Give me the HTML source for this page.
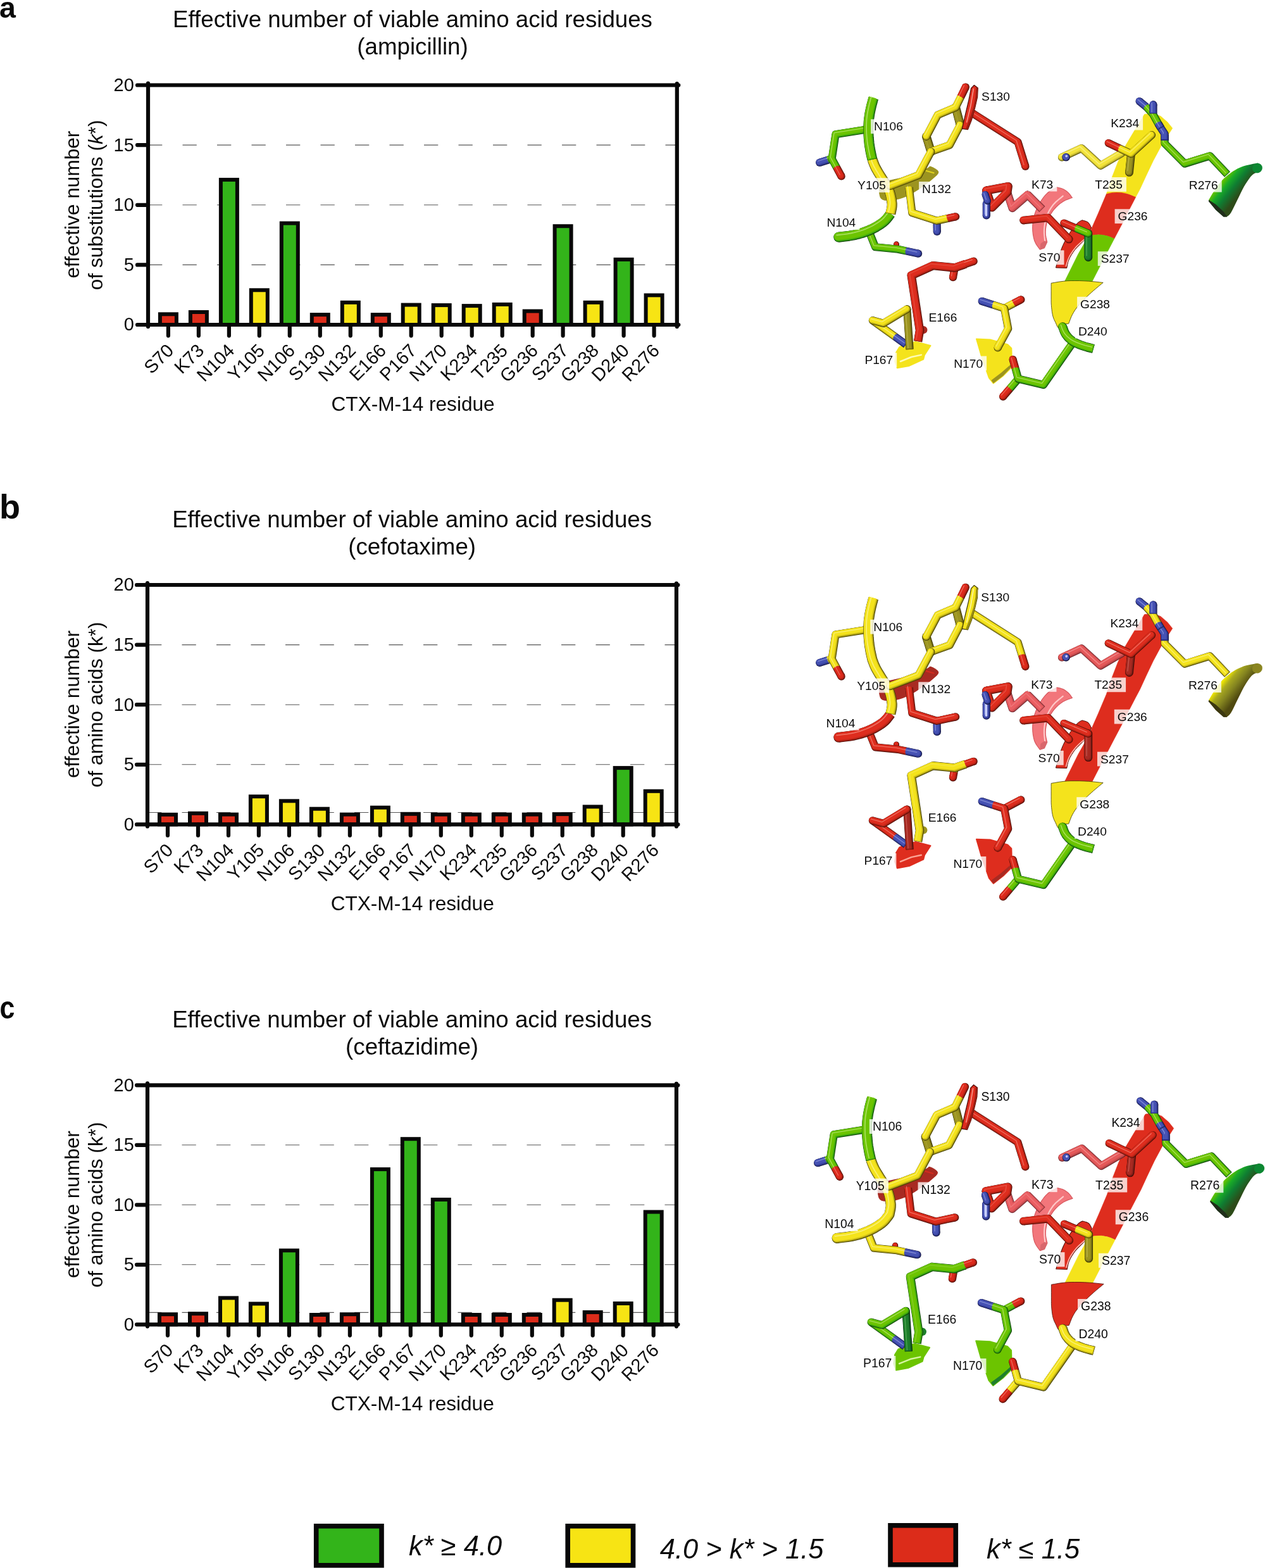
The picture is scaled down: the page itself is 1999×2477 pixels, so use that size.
<!DOCTYPE html>
<html lang="en"><head><meta charset="utf-8"><title>Effective number of viable amino acid residues</title>
<style>
html,body{margin:0;padding:0;background:#fff;}
body{width:1999px;height:2477px;overflow:hidden;}
svg{display:block;font-family:"Liberation Sans",Arial,Helvetica,sans-serif;}
text{fill:#0a0a0a;}
</style></head><body>
<svg width="1999" height="2477" viewBox="0 0 1999 2477">
<rect width="1999" height="2477" fill="#fff"/>
<g id="chart-a">
<line x1="234.0" y1="418.4" x2="1069.8" y2="418.4" stroke="#555" stroke-width="1.1" stroke-dasharray="22.3 32.2"/>
<line x1="234.0" y1="323.8" x2="1069.8" y2="323.8" stroke="#555" stroke-width="1.1" stroke-dasharray="22.3 32.2"/>
<line x1="234.0" y1="229.1" x2="1069.8" y2="229.1" stroke="#555" stroke-width="1.1" stroke-dasharray="22.3 32.2"/>
<rect x="252.9" y="496.3" width="26" height="16.7" fill="#dc2c1a" stroke="#080808" stroke-width="6"/>
<rect x="300.9" y="493.0" width="26" height="20.0" fill="#dc2c1a" stroke="#080808" stroke-width="6"/>
<rect x="348.9" y="283.9" width="26" height="229.1" fill="#33b41a" stroke="#080808" stroke-width="6"/>
<rect x="396.8" y="458.3" width="26" height="54.7" fill="#f7e414" stroke="#080808" stroke-width="6"/>
<rect x="444.8" y="352.6" width="26" height="160.4" fill="#33b41a" stroke="#080808" stroke-width="6"/>
<rect x="492.8" y="497.1" width="26" height="15.9" fill="#dc2c1a" stroke="#080808" stroke-width="6"/>
<rect x="540.8" y="477.8" width="26" height="35.2" fill="#f7e414" stroke="#080808" stroke-width="6"/>
<rect x="588.8" y="497.1" width="26" height="15.9" fill="#dc2c1a" stroke="#080808" stroke-width="6"/>
<rect x="636.7" y="481.6" width="26" height="31.4" fill="#f7e414" stroke="#080808" stroke-width="6"/>
<rect x="684.7" y="482.1" width="26" height="30.9" fill="#f7e414" stroke="#080808" stroke-width="6"/>
<rect x="732.7" y="483.1" width="26" height="29.9" fill="#f7e414" stroke="#080808" stroke-width="6"/>
<rect x="780.7" y="480.9" width="26" height="32.1" fill="#f7e414" stroke="#080808" stroke-width="6"/>
<rect x="828.7" y="491.5" width="26" height="21.5" fill="#dc2c1a" stroke="#080808" stroke-width="6"/>
<rect x="876.6" y="357.2" width="26" height="155.8" fill="#33b41a" stroke="#080808" stroke-width="6"/>
<rect x="924.6" y="477.8" width="26" height="35.2" fill="#f7e414" stroke="#080808" stroke-width="6"/>
<rect x="972.6" y="409.9" width="26" height="103.1" fill="#33b41a" stroke="#080808" stroke-width="6"/>
<rect x="1020.6" y="466.4" width="26" height="46.6" fill="#f7e414" stroke="#080808" stroke-width="6"/>
<g stroke="#080808" stroke-width="6.2" stroke-linecap="round" fill="none">
<path d="M234.0 131.5V516.0M1069.8 132.0V516.0M217.0 134.5H1072.3M217.0 513.0H1072.3"/>
<path d="M217.0 418.4H234.0M217.0 323.8H234.0M217.0 229.1H234.0M265.9 513.0V530.3M313.9 513.0V530.3M361.9 513.0V530.3M409.8 513.0V530.3M457.8 513.0V530.3M505.8 513.0V530.3M553.8 513.0V530.3M601.8 513.0V530.3M649.7 513.0V530.3M697.7 513.0V530.3M745.7 513.0V530.3M793.7 513.0V530.3M841.7 513.0V530.3M889.6 513.0V530.3M937.6 513.0V530.3M985.6 513.0V530.3M1033.6 513.0V530.3"/>
</g>
<g font-size="29" text-anchor="end">
<text x="211.8" y="522.4">0</text>
<text x="211.8" y="427.8">5</text>
<text x="211.8" y="333.1">10</text>
<text x="211.8" y="238.5">15</text>
<text x="211.8" y="143.9">20</text>
</g>
<g font-size="29" text-anchor="end">
<text transform="translate(276.1 555.5) rotate(-45)">S70</text>
<text transform="translate(324.1 555.5) rotate(-45)">K73</text>
<text transform="translate(372.1 555.5) rotate(-45)">N104</text>
<text transform="translate(420.0 555.5) rotate(-45)">Y105</text>
<text transform="translate(468.0 555.5) rotate(-45)">N106</text>
<text transform="translate(516.0 555.5) rotate(-45)">S130</text>
<text transform="translate(564.0 555.5) rotate(-45)">N132</text>
<text transform="translate(612.0 555.5) rotate(-45)">E166</text>
<text transform="translate(659.9 555.5) rotate(-45)">P167</text>
<text transform="translate(707.9 555.5) rotate(-45)">N170</text>
<text transform="translate(755.9 555.5) rotate(-45)">K234</text>
<text transform="translate(803.9 555.5) rotate(-45)">T235</text>
<text transform="translate(851.9 555.5) rotate(-45)">G236</text>
<text transform="translate(899.8 555.5) rotate(-45)">S237</text>
<text transform="translate(947.8 555.5) rotate(-45)">G238</text>
<text transform="translate(995.8 555.5) rotate(-45)">D240</text>
<text transform="translate(1043.8 555.5) rotate(-45)">R276</text>
</g>
<g font-size="31.6" text-anchor="middle">
<text transform="translate(125.2 323.1) rotate(-90)">effective number</text>
<text transform="translate(162.3 323.8) rotate(-90)">of substitutions (<tspan font-style="italic">k</tspan>*)</text>
<text x="652.6" y="648.8">CTX-M-14 residue</text>
</g>
<g font-size="36.7" text-anchor="middle">
<text x="652.0" y="42.7">Effective number of viable amino acid residues</text>
<text x="652.0" y="86.0">(ampicillin)</text>
</g>
</g>
<g id="chart-b">
<line x1="233.0" y1="1207.8" x2="1068.9" y2="1207.8" stroke="#555" stroke-width="1.1" stroke-dasharray="22.3 32.2"/>
<line x1="233.0" y1="1113.2" x2="1068.9" y2="1113.2" stroke="#555" stroke-width="1.1" stroke-dasharray="22.3 32.2"/>
<line x1="233.0" y1="1018.6" x2="1068.9" y2="1018.6" stroke="#555" stroke-width="1.1" stroke-dasharray="22.3 32.2"/>
<line x1="233.0" y1="1283.5" x2="1068.9" y2="1283.5" stroke="#555" stroke-width="1.1" stroke-dasharray="22.3 32.2"/>
<rect x="252.0" y="1286.8" width="26" height="15.6" fill="#dc2c1a" stroke="#080808" stroke-width="6"/>
<rect x="300.0" y="1284.8" width="26" height="17.6" fill="#dc2c1a" stroke="#080808" stroke-width="6"/>
<rect x="348.0" y="1286.6" width="26" height="15.8" fill="#dc2c1a" stroke="#080808" stroke-width="6"/>
<rect x="395.9" y="1258.2" width="26" height="44.2" fill="#f7e414" stroke="#080808" stroke-width="6"/>
<rect x="443.9" y="1265.3" width="26" height="37.1" fill="#f7e414" stroke="#080808" stroke-width="6"/>
<rect x="491.9" y="1277.7" width="26" height="24.7" fill="#f7e414" stroke="#080808" stroke-width="6"/>
<rect x="539.9" y="1286.6" width="26" height="15.8" fill="#dc2c1a" stroke="#080808" stroke-width="6"/>
<rect x="587.9" y="1275.7" width="26" height="26.7" fill="#f7e414" stroke="#080808" stroke-width="6"/>
<rect x="635.8" y="1285.8" width="26" height="16.6" fill="#dc2c1a" stroke="#080808" stroke-width="6"/>
<rect x="683.8" y="1286.6" width="26" height="15.8" fill="#dc2c1a" stroke="#080808" stroke-width="6"/>
<rect x="731.8" y="1286.6" width="26" height="15.8" fill="#dc2c1a" stroke="#080808" stroke-width="6"/>
<rect x="779.8" y="1286.6" width="26" height="15.8" fill="#dc2c1a" stroke="#080808" stroke-width="6"/>
<rect x="827.8" y="1286.6" width="26" height="15.8" fill="#dc2c1a" stroke="#080808" stroke-width="6"/>
<rect x="875.7" y="1286.1" width="26" height="16.3" fill="#dc2c1a" stroke="#080808" stroke-width="6"/>
<rect x="923.7" y="1274.4" width="26" height="28.0" fill="#f7e414" stroke="#080808" stroke-width="6"/>
<rect x="971.7" y="1213.1" width="26" height="89.3" fill="#33b41a" stroke="#080808" stroke-width="6"/>
<rect x="1019.7" y="1249.8" width="26" height="52.6" fill="#f7e414" stroke="#080808" stroke-width="6"/>
<g stroke="#080808" stroke-width="6.2" stroke-linecap="round" fill="none">
<path d="M233.0 921.0V1305.4M1068.9 921.5V1305.4M216.0 924.0H1071.4M216.0 1302.4H1071.4"/>
<path d="M216.0 1207.8H233.0M216.0 1113.2H233.0M216.0 1018.6H233.0M265.0 1302.4V1319.7M313.0 1302.4V1319.7M361.0 1302.4V1319.7M408.9 1302.4V1319.7M456.9 1302.4V1319.7M504.9 1302.4V1319.7M552.9 1302.4V1319.7M600.9 1302.4V1319.7M648.8 1302.4V1319.7M696.8 1302.4V1319.7M744.8 1302.4V1319.7M792.8 1302.4V1319.7M840.8 1302.4V1319.7M888.7 1302.4V1319.7M936.7 1302.4V1319.7M984.7 1302.4V1319.7M1032.7 1302.4V1319.7"/>
</g>
<g font-size="29" text-anchor="end">
<text x="211.8" y="1311.8">0</text>
<text x="211.8" y="1217.2">5</text>
<text x="211.8" y="1122.6">10</text>
<text x="211.8" y="1028.0">15</text>
<text x="211.8" y="933.4">20</text>
</g>
<g font-size="29" text-anchor="end">
<text transform="translate(275.2 1344.9) rotate(-45)">S70</text>
<text transform="translate(323.2 1344.9) rotate(-45)">K73</text>
<text transform="translate(371.2 1344.9) rotate(-45)">N104</text>
<text transform="translate(419.1 1344.9) rotate(-45)">Y105</text>
<text transform="translate(467.1 1344.9) rotate(-45)">N106</text>
<text transform="translate(515.1 1344.9) rotate(-45)">S130</text>
<text transform="translate(563.1 1344.9) rotate(-45)">N132</text>
<text transform="translate(611.1 1344.9) rotate(-45)">E166</text>
<text transform="translate(659.0 1344.9) rotate(-45)">P167</text>
<text transform="translate(707.0 1344.9) rotate(-45)">N170</text>
<text transform="translate(755.0 1344.9) rotate(-45)">K234</text>
<text transform="translate(803.0 1344.9) rotate(-45)">T235</text>
<text transform="translate(851.0 1344.9) rotate(-45)">G236</text>
<text transform="translate(898.9 1344.9) rotate(-45)">S237</text>
<text transform="translate(946.9 1344.9) rotate(-45)">G238</text>
<text transform="translate(994.9 1344.9) rotate(-45)">D240</text>
<text transform="translate(1042.9 1344.9) rotate(-45)">R276</text>
</g>
<g font-size="31.6" text-anchor="middle">
<text transform="translate(125.2 1112.5) rotate(-90)">effective number</text>
<text transform="translate(162.3 1113.2) rotate(-90)">of amino acids (k*)</text>
<text x="651.7" y="1438.2">CTX-M-14 residue</text>
</g>
<g font-size="36.7" text-anchor="middle">
<text x="651.1" y="832.8">Effective number of viable amino acid residues</text>
<text x="651.1" y="876.1">(cefotaxime)</text>
</g>
</g>
<g id="chart-c">
<line x1="233.0" y1="1997.8" x2="1068.9" y2="1997.8" stroke="#555" stroke-width="1.1" stroke-dasharray="22.3 32.2"/>
<line x1="233.0" y1="1903.3" x2="1068.9" y2="1903.3" stroke="#555" stroke-width="1.1" stroke-dasharray="22.3 32.2"/>
<line x1="233.0" y1="1808.8" x2="1068.9" y2="1808.8" stroke="#555" stroke-width="1.1" stroke-dasharray="22.3 32.2"/>
<line x1="233.0" y1="2073.4" x2="1068.9" y2="2073.4" stroke="#555" stroke-width="1.1" stroke-dasharray="22.3 32.2"/>
<rect x="252.0" y="2076.2" width="26" height="16.1" fill="#dc2c1a" stroke="#080808" stroke-width="6"/>
<rect x="300.0" y="2075.2" width="26" height="17.1" fill="#dc2c1a" stroke="#080808" stroke-width="6"/>
<rect x="348.0" y="2050.4" width="26" height="41.9" fill="#f7e414" stroke="#080808" stroke-width="6"/>
<rect x="395.9" y="2059.5" width="26" height="32.8" fill="#f7e414" stroke="#080808" stroke-width="6"/>
<rect x="443.9" y="1975.4" width="26" height="116.9" fill="#33b41a" stroke="#080808" stroke-width="6"/>
<rect x="491.9" y="2077.0" width="26" height="15.3" fill="#dc2c1a" stroke="#080808" stroke-width="6"/>
<rect x="539.9" y="2076.2" width="26" height="16.1" fill="#dc2c1a" stroke="#080808" stroke-width="6"/>
<rect x="587.9" y="1847.1" width="26" height="245.2" fill="#33b41a" stroke="#080808" stroke-width="6"/>
<rect x="635.8" y="1799.2" width="26" height="293.1" fill="#33b41a" stroke="#080808" stroke-width="6"/>
<rect x="683.8" y="1895.0" width="26" height="197.3" fill="#33b41a" stroke="#080808" stroke-width="6"/>
<rect x="731.8" y="2077.0" width="26" height="15.3" fill="#dc2c1a" stroke="#080808" stroke-width="6"/>
<rect x="779.8" y="2077.0" width="26" height="15.3" fill="#dc2c1a" stroke="#080808" stroke-width="6"/>
<rect x="827.8" y="2077.0" width="26" height="15.3" fill="#dc2c1a" stroke="#080808" stroke-width="6"/>
<rect x="875.7" y="2053.7" width="26" height="38.6" fill="#f7e414" stroke="#080808" stroke-width="6"/>
<rect x="923.7" y="2072.9" width="26" height="19.4" fill="#dc2c1a" stroke="#080808" stroke-width="6"/>
<rect x="971.7" y="2059.0" width="26" height="33.3" fill="#f7e414" stroke="#080808" stroke-width="6"/>
<rect x="1019.7" y="1914.5" width="26" height="177.8" fill="#33b41a" stroke="#080808" stroke-width="6"/>
<g stroke="#080808" stroke-width="6.2" stroke-linecap="round" fill="none">
<path d="M233.0 1711.3V2095.3M1068.9 1711.8V2095.3M216.0 1714.3H1071.4M216.0 2092.3H1071.4"/>
<path d="M216.0 1997.8H233.0M216.0 1903.3H233.0M216.0 1808.8H233.0M265.0 2092.3V2109.6M313.0 2092.3V2109.6M361.0 2092.3V2109.6M408.9 2092.3V2109.6M456.9 2092.3V2109.6M504.9 2092.3V2109.6M552.9 2092.3V2109.6M600.9 2092.3V2109.6M648.8 2092.3V2109.6M696.8 2092.3V2109.6M744.8 2092.3V2109.6M792.8 2092.3V2109.6M840.8 2092.3V2109.6M888.7 2092.3V2109.6M936.7 2092.3V2109.6M984.7 2092.3V2109.6M1032.7 2092.3V2109.6"/>
</g>
<g font-size="29" text-anchor="end">
<text x="211.8" y="2101.7">0</text>
<text x="211.8" y="2007.2">5</text>
<text x="211.8" y="1912.7">10</text>
<text x="211.8" y="1818.2">15</text>
<text x="211.8" y="1723.7">20</text>
</g>
<g font-size="29" text-anchor="end">
<text transform="translate(275.2 2134.8) rotate(-45)">S70</text>
<text transform="translate(323.2 2134.8) rotate(-45)">K73</text>
<text transform="translate(371.2 2134.8) rotate(-45)">N104</text>
<text transform="translate(419.1 2134.8) rotate(-45)">Y105</text>
<text transform="translate(467.1 2134.8) rotate(-45)">N106</text>
<text transform="translate(515.1 2134.8) rotate(-45)">S130</text>
<text transform="translate(563.1 2134.8) rotate(-45)">N132</text>
<text transform="translate(611.1 2134.8) rotate(-45)">E166</text>
<text transform="translate(659.0 2134.8) rotate(-45)">P167</text>
<text transform="translate(707.0 2134.8) rotate(-45)">N170</text>
<text transform="translate(755.0 2134.8) rotate(-45)">K234</text>
<text transform="translate(803.0 2134.8) rotate(-45)">T235</text>
<text transform="translate(851.0 2134.8) rotate(-45)">G236</text>
<text transform="translate(898.9 2134.8) rotate(-45)">S237</text>
<text transform="translate(946.9 2134.8) rotate(-45)">G238</text>
<text transform="translate(994.9 2134.8) rotate(-45)">D240</text>
<text transform="translate(1042.9 2134.8) rotate(-45)">R276</text>
</g>
<g font-size="31.6" text-anchor="middle">
<text transform="translate(125.2 1902.6) rotate(-90)">effective number</text>
<text transform="translate(162.3 1903.3) rotate(-90)">of amino acids (k*)</text>
<text x="651.7" y="2228.1">CTX-M-14 residue</text>
</g>
<g font-size="36.7" text-anchor="middle">
<text x="651.1" y="1622.5">Effective number of viable amino acid residues</text>
<text x="651.1" y="1665.8">(ceftazidime)</text>
</g>
</g>
<g id="mol-a" stroke-linecap="butt">
<path d="M1406.5 284.5L1413.4 283.0L1423.3 280.9L1433.9 278.4L1442.8 275.9L1449.8 273.2L1455.9 270.3L1461.1 267.6L1465.3 265.5L1467.8 264.1L1468.9 263.0L1469.8 262.6L1471.3 262.9L1474.4 264.2L1478.3 266.4L1481.8 269.0L1483.4 271.6L1482.8 274.1L1480.7 276.8L1477.6 279.6L1473.9 282.8L1469.5 286.5L1464.2 290.5L1458.6 294.6L1453.2 298.4L1448.0 301.8L1442.8 305.0L1437.6 307.9L1432.4 310.4L1427.2 312.5L1421.8 314.3L1416.6 315.6L1411.7 316.5L1406.9 317.0L1402.1 317.1L1397.8 316.7L1394.4 315.6L1392.1 313.8L1390.6 311.4L1389.8 308.4L1389.2 305.3L1388.9 301.5L1388.8 297.2L1389.4 293.0L1391.0 289.7L1394.2 287.6L1398.8 286.1L1403.4 285.2L1406.5 284.5Z" fill="#9c9420"/>
<path d="M1463.5 269.8L1475.6 273.3" stroke="#f4e31c" stroke-width="2.2" fill="none" stroke-linecap="round" stroke-linejoin="round" opacity="0.8"/>
<path d="M1670.2 295.9L1667.5 297.3L1663.6 299.3L1659.4 301.7L1655.5 304.6L1652.2 307.9L1649.1 311.7L1646.1 315.8L1643.4 320.1L1640.9 324.6L1638.5 329.3L1636.5 334.2L1634.8 339.1L1633.5 344.2L1632.5 349.4L1631.9 354.6L1631.7 359.9L1631.9 365.2L1632.5 370.7L1633.5 375.9L1634.8 380.6L1636.8 384.8L1639.3 388.6L1641.7 391.8L1643.4 394.1L1650.3 391.8L1654.7 382.3L1654.0 379.6L1653.1 375.7L1652.3 371.3L1652.1 366.8L1652.3 362.2L1653.0 357.4L1654.0 352.5L1655.5 347.8L1657.5 343.2L1660.1 338.7L1662.9 334.4L1665.9 330.5L1669.1 327.0L1672.5 323.7L1676.1 320.9L1679.7 318.4L1683.7 316.3L1687.9 314.6L1691.7 313.3L1694.4 312.3L1694.4 312.3L1692.9 310.3L1690.8 307.3L1688.4 304.6L1685.7 302.3L1682.8 300.2L1679.7 298.5L1676.3 297.3L1672.7 296.5L1670.2 295.9Z" fill="#f2767b" stroke="#d8585e" stroke-width="1.2" stroke-linejoin="round"/>
<path d="M1679.7 309.7L1676.8 312.1L1672.6 315.5L1668.0 319.4L1664.2 323.6L1661.1 327.9L1658.2 332.6L1655.8 337.6L1653.8 342.6L1652.3 347.7L1651.2 353.1L1650.4 358.3L1650.0 363.3L1650.0 368.3L1650.4 373.2L1650.9 377.6L1651.2 380.6" stroke="#ffc8c8" stroke-width="2.2" fill="none" stroke-linecap="round" stroke-linejoin="round"/>
<path d="M1643.4 394.1L1650.7 391.7L1654.8 382.3L1650.3 380.6L1644.3 384.9Z" fill="#d9676c"/>
<path d="M1646.9 330.5L1624.1 307.7L1599.9 328.8L1591.6 303.7" stroke="#6c2830" stroke-width="12.8" stroke-linejoin="round" fill="none"/>
<circle cx="1591.6" cy="303.7" r="6.4" fill="#6c2830"/>
<path d="M1646.9 330.5L1624.1 307.7L1599.9 328.8L1591.6 303.7" stroke="#b8464a" stroke-width="11.6" stroke-linejoin="round" fill="none" transform="translate(-0.25 -0.25)"/>
<circle cx="1591.6" cy="303.7" r="5.8" fill="#b8464a" transform="translate(-0.25 -0.25)"/>
<path d="M1646.9 330.5L1624.1 307.7L1599.9 328.8L1591.6 303.7" stroke="#d65458" stroke-width="10.0" stroke-linejoin="round" fill="none" transform="translate(-0.8 -0.8)"/>
<circle cx="1591.6" cy="303.7" r="5.0" fill="#d65458" transform="translate(-0.8 -0.8)"/>
<path d="M1646.9 330.5L1624.1 307.7L1599.9 328.8L1591.6 303.7" stroke="#ea5e62" stroke-width="8.2" stroke-linejoin="round" fill="none" transform="translate(-1.5 -1.5)"/>
<circle cx="1591.6" cy="303.7" r="4.1" fill="#ea5e62" transform="translate(-1.5 -1.5)"/>
<path d="M1646.9 330.5L1624.1 307.7L1599.9 328.8L1591.6 303.7" stroke="#ffc4c4" stroke-width="1.4" stroke-linejoin="round" stroke-linecap="round" fill="none" transform="translate(-2.6 -2.6)" opacity="0.25"/>
<path d="M1558.8 301.1L1593.3 294.5L1591.9 303.7L1567.7 327.9L1558.8 301.1" stroke="#4a0c06" stroke-width="13.2" stroke-linejoin="round" fill="none"/>
<circle cx="1558.8" cy="301.1" r="6.6" fill="#4a0c06"/>
<circle cx="1558.8" cy="301.1" r="6.6" fill="#4a0c06"/>
<path d="M1558.8 301.1L1593.3 294.5L1591.9 303.7L1567.7 327.9L1558.8 301.1" stroke="#9c1e12" stroke-width="12.0" stroke-linejoin="round" fill="none" transform="translate(-0.25 -0.25)"/>
<circle cx="1558.8" cy="301.1" r="6.0" fill="#9c1e12" transform="translate(-0.25 -0.25)"/>
<circle cx="1558.8" cy="301.1" r="6.0" fill="#9c1e12" transform="translate(-0.25 -0.25)"/>
<path d="M1558.8 301.1L1593.3 294.5L1591.9 303.7L1567.7 327.9L1558.8 301.1" stroke="#c8281a" stroke-width="10.4" stroke-linejoin="round" fill="none" transform="translate(-0.8 -0.8)"/>
<circle cx="1558.8" cy="301.1" r="5.2" fill="#c8281a" transform="translate(-0.8 -0.8)"/>
<circle cx="1558.8" cy="301.1" r="5.2" fill="#c8281a" transform="translate(-0.8 -0.8)"/>
<path d="M1558.8 301.1L1593.3 294.5L1591.9 303.7L1567.7 327.9L1558.8 301.1" stroke="#de2d1e" stroke-width="8.6" stroke-linejoin="round" fill="none" transform="translate(-1.5 -1.5)"/>
<circle cx="1558.8" cy="301.1" r="4.3" fill="#de2d1e" transform="translate(-1.5 -1.5)"/>
<circle cx="1558.8" cy="301.1" r="4.3" fill="#de2d1e" transform="translate(-1.5 -1.5)"/>
<path d="M1558.8 301.1L1593.3 294.5L1591.9 303.7L1567.7 327.9L1558.8 301.1" stroke="#ffb0a2" stroke-width="1.5" stroke-linejoin="round" stroke-linecap="round" fill="none" transform="translate(-2.6 -2.6)" opacity="0.25"/>
<path d="M1558.8 321.8L1558.8 340.5" stroke="#12143e" stroke-width="12.2" stroke-linejoin="round" fill="none"/>
<circle cx="1558.8" cy="321.8" r="6.1" fill="#12143e"/>
<circle cx="1558.8" cy="340.5" r="6.1" fill="#12143e"/>
<path d="M1558.8 321.8L1558.8 340.5" stroke="#2b3384" stroke-width="11.0" stroke-linejoin="round" fill="none" transform="translate(-0.25 -0.25)"/>
<circle cx="1558.8" cy="321.8" r="5.5" fill="#2b3384" transform="translate(-0.25 -0.25)"/>
<circle cx="1558.8" cy="340.5" r="5.5" fill="#2b3384" transform="translate(-0.25 -0.25)"/>
<path d="M1558.8 321.8L1558.8 340.5" stroke="#3c47a4" stroke-width="9.4" stroke-linejoin="round" fill="none" transform="translate(-0.8 -0.8)"/>
<circle cx="1558.8" cy="321.8" r="4.7" fill="#3c47a4" transform="translate(-0.8 -0.8)"/>
<circle cx="1558.8" cy="340.5" r="4.7" fill="#3c47a4" transform="translate(-0.8 -0.8)"/>
<path d="M1558.8 321.8L1558.8 340.5" stroke="#4652b4" stroke-width="7.6" stroke-linejoin="round" fill="none" transform="translate(-1.5 -1.5)"/>
<circle cx="1558.8" cy="321.8" r="3.8" fill="#4652b4" transform="translate(-1.5 -1.5)"/>
<circle cx="1558.8" cy="340.5" r="3.8" fill="#4652b4" transform="translate(-1.5 -1.5)"/>
<path d="M1558.8 321.8L1558.8 340.5" stroke="#c0c8f8" stroke-width="1.3" stroke-linejoin="round" stroke-linecap="round" fill="none" transform="translate(-2.4 -2.4)" opacity="0.5"/>
<path d="M1558.4 321.8L1558.4 340.0" stroke="#c9d0fa" stroke-width="3.6" fill="none" stroke-linecap="round" stroke-linejoin="round"/>
<path d="M1557.0 307.2L1560.5 317.5" stroke="#12143e" stroke-width="11.0" stroke-linejoin="round" fill="none"/>
<circle cx="1557.0" cy="307.2" r="5.5" fill="#12143e"/>
<circle cx="1560.5" cy="317.5" r="5.5" fill="#12143e"/>
<path d="M1557.0 307.2L1560.5 317.5" stroke="#2b3384" stroke-width="9.8" stroke-linejoin="round" fill="none" transform="translate(-0.25 -0.25)"/>
<circle cx="1557.0" cy="307.2" r="4.9" fill="#2b3384" transform="translate(-0.25 -0.25)"/>
<circle cx="1560.5" cy="317.5" r="4.9" fill="#2b3384" transform="translate(-0.25 -0.25)"/>
<path d="M1557.0 307.2L1560.5 317.5" stroke="#3c47a4" stroke-width="8.2" stroke-linejoin="round" fill="none" transform="translate(-0.8 -0.8)"/>
<circle cx="1557.0" cy="307.2" r="4.1" fill="#3c47a4" transform="translate(-0.8 -0.8)"/>
<circle cx="1560.5" cy="317.5" r="4.1" fill="#3c47a4" transform="translate(-0.8 -0.8)"/>
<path d="M1557.0 307.2L1560.5 317.5" stroke="#4652b4" stroke-width="6.4" stroke-linejoin="round" fill="none" transform="translate(-1.5 -1.5)"/>
<circle cx="1557.0" cy="307.2" r="3.2" fill="#4652b4" transform="translate(-1.5 -1.5)"/>
<circle cx="1560.5" cy="317.5" r="3.2" fill="#4652b4" transform="translate(-1.5 -1.5)"/>
<path d="M1557.0 307.2L1560.5 317.5" stroke="#c0c8f8" stroke-width="1.2" stroke-linejoin="round" stroke-linecap="round" fill="none" transform="translate(-2.2 -2.2)" opacity="0.5"/>
<path d="M1710.0 347.8L1708.7 348.4L1706.8 349.4L1704.6 350.8L1702.2 352.9L1699.4 356.0L1696.3 359.9L1693.1 364.1L1690.1 368.5L1687.3 373.0L1684.6 377.8L1682.0 382.7L1679.7 387.5L1677.7 392.3L1675.9 397.2L1674.3 401.9L1672.8 406.5L1671.4 411.2L1670.2 415.9L1669.2 420.0L1668.5 422.9L1685.8 423.4L1686.2 421.1L1686.9 417.7L1687.8 413.8L1689.2 410.0L1691.0 406.2L1693.2 402.4L1695.8 398.4L1698.7 394.4L1702.3 390.4L1706.4 386.4L1710.6 382.2L1714.3 378.0L1717.5 373.2L1720.4 367.9L1722.9 363.2L1724.6 359.9L1724.6 359.9L1723.5 357.4L1721.7 354.0L1719.5 351.2L1716.3 349.6L1712.6 348.5L1710.0 347.8Z" fill="#de2d1e" stroke="#4a0c06" stroke-width="1" stroke-linejoin="round"/>
<path d="M1716.9 375.4L1714.0 377.9L1709.8 381.3L1705.3 385.3L1701.3 389.2L1698.1 393.0L1695.1 396.9L1692.4 400.9L1690.1 404.8L1688.2 409.0L1686.6 413.5L1685.4 417.5L1684.6 420.3" stroke="#ffb0a8" stroke-width="1.8" fill="none" stroke-linecap="round" stroke-linejoin="round"/>
<path d="M1808.5 180.5L1792.6 206.6L1778.2 230.8L1766.2 256.9L1755.5 284.5L1748.4 306.5Q1770.0 299.5 1794.6 311.6L1801.5 298.6L1811.0 277.9L1822.5 253.7L1835.5 229.5L1852.7 202.6L1845.0 193.0L1834.0 183.5L1822.0 179.0Z" fill="#f4e31c" stroke="#f4e31c" stroke-width="0.7" stroke-linejoin="round"/>
<path d="M1748.4 306.5L1735.5 337.0L1725.4 359.9L1719.6 373.7Q1739.0 366.5 1760.8 377.1L1776.5 347.3L1783.0 334.0L1794.6 311.6Q1770.0 299.5 1748.4 306.5Z" fill="#de2d1e" stroke="#de2d1e" stroke-width="0.7" stroke-linejoin="round"/>
<path d="M1719.6 373.7L1703.9 401.3L1682.5 444.5L1725.4 445.5L1741.9 413.4L1760.8 377.1Q1739.0 366.5 1719.6 373.7Z" fill="#6cc400" stroke="#6cc400" stroke-width="0.7" stroke-linejoin="round"/>
<path d="M1661.1 447.3L1666.3 446.4L1673.8 445.1L1681.0 444.2L1686.7 443.7L1692.2 443.5L1698.2 443.5L1705.3 443.5L1713.0 443.8L1720.7 444.2L1729.0 444.9L1737.3 445.8L1743.2 446.4L1743.2 446.4L1740.3 448.8L1736.1 452.2L1731.6 456.0L1727.6 459.4L1724.4 462.3L1721.4 465.0L1718.5 467.7L1715.5 470.6L1712.4 473.7L1709.3 477.0L1706.2 480.3L1703.4 483.6L1701.0 486.8L1698.7 489.9L1696.7 493.2L1694.8 496.5L1692.9 500.4L1691.2 504.7L1689.8 508.5L1688.7 511.2L1688.7 511.2L1687.3 511.4L1685.3 511.5L1683.1 511.9L1681.0 512.6L1679.0 514.1L1676.9 516.2L1674.9 517.9L1673.2 518.5L1671.7 517.3L1670.4 515.0L1669.2 512.2L1668.0 509.5L1666.8 507.1L1665.6 504.6L1664.6 502.0L1663.7 499.1L1663.0 495.9L1662.4 492.3L1662.0 488.7L1661.6 485.3L1661.4 482.5L1661.2 480.0L1661.1 477.2L1661.1 473.2L1661.1 467.1L1661.1 459.5L1661.1 452.3L1661.1 447.3Z" fill="#f4e31c" stroke="#3e3a02" stroke-width="0.8" stroke-linejoin="round"/>
<path d="M1543.0 535.5L1564.6 536.4L1592.3 544.2L1598.3 550.2L1599.2 579.6L1585.4 593.4L1569.8 605.5L1562.9 596.9L1550.8 562.3L1545.6 544.2Z" fill="#f4e31c" stroke="#f4e31c" stroke-width="2" stroke-linejoin="round"/>
<path d="M1599.2 578.7L1585.4 593.4L1569.8 605.5L1566.4 600.7L1581.9 589.1L1597.8 575.3Z" fill="#9c9420"/>
<path d="M1604.8 582.6L1600.6 567.9" stroke="#480a04" stroke-width="12.2" stroke-linejoin="round" fill="none"/>
<circle cx="1600.6" cy="567.9" r="6.1" fill="#480a04"/>
<path d="M1604.8 582.6L1600.6 567.9" stroke="#981c10" stroke-width="11.0" stroke-linejoin="round" fill="none" transform="translate(-0.25 -0.25)"/>
<circle cx="1600.6" cy="567.9" r="5.5" fill="#981c10" transform="translate(-0.25 -0.25)"/>
<path d="M1604.8 582.6L1600.6 567.9" stroke="#c42618" stroke-width="9.4" stroke-linejoin="round" fill="none" transform="translate(-0.8 -0.8)"/>
<circle cx="1600.6" cy="567.9" r="4.7" fill="#c42618" transform="translate(-0.8 -0.8)"/>
<path d="M1604.8 582.6L1600.6 567.9" stroke="#dc2a1c" stroke-width="7.6" stroke-linejoin="round" fill="none" transform="translate(-1.5 -1.5)"/>
<circle cx="1600.6" cy="567.9" r="3.8" fill="#dc2a1c" transform="translate(-1.5 -1.5)"/>
<path d="M1604.8 582.6L1600.6 567.9" stroke="#ffa595" stroke-width="1.3" stroke-linejoin="round" stroke-linecap="round" fill="none" transform="translate(-2.4 -2.4)" opacity="0.5"/>
<path d="M1609.2 598.5L1595.9 614.0" stroke="#123c06" stroke-width="12.2" stroke-linejoin="round" fill="none"/>
<path d="M1609.2 598.5L1595.9 614.0" stroke="#2a9412" stroke-width="11.0" stroke-linejoin="round" fill="none" transform="translate(-0.25 -0.25)"/>
<path d="M1609.2 598.5L1595.9 614.0" stroke="#55b808" stroke-width="9.4" stroke-linejoin="round" fill="none" transform="translate(-0.8 -0.8)"/>
<path d="M1609.2 598.5L1595.9 614.0" stroke="#6cc400" stroke-width="7.6" stroke-linejoin="round" fill="none" transform="translate(-1.5 -1.5)"/>
<path d="M1609.2 598.5L1595.9 614.0" stroke="#e2f9b4" stroke-width="1.3" stroke-linejoin="round" stroke-linecap="round" fill="none" transform="translate(-2.4 -2.4)" opacity="0.5"/>
<path d="M1595.9 614.0L1585.1 626.6" stroke="#480a04" stroke-width="12.2" stroke-linejoin="round" fill="none"/>
<circle cx="1585.1" cy="626.6" r="6.1" fill="#480a04"/>
<path d="M1595.9 614.0L1585.1 626.6" stroke="#981c10" stroke-width="11.0" stroke-linejoin="round" fill="none" transform="translate(-0.25 -0.25)"/>
<circle cx="1585.1" cy="626.6" r="5.5" fill="#981c10" transform="translate(-0.25 -0.25)"/>
<path d="M1595.9 614.0L1585.1 626.6" stroke="#c42618" stroke-width="9.4" stroke-linejoin="round" fill="none" transform="translate(-0.8 -0.8)"/>
<circle cx="1585.1" cy="626.6" r="4.7" fill="#c42618" transform="translate(-0.8 -0.8)"/>
<path d="M1595.9 614.0L1585.1 626.6" stroke="#dc2a1c" stroke-width="7.6" stroke-linejoin="round" fill="none" transform="translate(-1.5 -1.5)"/>
<circle cx="1585.1" cy="626.6" r="3.8" fill="#dc2a1c" transform="translate(-1.5 -1.5)"/>
<path d="M1595.9 614.0L1585.1 626.6" stroke="#ffa595" stroke-width="1.3" stroke-linejoin="round" stroke-linecap="round" fill="none" transform="translate(-2.4 -2.4)" opacity="0.5"/>
<path d="M1694.8 542.3L1649.0 608.0L1609.2 598.5L1604.8 582.6" stroke="#123c06" stroke-width="12.2" stroke-linejoin="round" fill="none"/>
<path d="M1694.8 542.3L1649.0 608.0L1609.2 598.5L1604.8 582.6" stroke="#2a9412" stroke-width="11.0" stroke-linejoin="round" fill="none" transform="translate(-0.25 -0.25)"/>
<path d="M1694.8 542.3L1649.0 608.0L1609.2 598.5L1604.8 582.6" stroke="#55b808" stroke-width="9.4" stroke-linejoin="round" fill="none" transform="translate(-0.8 -0.8)"/>
<path d="M1694.8 542.3L1649.0 608.0L1609.2 598.5L1604.8 582.6" stroke="#6cc400" stroke-width="7.6" stroke-linejoin="round" fill="none" transform="translate(-1.5 -1.5)"/>
<path d="M1694.8 542.3L1649.0 608.0L1609.2 598.5L1604.8 582.6" stroke="#e2f9b4" stroke-width="1.3" stroke-linejoin="round" stroke-linecap="round" fill="none" transform="translate(-2.4 -2.4)" opacity="0.5"/>
<path d="M1679.2 516.4L1679.9 518.1L1680.7 520.5L1681.7 523.2L1683.0 526.0L1684.4 528.5L1686.1 530.7L1687.9 532.9L1690.0 535.0L1692.3 537.0L1694.8 538.9L1697.5 540.6L1700.5 542.1L1703.7 543.5L1707.0 544.9L1710.3 546.1L1714.0 547.3L1718.1 548.5L1722.1 549.5L1725.5 550.3L1728.0 551.0" stroke="#123c06" stroke-width="14.2" stroke-linejoin="round" fill="none"/>
<circle cx="1679.2" cy="516.4" r="7.1" fill="#123c06"/>
<path d="M1679.2 516.4L1679.9 518.1L1680.7 520.5L1681.7 523.2L1683.0 526.0L1684.4 528.5L1686.1 530.7L1687.9 532.9L1690.0 535.0L1692.3 537.0L1694.8 538.9L1697.5 540.6L1700.5 542.1L1703.7 543.5L1707.0 544.9L1710.3 546.1L1714.0 547.3L1718.1 548.5L1722.1 549.5L1725.5 550.3L1728.0 551.0" stroke="#2a9412" stroke-width="13.0" stroke-linejoin="round" fill="none" transform="translate(-0.25 -0.25)"/>
<circle cx="1679.2" cy="516.4" r="6.5" fill="#2a9412" transform="translate(-0.25 -0.25)"/>
<path d="M1679.2 516.4L1679.9 518.1L1680.7 520.5L1681.7 523.2L1683.0 526.0L1684.4 528.5L1686.1 530.7L1687.9 532.9L1690.0 535.0L1692.3 537.0L1694.8 538.9L1697.5 540.6L1700.5 542.1L1703.7 543.5L1707.0 544.9L1710.3 546.1L1714.0 547.3L1718.1 548.5L1722.1 549.5L1725.5 550.3L1728.0 551.0" stroke="#55b808" stroke-width="11.4" stroke-linejoin="round" fill="none" transform="translate(-0.8 -0.8)"/>
<circle cx="1679.2" cy="516.4" r="5.7" fill="#55b808" transform="translate(-0.8 -0.8)"/>
<path d="M1679.2 516.4L1679.9 518.1L1680.7 520.5L1681.7 523.2L1683.0 526.0L1684.4 528.5L1686.1 530.7L1687.9 532.9L1690.0 535.0L1692.3 537.0L1694.8 538.9L1697.5 540.6L1700.5 542.1L1703.7 543.5L1707.0 544.9L1710.3 546.1L1714.0 547.3L1718.1 548.5L1722.1 549.5L1725.5 550.3L1728.0 551.0" stroke="#6cc400" stroke-width="9.6" stroke-linejoin="round" fill="none" transform="translate(-1.5 -1.5)"/>
<circle cx="1679.2" cy="516.4" r="4.8" fill="#6cc400" transform="translate(-1.5 -1.5)"/>
<path d="M1679.2 516.4L1679.9 518.1L1680.7 520.5L1681.7 523.2L1683.0 526.0L1684.4 528.5L1686.1 530.7L1687.9 532.9L1690.0 535.0L1692.3 537.0L1694.8 538.9L1697.5 540.6L1700.5 542.1L1703.7 543.5L1707.0 544.9L1710.3 546.1L1714.0 547.3L1718.1 548.5L1722.1 549.5L1725.5 550.3L1728.0 551.0" stroke="#e2f9b4" stroke-width="1.6" stroke-linejoin="round" stroke-linecap="round" fill="none" transform="translate(-2.8 -2.8)" opacity="0.5"/>
<path d="M1570.1 481.8L1551.7 475.9" stroke="#12143e" stroke-width="12.2" stroke-linejoin="round" fill="none"/>
<circle cx="1551.7" cy="475.9" r="6.1" fill="#12143e"/>
<path d="M1570.1 481.8L1551.7 475.9" stroke="#2b3384" stroke-width="11.0" stroke-linejoin="round" fill="none" transform="translate(-0.25 -0.25)"/>
<circle cx="1551.7" cy="475.9" r="5.5" fill="#2b3384" transform="translate(-0.25 -0.25)"/>
<path d="M1570.1 481.8L1551.7 475.9" stroke="#3c47a4" stroke-width="9.4" stroke-linejoin="round" fill="none" transform="translate(-0.8 -0.8)"/>
<circle cx="1551.7" cy="475.9" r="4.7" fill="#3c47a4" transform="translate(-0.8 -0.8)"/>
<path d="M1570.1 481.8L1551.7 475.9" stroke="#4652b4" stroke-width="7.6" stroke-linejoin="round" fill="none" transform="translate(-1.5 -1.5)"/>
<circle cx="1551.7" cy="475.9" r="3.8" fill="#4652b4" transform="translate(-1.5 -1.5)"/>
<path d="M1570.1 481.8L1551.7 475.9" stroke="#c0c8f8" stroke-width="1.3" stroke-linejoin="round" stroke-linecap="round" fill="none" transform="translate(-2.4 -2.4)" opacity="0.5"/>
<path d="M1587.1 487.2L1602.3 479.1" stroke="#3e3a02" stroke-width="12.2" stroke-linejoin="round" fill="none"/>
<path d="M1587.1 487.2L1602.3 479.1" stroke="#9a8e12" stroke-width="11.0" stroke-linejoin="round" fill="none" transform="translate(-0.25 -0.25)"/>
<path d="M1587.1 487.2L1602.3 479.1" stroke="#d9c918" stroke-width="9.4" stroke-linejoin="round" fill="none" transform="translate(-0.8 -0.8)"/>
<path d="M1587.1 487.2L1602.3 479.1" stroke="#f4e31c" stroke-width="7.6" stroke-linejoin="round" fill="none" transform="translate(-1.5 -1.5)"/>
<path d="M1587.1 487.2L1602.3 479.1" stroke="#fffdc8" stroke-width="1.3" stroke-linejoin="round" stroke-linecap="round" fill="none" transform="translate(-2.4 -2.4)" opacity="0.5"/>
<path d="M1602.3 479.1L1613.4 473.3" stroke="#480a04" stroke-width="12.2" stroke-linejoin="round" fill="none"/>
<circle cx="1613.4" cy="473.3" r="6.1" fill="#480a04"/>
<path d="M1602.3 479.1L1613.4 473.3" stroke="#981c10" stroke-width="11.0" stroke-linejoin="round" fill="none" transform="translate(-0.25 -0.25)"/>
<circle cx="1613.4" cy="473.3" r="5.5" fill="#981c10" transform="translate(-0.25 -0.25)"/>
<path d="M1602.3 479.1L1613.4 473.3" stroke="#c42618" stroke-width="9.4" stroke-linejoin="round" fill="none" transform="translate(-0.8 -0.8)"/>
<circle cx="1613.4" cy="473.3" r="4.7" fill="#c42618" transform="translate(-0.8 -0.8)"/>
<path d="M1602.3 479.1L1613.4 473.3" stroke="#dc2a1c" stroke-width="7.6" stroke-linejoin="round" fill="none" transform="translate(-1.5 -1.5)"/>
<circle cx="1613.4" cy="473.3" r="3.8" fill="#dc2a1c" transform="translate(-1.5 -1.5)"/>
<path d="M1602.3 479.1L1613.4 473.3" stroke="#ffa595" stroke-width="1.3" stroke-linejoin="round" stroke-linecap="round" fill="none" transform="translate(-2.4 -2.4)" opacity="0.5"/>
<path d="M1570.1 481.8L1587.1 487.2L1593.2 519.1L1576.7 549.4" stroke="#3e3a02" stroke-width="12.2" stroke-linejoin="round" fill="none"/>
<circle cx="1576.7" cy="549.4" r="6.1" fill="#3e3a02"/>
<path d="M1570.1 481.8L1587.1 487.2L1593.2 519.1L1576.7 549.4" stroke="#9a8e12" stroke-width="11.0" stroke-linejoin="round" fill="none" transform="translate(-0.25 -0.25)"/>
<circle cx="1576.7" cy="549.4" r="5.5" fill="#9a8e12" transform="translate(-0.25 -0.25)"/>
<path d="M1570.1 481.8L1587.1 487.2L1593.2 519.1L1576.7 549.4" stroke="#d9c918" stroke-width="9.4" stroke-linejoin="round" fill="none" transform="translate(-0.8 -0.8)"/>
<circle cx="1576.7" cy="549.4" r="4.7" fill="#d9c918" transform="translate(-0.8 -0.8)"/>
<path d="M1570.1 481.8L1587.1 487.2L1593.2 519.1L1576.7 549.4" stroke="#f4e31c" stroke-width="7.6" stroke-linejoin="round" fill="none" transform="translate(-1.5 -1.5)"/>
<circle cx="1576.7" cy="549.4" r="3.8" fill="#f4e31c" transform="translate(-1.5 -1.5)"/>
<path d="M1570.1 481.8L1587.1 487.2L1593.2 519.1L1576.7 549.4" stroke="#fffdc8" stroke-width="1.3" stroke-linejoin="round" stroke-linecap="round" fill="none" transform="translate(-2.4 -2.4)" opacity="0.5"/>
<circle cx="1459.2" cy="521.2" r="6.2" fill="#a82a22"/>
<path d="M1508.8 423.0L1507.6 429.4" stroke="#4a0c06" stroke-width="12.2" stroke-linejoin="round" fill="none"/>
<path d="M1508.8 423.0L1507.6 429.4" stroke="#9c1e12" stroke-width="11.0" stroke-linejoin="round" fill="none" transform="translate(-0.25 -0.25)"/>
<path d="M1508.8 423.0L1507.6 429.4" stroke="#c8281a" stroke-width="9.4" stroke-linejoin="round" fill="none" transform="translate(-0.8 -0.8)"/>
<path d="M1508.8 423.0L1507.6 429.4" stroke="#de2d1e" stroke-width="7.6" stroke-linejoin="round" fill="none" transform="translate(-1.5 -1.5)"/>
<path d="M1508.8 423.0L1507.6 429.4" stroke="#ffb0a2" stroke-width="1.3" stroke-linejoin="round" stroke-linecap="round" fill="none" transform="translate(-2.4 -2.4)" opacity="0.5"/>
<path d="M1507.6 429.4L1506.0 438.2" stroke="#4a0c06" stroke-width="12.2" stroke-linejoin="round" fill="none"/>
<circle cx="1506.0" cy="438.2" r="6.1" fill="#4a0c06"/>
<path d="M1507.6 429.4L1506.0 438.2" stroke="#9c1e12" stroke-width="11.0" stroke-linejoin="round" fill="none" transform="translate(-0.25 -0.25)"/>
<circle cx="1506.0" cy="438.2" r="5.5" fill="#9c1e12" transform="translate(-0.25 -0.25)"/>
<path d="M1507.6 429.4L1506.0 438.2" stroke="#c8281a" stroke-width="9.4" stroke-linejoin="round" fill="none" transform="translate(-0.8 -0.8)"/>
<circle cx="1506.0" cy="438.2" r="4.7" fill="#c8281a" transform="translate(-0.8 -0.8)"/>
<path d="M1507.6 429.4L1506.0 438.2" stroke="#de2d1e" stroke-width="7.6" stroke-linejoin="round" fill="none" transform="translate(-1.5 -1.5)"/>
<circle cx="1506.0" cy="438.2" r="3.8" fill="#de2d1e" transform="translate(-1.5 -1.5)"/>
<path d="M1507.6 429.4L1506.0 438.2" stroke="#ffb0a2" stroke-width="1.3" stroke-linejoin="round" stroke-linecap="round" fill="none" transform="translate(-2.4 -2.4)" opacity="0.5"/>
<path d="M1526.1 417.0L1508.8 423.0L1474.3 419.6L1440.2 435.1L1453.5 522.0L1450.6 539.3" stroke="#4a0c06" stroke-width="13.4" stroke-linejoin="round" fill="none"/>
<path d="M1526.1 417.0L1508.8 423.0L1474.3 419.6L1440.2 435.1L1453.5 522.0L1450.6 539.3" stroke="#9c1e12" stroke-width="12.2" stroke-linejoin="round" fill="none" transform="translate(-0.25 -0.25)"/>
<path d="M1526.1 417.0L1508.8 423.0L1474.3 419.6L1440.2 435.1L1453.5 522.0L1450.6 539.3" stroke="#c8281a" stroke-width="10.6" stroke-linejoin="round" fill="none" transform="translate(-0.8 -0.8)"/>
<path d="M1526.1 417.0L1508.8 423.0L1474.3 419.6L1440.2 435.1L1453.5 522.0L1450.6 539.3" stroke="#de2d1e" stroke-width="8.8" stroke-linejoin="round" fill="none" transform="translate(-1.5 -1.5)"/>
<path d="M1526.1 417.0L1508.8 423.0L1474.3 419.6L1440.2 435.1L1453.5 522.0L1450.6 539.3" stroke="#ffb0a2" stroke-width="1.5" stroke-linejoin="round" stroke-linecap="round" fill="none" transform="translate(-2.7 -2.7)" opacity="0.2"/>
<path d="M1526.1 417.0L1538.7 412.7" stroke="#4a0c06" stroke-width="12.2" stroke-linejoin="round" fill="none"/>
<circle cx="1538.7" cy="412.7" r="6.1" fill="#4a0c06"/>
<path d="M1526.1 417.0L1538.7 412.7" stroke="#9c1e12" stroke-width="11.0" stroke-linejoin="round" fill="none" transform="translate(-0.25 -0.25)"/>
<circle cx="1538.7" cy="412.7" r="5.5" fill="#9c1e12" transform="translate(-0.25 -0.25)"/>
<path d="M1526.1 417.0L1538.7 412.7" stroke="#c8281a" stroke-width="9.4" stroke-linejoin="round" fill="none" transform="translate(-0.8 -0.8)"/>
<circle cx="1538.7" cy="412.7" r="4.7" fill="#c8281a" transform="translate(-0.8 -0.8)"/>
<path d="M1526.1 417.0L1538.7 412.7" stroke="#de2d1e" stroke-width="7.6" stroke-linejoin="round" fill="none" transform="translate(-1.5 -1.5)"/>
<circle cx="1538.7" cy="412.7" r="3.8" fill="#de2d1e" transform="translate(-1.5 -1.5)"/>
<path d="M1526.1 417.0L1538.7 412.7" stroke="#ffb0a2" stroke-width="1.3" stroke-linejoin="round" stroke-linecap="round" fill="none" transform="translate(-2.4 -2.4)" opacity="0.5"/>
<path d="M1416.0 557.1L1421.2 548.5L1431.6 544.2L1447.1 539.9L1470.5 545.9L1461.0 560.6L1459.2 567.5L1436.8 577.9L1417.8 581.3L1414.3 571.0Z" fill="#f4e31c" stroke="#f4e31c" stroke-width="2" stroke-linejoin="round"/>
<path d="M1422.9 571.0L1440.2 564.0L1455.8 560.6" stroke="#fffdc8" stroke-width="2.5" fill="none" stroke-linecap="round" stroke-linejoin="round" opacity="0.9"/>
<path d="M1378.9 506.2L1414.7 532.0" stroke="#3e3a02" stroke-width="12.2" stroke-linejoin="round" fill="none"/>
<path d="M1378.9 506.2L1414.7 532.0" stroke="#9a8e12" stroke-width="11.0" stroke-linejoin="round" fill="none" transform="translate(-0.25 -0.25)"/>
<path d="M1378.9 506.2L1414.7 532.0" stroke="#d9c918" stroke-width="9.4" stroke-linejoin="round" fill="none" transform="translate(-0.8 -0.8)"/>
<path d="M1378.9 506.2L1414.7 532.0" stroke="#f4e31c" stroke-width="7.6" stroke-linejoin="round" fill="none" transform="translate(-1.5 -1.5)"/>
<path d="M1378.9 506.2L1414.7 532.0" stroke="#fffdc8" stroke-width="1.3" stroke-linejoin="round" stroke-linecap="round" fill="none" transform="translate(-2.4 -2.4)" opacity="0.5"/>
<path d="M1414.7 532.0L1431.6 544.2" stroke="#12143e" stroke-width="12.2" stroke-linejoin="round" fill="none"/>
<path d="M1414.7 532.0L1431.6 544.2" stroke="#2b3384" stroke-width="11.0" stroke-linejoin="round" fill="none" transform="translate(-0.25 -0.25)"/>
<path d="M1414.7 532.0L1431.6 544.2" stroke="#3c47a4" stroke-width="9.4" stroke-linejoin="round" fill="none" transform="translate(-0.8 -0.8)"/>
<path d="M1414.7 532.0L1431.6 544.2" stroke="#4652b4" stroke-width="7.6" stroke-linejoin="round" fill="none" transform="translate(-1.5 -1.5)"/>
<path d="M1414.7 532.0L1431.6 544.2" stroke="#c0c8f8" stroke-width="1.3" stroke-linejoin="round" stroke-linecap="round" fill="none" transform="translate(-2.4 -2.4)" opacity="0.5"/>
<path d="M1433.3 488.4L1437.6 552.0" stroke="#363204" stroke-width="12.2" stroke-linejoin="round" fill="none"/>
<circle cx="1433.3" cy="488.4" r="6.1" fill="#363204"/>
<path d="M1433.3 488.4L1437.6 552.0" stroke="#665f10" stroke-width="11.0" stroke-linejoin="round" fill="none" transform="translate(-0.25 -0.25)"/>
<circle cx="1433.3" cy="488.4" r="5.5" fill="#665f10" transform="translate(-0.25 -0.25)"/>
<path d="M1433.3 488.4L1437.6 552.0" stroke="#88801c" stroke-width="9.4" stroke-linejoin="round" fill="none" transform="translate(-0.8 -0.8)"/>
<circle cx="1433.3" cy="488.4" r="4.7" fill="#88801c" transform="translate(-0.8 -0.8)"/>
<path d="M1433.3 488.4L1437.6 552.0" stroke="#9c9420" stroke-width="7.6" stroke-linejoin="round" fill="none" transform="translate(-1.5 -1.5)"/>
<circle cx="1433.3" cy="488.4" r="3.8" fill="#9c9420" transform="translate(-1.5 -1.5)"/>
<path d="M1433.3 488.4L1437.6 552.0" stroke="#d8d070" stroke-width="1.3" stroke-linejoin="round" stroke-linecap="round" fill="none" transform="translate(-2.4 -2.4)" opacity="0.5"/>
<path d="M1378.9 506.2L1396.2 510.8L1433.3 488.4" stroke="#3e3a02" stroke-width="12.2" stroke-linejoin="round" fill="none"/>
<circle cx="1378.9" cy="506.2" r="6.1" fill="#3e3a02"/>
<circle cx="1433.3" cy="488.4" r="6.1" fill="#3e3a02"/>
<path d="M1378.9 506.2L1396.2 510.8L1433.3 488.4" stroke="#9a8e12" stroke-width="11.0" stroke-linejoin="round" fill="none" transform="translate(-0.25 -0.25)"/>
<circle cx="1378.9" cy="506.2" r="5.5" fill="#9a8e12" transform="translate(-0.25 -0.25)"/>
<circle cx="1433.3" cy="488.4" r="5.5" fill="#9a8e12" transform="translate(-0.25 -0.25)"/>
<path d="M1378.9 506.2L1396.2 510.8L1433.3 488.4" stroke="#d9c918" stroke-width="9.4" stroke-linejoin="round" fill="none" transform="translate(-0.8 -0.8)"/>
<circle cx="1378.9" cy="506.2" r="4.7" fill="#d9c918" transform="translate(-0.8 -0.8)"/>
<circle cx="1433.3" cy="488.4" r="4.7" fill="#d9c918" transform="translate(-0.8 -0.8)"/>
<path d="M1378.9 506.2L1396.2 510.8L1433.3 488.4" stroke="#f4e31c" stroke-width="7.6" stroke-linejoin="round" fill="none" transform="translate(-1.5 -1.5)"/>
<circle cx="1378.9" cy="506.2" r="3.8" fill="#f4e31c" transform="translate(-1.5 -1.5)"/>
<circle cx="1433.3" cy="488.4" r="3.8" fill="#f4e31c" transform="translate(-1.5 -1.5)"/>
<path d="M1378.9 506.2L1396.2 510.8L1433.3 488.4" stroke="#fffdc8" stroke-width="1.3" stroke-linejoin="round" stroke-linecap="round" fill="none" transform="translate(-2.4 -2.4)" opacity="0.5"/>
<path d="M1308.8 252.6L1295.2 256.9" stroke="#12143e" stroke-width="12.2" stroke-linejoin="round" fill="none"/>
<circle cx="1295.2" cy="256.9" r="6.1" fill="#12143e"/>
<path d="M1308.8 252.6L1295.2 256.9" stroke="#2b3384" stroke-width="11.0" stroke-linejoin="round" fill="none" transform="translate(-0.25 -0.25)"/>
<circle cx="1295.2" cy="256.9" r="5.5" fill="#2b3384" transform="translate(-0.25 -0.25)"/>
<path d="M1308.8 252.6L1295.2 256.9" stroke="#3c47a4" stroke-width="9.4" stroke-linejoin="round" fill="none" transform="translate(-0.8 -0.8)"/>
<circle cx="1295.2" cy="256.9" r="4.7" fill="#3c47a4" transform="translate(-0.8 -0.8)"/>
<path d="M1308.8 252.6L1295.2 256.9" stroke="#4652b4" stroke-width="7.6" stroke-linejoin="round" fill="none" transform="translate(-1.5 -1.5)"/>
<circle cx="1295.2" cy="256.9" r="3.8" fill="#4652b4" transform="translate(-1.5 -1.5)"/>
<path d="M1308.8 252.6L1295.2 256.9" stroke="#c0c8f8" stroke-width="1.3" stroke-linejoin="round" stroke-linecap="round" fill="none" transform="translate(-2.4 -2.4)" opacity="0.5"/>
<path d="M1314.6 250.8L1308.8 252.6" stroke="#123c06" stroke-width="12.2" stroke-linejoin="round" fill="none"/>
<path d="M1314.6 250.8L1308.8 252.6" stroke="#2a9412" stroke-width="11.0" stroke-linejoin="round" fill="none" transform="translate(-0.25 -0.25)"/>
<path d="M1314.6 250.8L1308.8 252.6" stroke="#55b808" stroke-width="9.4" stroke-linejoin="round" fill="none" transform="translate(-0.8 -0.8)"/>
<path d="M1314.6 250.8L1308.8 252.6" stroke="#6cc400" stroke-width="7.6" stroke-linejoin="round" fill="none" transform="translate(-1.5 -1.5)"/>
<path d="M1314.6 250.8L1308.8 252.6" stroke="#e2f9b4" stroke-width="1.3" stroke-linejoin="round" stroke-linecap="round" fill="none" transform="translate(-2.4 -2.4)" opacity="0.5"/>
<path d="M1371.1 204.3L1320.5 212.3L1314.6 250.8L1322.1 264.7" stroke="#123c06" stroke-width="12.2" stroke-linejoin="round" fill="none"/>
<path d="M1371.1 204.3L1320.5 212.3L1314.6 250.8L1322.1 264.7" stroke="#2a9412" stroke-width="11.0" stroke-linejoin="round" fill="none" transform="translate(-0.25 -0.25)"/>
<path d="M1371.1 204.3L1320.5 212.3L1314.6 250.8L1322.1 264.7" stroke="#55b808" stroke-width="9.4" stroke-linejoin="round" fill="none" transform="translate(-0.8 -0.8)"/>
<path d="M1371.1 204.3L1320.5 212.3L1314.6 250.8L1322.1 264.7" stroke="#6cc400" stroke-width="7.6" stroke-linejoin="round" fill="none" transform="translate(-1.5 -1.5)"/>
<path d="M1371.1 204.3L1320.5 212.3L1314.6 250.8L1322.1 264.7" stroke="#e2f9b4" stroke-width="1.3" stroke-linejoin="round" stroke-linecap="round" fill="none" transform="translate(-2.4 -2.4)" opacity="0.5"/>
<path d="M1322.1 264.7L1329.6 278.5" stroke="#480a04" stroke-width="12.2" stroke-linejoin="round" fill="none"/>
<circle cx="1329.6" cy="278.5" r="6.1" fill="#480a04"/>
<path d="M1322.1 264.7L1329.6 278.5" stroke="#981c10" stroke-width="11.0" stroke-linejoin="round" fill="none" transform="translate(-0.25 -0.25)"/>
<circle cx="1329.6" cy="278.5" r="5.5" fill="#981c10" transform="translate(-0.25 -0.25)"/>
<path d="M1322.1 264.7L1329.6 278.5" stroke="#c42618" stroke-width="9.4" stroke-linejoin="round" fill="none" transform="translate(-0.8 -0.8)"/>
<circle cx="1329.6" cy="278.5" r="4.7" fill="#c42618" transform="translate(-0.8 -0.8)"/>
<path d="M1322.1 264.7L1329.6 278.5" stroke="#dc2a1c" stroke-width="7.6" stroke-linejoin="round" fill="none" transform="translate(-1.5 -1.5)"/>
<circle cx="1329.6" cy="278.5" r="3.8" fill="#dc2a1c" transform="translate(-1.5 -1.5)"/>
<path d="M1322.1 264.7L1329.6 278.5" stroke="#ffa595" stroke-width="1.3" stroke-linejoin="round" stroke-linecap="round" fill="none" transform="translate(-2.4 -2.4)" opacity="0.5"/>
<circle cx="1416.5" cy="385.9" r="4.6" fill="#480a04"/>
<circle cx="1416.2" cy="385.5" r="3.6" fill="#dc2a1c"/>
<path d="M1373.7 366.5L1383.2 390.2L1419.0 393.7L1432.5 396.6" stroke="#123c06" stroke-width="12.2" stroke-linejoin="round" fill="none"/>
<path d="M1373.7 366.5L1383.2 390.2L1419.0 393.7L1432.5 396.6" stroke="#2a9412" stroke-width="11.0" stroke-linejoin="round" fill="none" transform="translate(-0.25 -0.25)"/>
<path d="M1373.7 366.5L1383.2 390.2L1419.0 393.7L1432.5 396.6" stroke="#55b808" stroke-width="9.4" stroke-linejoin="round" fill="none" transform="translate(-0.8 -0.8)"/>
<path d="M1373.7 366.5L1383.2 390.2L1419.0 393.7L1432.5 396.6" stroke="#6cc400" stroke-width="7.6" stroke-linejoin="round" fill="none" transform="translate(-1.5 -1.5)"/>
<path d="M1373.7 366.5L1383.2 390.2L1419.0 393.7L1432.5 396.6" stroke="#e2f9b4" stroke-width="1.3" stroke-linejoin="round" stroke-linecap="round" fill="none" transform="translate(-2.4 -2.4)" opacity="0.5"/>
<path d="M1432.5 396.6L1451.1 400.6" stroke="#12143e" stroke-width="12.2" stroke-linejoin="round" fill="none"/>
<circle cx="1451.1" cy="400.6" r="6.1" fill="#12143e"/>
<path d="M1432.5 396.6L1451.1 400.6" stroke="#2b3384" stroke-width="11.0" stroke-linejoin="round" fill="none" transform="translate(-0.25 -0.25)"/>
<circle cx="1451.1" cy="400.6" r="5.5" fill="#2b3384" transform="translate(-0.25 -0.25)"/>
<path d="M1432.5 396.6L1451.1 400.6" stroke="#3c47a4" stroke-width="9.4" stroke-linejoin="round" fill="none" transform="translate(-0.8 -0.8)"/>
<circle cx="1451.1" cy="400.6" r="4.7" fill="#3c47a4" transform="translate(-0.8 -0.8)"/>
<path d="M1432.5 396.6L1451.1 400.6" stroke="#4652b4" stroke-width="7.6" stroke-linejoin="round" fill="none" transform="translate(-1.5 -1.5)"/>
<circle cx="1451.1" cy="400.6" r="3.8" fill="#4652b4" transform="translate(-1.5 -1.5)"/>
<path d="M1432.5 396.6L1451.1 400.6" stroke="#c0c8f8" stroke-width="1.3" stroke-linejoin="round" stroke-linecap="round" fill="none" transform="translate(-2.4 -2.4)" opacity="0.5"/>
<path d="M1480.5 348.7L1480.6 353.9" stroke="#3e3a02" stroke-width="12.2" stroke-linejoin="round" fill="none"/>
<path d="M1480.5 348.7L1480.6 353.9" stroke="#9a8e12" stroke-width="11.0" stroke-linejoin="round" fill="none" transform="translate(-0.25 -0.25)"/>
<path d="M1480.5 348.7L1480.6 353.9" stroke="#d9c918" stroke-width="9.4" stroke-linejoin="round" fill="none" transform="translate(-0.8 -0.8)"/>
<path d="M1480.5 348.7L1480.6 353.9" stroke="#f4e31c" stroke-width="7.6" stroke-linejoin="round" fill="none" transform="translate(-1.5 -1.5)"/>
<path d="M1480.5 348.7L1480.6 353.9" stroke="#fffdc8" stroke-width="1.3" stroke-linejoin="round" stroke-linecap="round" fill="none" transform="translate(-2.4 -2.4)" opacity="0.5"/>
<path d="M1480.6 353.9L1480.8 366.0" stroke="#12143e" stroke-width="12.2" stroke-linejoin="round" fill="none"/>
<circle cx="1480.8" cy="366.0" r="6.1" fill="#12143e"/>
<path d="M1480.6 353.9L1480.8 366.0" stroke="#2b3384" stroke-width="11.0" stroke-linejoin="round" fill="none" transform="translate(-0.25 -0.25)"/>
<circle cx="1480.8" cy="366.0" r="5.5" fill="#2b3384" transform="translate(-0.25 -0.25)"/>
<path d="M1480.6 353.9L1480.8 366.0" stroke="#3c47a4" stroke-width="9.4" stroke-linejoin="round" fill="none" transform="translate(-0.8 -0.8)"/>
<circle cx="1480.8" cy="366.0" r="4.7" fill="#3c47a4" transform="translate(-0.8 -0.8)"/>
<path d="M1480.6 353.9L1480.8 366.0" stroke="#4652b4" stroke-width="7.6" stroke-linejoin="round" fill="none" transform="translate(-1.5 -1.5)"/>
<circle cx="1480.8" cy="366.0" r="3.8" fill="#4652b4" transform="translate(-1.5 -1.5)"/>
<path d="M1480.6 353.9L1480.8 366.0" stroke="#c0c8f8" stroke-width="1.3" stroke-linejoin="round" stroke-linecap="round" fill="none" transform="translate(-2.4 -2.4)" opacity="0.5"/>
<path d="M1436.6 296.2L1441.4 336.3L1480.5 348.7L1497.7 345.0" stroke="#3e3a02" stroke-width="12.2" stroke-linejoin="round" fill="none"/>
<path d="M1436.6 296.2L1441.4 336.3L1480.5 348.7L1497.7 345.0" stroke="#9a8e12" stroke-width="11.0" stroke-linejoin="round" fill="none" transform="translate(-0.25 -0.25)"/>
<path d="M1436.6 296.2L1441.4 336.3L1480.5 348.7L1497.7 345.0" stroke="#d9c918" stroke-width="9.4" stroke-linejoin="round" fill="none" transform="translate(-0.8 -0.8)"/>
<path d="M1436.6 296.2L1441.4 336.3L1480.5 348.7L1497.7 345.0" stroke="#f4e31c" stroke-width="7.6" stroke-linejoin="round" fill="none" transform="translate(-1.5 -1.5)"/>
<path d="M1436.6 296.2L1441.4 336.3L1480.5 348.7L1497.7 345.0" stroke="#fffdc8" stroke-width="1.3" stroke-linejoin="round" stroke-linecap="round" fill="none" transform="translate(-2.4 -2.4)" opacity="0.5"/>
<path d="M1497.7 345.0L1510.2 342.3" stroke="#480a04" stroke-width="12.2" stroke-linejoin="round" fill="none"/>
<circle cx="1510.2" cy="342.3" r="6.1" fill="#480a04"/>
<path d="M1497.7 345.0L1510.2 342.3" stroke="#981c10" stroke-width="11.0" stroke-linejoin="round" fill="none" transform="translate(-0.25 -0.25)"/>
<circle cx="1510.2" cy="342.3" r="5.5" fill="#981c10" transform="translate(-0.25 -0.25)"/>
<path d="M1497.7 345.0L1510.2 342.3" stroke="#c42618" stroke-width="9.4" stroke-linejoin="round" fill="none" transform="translate(-0.8 -0.8)"/>
<circle cx="1510.2" cy="342.3" r="4.7" fill="#c42618" transform="translate(-0.8 -0.8)"/>
<path d="M1497.7 345.0L1510.2 342.3" stroke="#dc2a1c" stroke-width="7.6" stroke-linejoin="round" fill="none" transform="translate(-1.5 -1.5)"/>
<circle cx="1510.2" cy="342.3" r="3.8" fill="#dc2a1c" transform="translate(-1.5 -1.5)"/>
<path d="M1497.7 345.0L1510.2 342.3" stroke="#ffa595" stroke-width="1.3" stroke-linejoin="round" stroke-linecap="round" fill="none" transform="translate(-2.4 -2.4)" opacity="0.5"/>
<path d="M1325.3 374.7L1329.4 374.2L1335.3 373.5L1341.9 372.7L1347.8 371.7L1352.8 370.6L1357.6 369.4L1362.2 368.1L1366.8 366.5L1371.3 364.8L1375.7 362.9L1380.0 360.9L1384.0 358.8L1387.8 356.5L1391.4 354.2L1394.8 351.8L1397.9 349.2L1400.8 346.2L1403.5 342.9L1405.8 339.8L1407.4 337.7" stroke="#123c06" stroke-width="16.0" stroke-linejoin="round" fill="none"/>
<circle cx="1325.3" cy="374.7" r="8.0" fill="#123c06"/>
<path d="M1325.3 374.7L1329.4 374.2L1335.3 373.5L1341.9 372.7L1347.8 371.7L1352.8 370.6L1357.6 369.4L1362.2 368.1L1366.8 366.5L1371.3 364.8L1375.7 362.9L1380.0 360.9L1384.0 358.8L1387.8 356.5L1391.4 354.2L1394.8 351.8L1397.9 349.2L1400.8 346.2L1403.5 342.9L1405.8 339.8L1407.4 337.7" stroke="#2a9412" stroke-width="14.8" stroke-linejoin="round" fill="none" transform="translate(-0.25 -0.25)"/>
<circle cx="1325.3" cy="374.7" r="7.4" fill="#2a9412" transform="translate(-0.25 -0.25)"/>
<path d="M1325.3 374.7L1329.4 374.2L1335.3 373.5L1341.9 372.7L1347.8 371.7L1352.8 370.6L1357.6 369.4L1362.2 368.1L1366.8 366.5L1371.3 364.8L1375.7 362.9L1380.0 360.9L1384.0 358.8L1387.8 356.5L1391.4 354.2L1394.8 351.8L1397.9 349.2L1400.8 346.2L1403.5 342.9L1405.8 339.8L1407.4 337.7" stroke="#55b808" stroke-width="13.2" stroke-linejoin="round" fill="none" transform="translate(-0.8 -0.8)"/>
<circle cx="1325.3" cy="374.7" r="6.6" fill="#55b808" transform="translate(-0.8 -0.8)"/>
<path d="M1325.3 374.7L1329.4 374.2L1335.3 373.5L1341.9 372.7L1347.8 371.7L1352.8 370.6L1357.6 369.4L1362.2 368.1L1366.8 366.5L1371.3 364.8L1375.7 362.9L1380.0 360.9L1384.0 358.8L1387.8 356.5L1391.4 354.2L1394.8 351.8L1397.9 349.2L1400.8 346.2L1403.5 342.9L1405.8 339.8L1407.4 337.7" stroke="#6cc400" stroke-width="11.4" stroke-linejoin="round" fill="none" transform="translate(-1.5 -1.5)"/>
<circle cx="1325.3" cy="374.7" r="5.7" fill="#6cc400" transform="translate(-1.5 -1.5)"/>
<path d="M1325.3 374.7L1329.4 374.2L1335.3 373.5L1341.9 372.7L1347.8 371.7L1352.8 370.6L1357.6 369.4L1362.2 368.1L1366.8 366.5L1371.3 364.8L1375.7 362.9L1380.0 360.9L1384.0 358.8L1387.8 356.5L1391.4 354.2L1394.8 351.8L1397.9 349.2L1400.8 346.2L1403.5 342.9L1405.8 339.8L1407.4 337.7" stroke="#e2f9b4" stroke-width="1.8" stroke-linejoin="round" stroke-linecap="round" fill="none" transform="translate(-3.2 -3.2)" opacity="0.5"/>
<path d="M1407.4 337.7L1407.8 335.5L1408.5 332.3L1409.2 328.9L1409.6 325.9L1409.7 323.6L1409.7 321.7L1409.4 319.7L1409.1 317.4L1408.7 314.6L1408.1 311.5L1407.4 308.4L1406.5 305.3L1405.5 302.3L1404.3 299.3L1402.9 296.3L1401.3 293.2L1399.4 290.0L1397.2 286.9L1394.9 283.6L1392.7 280.2L1390.5 276.6L1388.2 272.9L1386.0 269.1L1384.0 265.5L1382.3 261.8L1380.7 257.9L1379.4 254.4L1378.5 252.0" stroke="#3e3a02" stroke-width="16.0" stroke-linejoin="round" fill="none"/>
<path d="M1407.4 337.7L1407.8 335.5L1408.5 332.3L1409.2 328.9L1409.6 325.9L1409.7 323.6L1409.7 321.7L1409.4 319.7L1409.1 317.4L1408.7 314.6L1408.1 311.5L1407.4 308.4L1406.5 305.3L1405.5 302.3L1404.3 299.3L1402.9 296.3L1401.3 293.2L1399.4 290.0L1397.2 286.9L1394.9 283.6L1392.7 280.2L1390.5 276.6L1388.2 272.9L1386.0 269.1L1384.0 265.5L1382.3 261.8L1380.7 257.9L1379.4 254.4L1378.5 252.0" stroke="#9a8e12" stroke-width="14.8" stroke-linejoin="round" fill="none" transform="translate(-0.25 -0.25)"/>
<path d="M1407.4 337.7L1407.8 335.5L1408.5 332.3L1409.2 328.9L1409.6 325.9L1409.7 323.6L1409.7 321.7L1409.4 319.7L1409.1 317.4L1408.7 314.6L1408.1 311.5L1407.4 308.4L1406.5 305.3L1405.5 302.3L1404.3 299.3L1402.9 296.3L1401.3 293.2L1399.4 290.0L1397.2 286.9L1394.9 283.6L1392.7 280.2L1390.5 276.6L1388.2 272.9L1386.0 269.1L1384.0 265.5L1382.3 261.8L1380.7 257.9L1379.4 254.4L1378.5 252.0" stroke="#d9c918" stroke-width="13.2" stroke-linejoin="round" fill="none" transform="translate(-0.8 -0.8)"/>
<path d="M1407.4 337.7L1407.8 335.5L1408.5 332.3L1409.2 328.9L1409.6 325.9L1409.7 323.6L1409.7 321.7L1409.4 319.7L1409.1 317.4L1408.7 314.6L1408.1 311.5L1407.4 308.4L1406.5 305.3L1405.5 302.3L1404.3 299.3L1402.9 296.3L1401.3 293.2L1399.4 290.0L1397.2 286.9L1394.9 283.6L1392.7 280.2L1390.5 276.6L1388.2 272.9L1386.0 269.1L1384.0 265.5L1382.3 261.8L1380.7 257.9L1379.4 254.4L1378.5 252.0" stroke="#f4e31c" stroke-width="11.4" stroke-linejoin="round" fill="none" transform="translate(-1.5 -1.5)"/>
<path d="M1407.4 337.7L1407.8 335.5L1408.5 332.3L1409.2 328.9L1409.6 325.9L1409.7 323.6L1409.7 321.7L1409.4 319.7L1409.1 317.4L1408.7 314.6L1408.1 311.5L1407.4 308.4L1406.5 305.3L1405.5 302.3L1404.3 299.3L1402.9 296.3L1401.3 293.2L1399.4 290.0L1397.2 286.9L1394.9 283.6L1392.7 280.2L1390.5 276.6L1388.2 272.9L1386.0 269.1L1384.0 265.5L1382.3 261.8L1380.7 257.9L1379.4 254.4L1378.5 252.0" stroke="#fffdc8" stroke-width="1.8" stroke-linejoin="round" stroke-linecap="round" fill="none" transform="translate(-3.2 -3.2)" opacity="0.5"/>
<path d="M1378.5 252.0L1377.9 249.5L1377.1 245.9L1376.2 241.8L1375.4 237.9L1374.8 234.1L1374.1 230.3L1373.6 226.4L1373.2 222.3L1372.8 218.1L1372.5 213.8L1372.4 209.4L1372.3 205.0L1372.3 200.7L1372.5 196.4L1372.7 192.1L1373.2 187.8L1373.8 183.4L1374.5 179.0L1375.4 174.7L1376.3 170.5L1377.3 166.2L1378.5 161.8L1379.5 158.0L1380.2 155.3" stroke="#123c06" stroke-width="16.0" stroke-linejoin="round" fill="none"/>
<path d="M1378.5 252.0L1377.9 249.5L1377.1 245.9L1376.2 241.8L1375.4 237.9L1374.8 234.1L1374.1 230.3L1373.6 226.4L1373.2 222.3L1372.8 218.1L1372.5 213.8L1372.4 209.4L1372.3 205.0L1372.3 200.7L1372.5 196.4L1372.7 192.1L1373.2 187.8L1373.8 183.4L1374.5 179.0L1375.4 174.7L1376.3 170.5L1377.3 166.2L1378.5 161.8L1379.5 158.0L1380.2 155.3" stroke="#2a9412" stroke-width="14.8" stroke-linejoin="round" fill="none" transform="translate(-0.25 -0.25)"/>
<path d="M1378.5 252.0L1377.9 249.5L1377.1 245.9L1376.2 241.8L1375.4 237.9L1374.8 234.1L1374.1 230.3L1373.6 226.4L1373.2 222.3L1372.8 218.1L1372.5 213.8L1372.4 209.4L1372.3 205.0L1372.3 200.7L1372.5 196.4L1372.7 192.1L1373.2 187.8L1373.8 183.4L1374.5 179.0L1375.4 174.7L1376.3 170.5L1377.3 166.2L1378.5 161.8L1379.5 158.0L1380.2 155.3" stroke="#55b808" stroke-width="13.2" stroke-linejoin="round" fill="none" transform="translate(-0.8 -0.8)"/>
<path d="M1378.5 252.0L1377.9 249.5L1377.1 245.9L1376.2 241.8L1375.4 237.9L1374.8 234.1L1374.1 230.3L1373.6 226.4L1373.2 222.3L1372.8 218.1L1372.5 213.8L1372.4 209.4L1372.3 205.0L1372.3 200.7L1372.5 196.4L1372.7 192.1L1373.2 187.8L1373.8 183.4L1374.5 179.0L1375.4 174.7L1376.3 170.5L1377.3 166.2L1378.5 161.8L1379.5 158.0L1380.2 155.3" stroke="#6cc400" stroke-width="11.4" stroke-linejoin="round" fill="none" transform="translate(-1.5 -1.5)"/>
<path d="M1378.5 252.0L1377.9 249.5L1377.1 245.9L1376.2 241.8L1375.4 237.9L1374.8 234.1L1374.1 230.3L1373.6 226.4L1373.2 222.3L1372.8 218.1L1372.5 213.8L1372.4 209.4L1372.3 205.0L1372.3 200.7L1372.5 196.4L1372.7 192.1L1373.2 187.8L1373.8 183.4L1374.5 179.0L1375.4 174.7L1376.3 170.5L1377.3 166.2L1378.5 161.8L1379.5 158.0L1380.2 155.3" stroke="#e2f9b4" stroke-width="1.8" stroke-linejoin="round" stroke-linecap="round" fill="none" transform="translate(-3.2 -3.2)" opacity="0.5"/>
<path d="M1510.2 169.6L1517.5 197.3" stroke="#363204" stroke-width="13.6" stroke-linejoin="round" fill="none"/>
<circle cx="1510.2" cy="169.6" r="6.8" fill="#363204"/>
<circle cx="1517.5" cy="197.3" r="6.8" fill="#363204"/>
<path d="M1510.2 169.6L1517.5 197.3" stroke="#665f10" stroke-width="12.4" stroke-linejoin="round" fill="none" transform="translate(-0.25 -0.25)"/>
<circle cx="1510.2" cy="169.6" r="6.2" fill="#665f10" transform="translate(-0.25 -0.25)"/>
<circle cx="1517.5" cy="197.3" r="6.2" fill="#665f10" transform="translate(-0.25 -0.25)"/>
<path d="M1510.2 169.6L1517.5 197.3" stroke="#88801c" stroke-width="10.8" stroke-linejoin="round" fill="none" transform="translate(-0.8 -0.8)"/>
<circle cx="1510.2" cy="169.6" r="5.4" fill="#88801c" transform="translate(-0.8 -0.8)"/>
<circle cx="1517.5" cy="197.3" r="5.4" fill="#88801c" transform="translate(-0.8 -0.8)"/>
<path d="M1510.2 169.6L1517.5 197.3" stroke="#9c9420" stroke-width="9.0" stroke-linejoin="round" fill="none" transform="translate(-1.5 -1.5)"/>
<circle cx="1510.2" cy="169.6" r="4.5" fill="#9c9420" transform="translate(-1.5 -1.5)"/>
<circle cx="1517.5" cy="197.3" r="4.5" fill="#9c9420" transform="translate(-1.5 -1.5)"/>
<path d="M1510.2 169.6L1517.5 197.3" stroke="#d8d070" stroke-width="1.5" stroke-linejoin="round" stroke-linecap="round" fill="none" transform="translate(-2.7 -2.7)" opacity="0.2"/>
<path d="M1471.3 239.6L1463.9 215.8" stroke="#363204" stroke-width="13.6" stroke-linejoin="round" fill="none"/>
<circle cx="1471.3" cy="239.6" r="6.8" fill="#363204"/>
<circle cx="1463.9" cy="215.8" r="6.8" fill="#363204"/>
<path d="M1471.3 239.6L1463.9 215.8" stroke="#665f10" stroke-width="12.4" stroke-linejoin="round" fill="none" transform="translate(-0.25 -0.25)"/>
<circle cx="1471.3" cy="239.6" r="6.2" fill="#665f10" transform="translate(-0.25 -0.25)"/>
<circle cx="1463.9" cy="215.8" r="6.2" fill="#665f10" transform="translate(-0.25 -0.25)"/>
<path d="M1471.3 239.6L1463.9 215.8" stroke="#88801c" stroke-width="10.8" stroke-linejoin="round" fill="none" transform="translate(-0.8 -0.8)"/>
<circle cx="1471.3" cy="239.6" r="5.4" fill="#88801c" transform="translate(-0.8 -0.8)"/>
<circle cx="1463.9" cy="215.8" r="5.4" fill="#88801c" transform="translate(-0.8 -0.8)"/>
<path d="M1471.3 239.6L1463.9 215.8" stroke="#9c9420" stroke-width="9.0" stroke-linejoin="round" fill="none" transform="translate(-1.5 -1.5)"/>
<circle cx="1471.3" cy="239.6" r="4.5" fill="#9c9420" transform="translate(-1.5 -1.5)"/>
<circle cx="1463.9" cy="215.8" r="4.5" fill="#9c9420" transform="translate(-1.5 -1.5)"/>
<path d="M1471.3 239.6L1463.9 215.8" stroke="#d8d070" stroke-width="1.5" stroke-linejoin="round" stroke-linecap="round" fill="none" transform="translate(-2.7 -2.7)" opacity="0.2"/>
<path d="M1518.1 153.6L1525.9 137.6" stroke="#480a04" stroke-width="12.2" stroke-linejoin="round" fill="none"/>
<circle cx="1525.9" cy="137.6" r="6.1" fill="#480a04"/>
<path d="M1518.1 153.6L1525.9 137.6" stroke="#981c10" stroke-width="11.0" stroke-linejoin="round" fill="none" transform="translate(-0.25 -0.25)"/>
<circle cx="1525.9" cy="137.6" r="5.5" fill="#981c10" transform="translate(-0.25 -0.25)"/>
<path d="M1518.1 153.6L1525.9 137.6" stroke="#c42618" stroke-width="9.4" stroke-linejoin="round" fill="none" transform="translate(-0.8 -0.8)"/>
<circle cx="1525.9" cy="137.6" r="4.7" fill="#c42618" transform="translate(-0.8 -0.8)"/>
<path d="M1518.1 153.6L1525.9 137.6" stroke="#dc2a1c" stroke-width="7.6" stroke-linejoin="round" fill="none" transform="translate(-1.5 -1.5)"/>
<circle cx="1525.9" cy="137.6" r="3.8" fill="#dc2a1c" transform="translate(-1.5 -1.5)"/>
<path d="M1518.1 153.6L1525.9 137.6" stroke="#ffa595" stroke-width="1.3" stroke-linejoin="round" stroke-linecap="round" fill="none" transform="translate(-2.4 -2.4)" opacity="0.5"/>
<path d="M1517.5 197.3L1500.7 229.2L1471.3 239.6" stroke="#3e3a02" stroke-width="12.2" stroke-linejoin="round" fill="none"/>
<circle cx="1517.5" cy="197.3" r="6.1" fill="#3e3a02"/>
<circle cx="1471.3" cy="239.6" r="6.1" fill="#3e3a02"/>
<path d="M1517.5 197.3L1500.7 229.2L1471.3 239.6" stroke="#9a8e12" stroke-width="11.0" stroke-linejoin="round" fill="none" transform="translate(-0.25 -0.25)"/>
<circle cx="1517.5" cy="197.3" r="5.5" fill="#9a8e12" transform="translate(-0.25 -0.25)"/>
<circle cx="1471.3" cy="239.6" r="5.5" fill="#9a8e12" transform="translate(-0.25 -0.25)"/>
<path d="M1517.5 197.3L1500.7 229.2L1471.3 239.6" stroke="#d9c918" stroke-width="9.4" stroke-linejoin="round" fill="none" transform="translate(-0.8 -0.8)"/>
<circle cx="1517.5" cy="197.3" r="4.7" fill="#d9c918" transform="translate(-0.8 -0.8)"/>
<circle cx="1471.3" cy="239.6" r="4.7" fill="#d9c918" transform="translate(-0.8 -0.8)"/>
<path d="M1517.5 197.3L1500.7 229.2L1471.3 239.6" stroke="#f4e31c" stroke-width="7.6" stroke-linejoin="round" fill="none" transform="translate(-1.5 -1.5)"/>
<circle cx="1517.5" cy="197.3" r="3.8" fill="#f4e31c" transform="translate(-1.5 -1.5)"/>
<circle cx="1471.3" cy="239.6" r="3.8" fill="#f4e31c" transform="translate(-1.5 -1.5)"/>
<path d="M1517.5 197.3L1500.7 229.2L1471.3 239.6" stroke="#fffdc8" stroke-width="1.3" stroke-linejoin="round" stroke-linecap="round" fill="none" transform="translate(-2.4 -2.4)" opacity="0.5"/>
<path d="M1463.9 215.8L1481.9 181.7L1510.2 169.6L1518.1 153.6" stroke="#3e3a02" stroke-width="12.2" stroke-linejoin="round" fill="none"/>
<circle cx="1463.9" cy="215.8" r="6.1" fill="#3e3a02"/>
<path d="M1463.9 215.8L1481.9 181.7L1510.2 169.6L1518.1 153.6" stroke="#9a8e12" stroke-width="11.0" stroke-linejoin="round" fill="none" transform="translate(-0.25 -0.25)"/>
<circle cx="1463.9" cy="215.8" r="5.5" fill="#9a8e12" transform="translate(-0.25 -0.25)"/>
<path d="M1463.9 215.8L1481.9 181.7L1510.2 169.6L1518.1 153.6" stroke="#d9c918" stroke-width="9.4" stroke-linejoin="round" fill="none" transform="translate(-0.8 -0.8)"/>
<circle cx="1463.9" cy="215.8" r="4.7" fill="#d9c918" transform="translate(-0.8 -0.8)"/>
<path d="M1463.9 215.8L1481.9 181.7L1510.2 169.6L1518.1 153.6" stroke="#f4e31c" stroke-width="7.6" stroke-linejoin="round" fill="none" transform="translate(-1.5 -1.5)"/>
<circle cx="1463.9" cy="215.8" r="3.8" fill="#f4e31c" transform="translate(-1.5 -1.5)"/>
<path d="M1463.9 215.8L1481.9 181.7L1510.2 169.6L1518.1 153.6" stroke="#fffdc8" stroke-width="1.3" stroke-linejoin="round" stroke-linecap="round" fill="none" transform="translate(-2.4 -2.4)" opacity="0.5"/>
<path d="M1471.3 239.6L1451.4 276.8L1406.5 294.0" stroke="#3e3a02" stroke-width="12.2" stroke-linejoin="round" fill="none"/>
<circle cx="1471.3" cy="239.6" r="6.1" fill="#3e3a02"/>
<circle cx="1406.5" cy="294.0" r="6.1" fill="#3e3a02"/>
<path d="M1471.3 239.6L1451.4 276.8L1406.5 294.0" stroke="#9a8e12" stroke-width="11.0" stroke-linejoin="round" fill="none" transform="translate(-0.25 -0.25)"/>
<circle cx="1471.3" cy="239.6" r="5.5" fill="#9a8e12" transform="translate(-0.25 -0.25)"/>
<circle cx="1406.5" cy="294.0" r="5.5" fill="#9a8e12" transform="translate(-0.25 -0.25)"/>
<path d="M1471.3 239.6L1451.4 276.8L1406.5 294.0" stroke="#d9c918" stroke-width="9.4" stroke-linejoin="round" fill="none" transform="translate(-0.8 -0.8)"/>
<circle cx="1471.3" cy="239.6" r="4.7" fill="#d9c918" transform="translate(-0.8 -0.8)"/>
<circle cx="1406.5" cy="294.0" r="4.7" fill="#d9c918" transform="translate(-0.8 -0.8)"/>
<path d="M1471.3 239.6L1451.4 276.8L1406.5 294.0" stroke="#f4e31c" stroke-width="7.6" stroke-linejoin="round" fill="none" transform="translate(-1.5 -1.5)"/>
<circle cx="1471.3" cy="239.6" r="3.8" fill="#f4e31c" transform="translate(-1.5 -1.5)"/>
<circle cx="1406.5" cy="294.0" r="3.8" fill="#f4e31c" transform="translate(-1.5 -1.5)"/>
<path d="M1471.3 239.6L1451.4 276.8L1406.5 294.0" stroke="#fffdc8" stroke-width="1.3" stroke-linejoin="round" stroke-linecap="round" fill="none" transform="translate(-2.4 -2.4)" opacity="0.5"/>
<path d="M1537.2 179.1L1608.5 224.4L1615.1 245.6" stroke="#4a0c06" stroke-width="12.2" stroke-linejoin="round" fill="none"/>
<circle cx="1537.2" cy="179.1" r="6.1" fill="#4a0c06"/>
<path d="M1537.2 179.1L1608.5 224.4L1615.1 245.6" stroke="#9c1e12" stroke-width="11.0" stroke-linejoin="round" fill="none" transform="translate(-0.25 -0.25)"/>
<circle cx="1537.2" cy="179.1" r="5.5" fill="#9c1e12" transform="translate(-0.25 -0.25)"/>
<path d="M1537.2 179.1L1608.5 224.4L1615.1 245.6" stroke="#c8281a" stroke-width="9.4" stroke-linejoin="round" fill="none" transform="translate(-0.8 -0.8)"/>
<circle cx="1537.2" cy="179.1" r="4.7" fill="#c8281a" transform="translate(-0.8 -0.8)"/>
<path d="M1537.2 179.1L1608.5 224.4L1615.1 245.6" stroke="#de2d1e" stroke-width="7.6" stroke-linejoin="round" fill="none" transform="translate(-1.5 -1.5)"/>
<circle cx="1537.2" cy="179.1" r="3.8" fill="#de2d1e" transform="translate(-1.5 -1.5)"/>
<path d="M1537.2 179.1L1608.5 224.4L1615.1 245.6" stroke="#ffb0a2" stroke-width="1.3" stroke-linejoin="round" stroke-linecap="round" fill="none" transform="translate(-2.4 -2.4)" opacity="0.5"/>
<path d="M1615.1 245.6L1620.4 262.9" stroke="#4a0c06" stroke-width="12.2" stroke-linejoin="round" fill="none"/>
<circle cx="1620.4" cy="262.9" r="6.1" fill="#4a0c06"/>
<path d="M1615.1 245.6L1620.4 262.9" stroke="#9c1e12" stroke-width="11.0" stroke-linejoin="round" fill="none" transform="translate(-0.25 -0.25)"/>
<circle cx="1620.4" cy="262.9" r="5.5" fill="#9c1e12" transform="translate(-0.25 -0.25)"/>
<path d="M1615.1 245.6L1620.4 262.9" stroke="#c8281a" stroke-width="9.4" stroke-linejoin="round" fill="none" transform="translate(-0.8 -0.8)"/>
<circle cx="1620.4" cy="262.9" r="4.7" fill="#c8281a" transform="translate(-0.8 -0.8)"/>
<path d="M1615.1 245.6L1620.4 262.9" stroke="#de2d1e" stroke-width="7.6" stroke-linejoin="round" fill="none" transform="translate(-1.5 -1.5)"/>
<circle cx="1620.4" cy="262.9" r="3.8" fill="#de2d1e" transform="translate(-1.5 -1.5)"/>
<path d="M1615.1 245.6L1620.4 262.9" stroke="#ffb0a2" stroke-width="1.3" stroke-linejoin="round" stroke-linecap="round" fill="none" transform="translate(-2.4 -2.4)" opacity="0.5"/>
<path d="M1539.4 134.5L1545.3 139.0L1544.6 153.2L1540.6 170.5L1535.4 189.5L1529.4 204.7L1520.4 203.3L1525.9 179.1L1530.8 158.4L1534.6 139.4Z" fill="#de2d1e" stroke="#4a0c06" stroke-width="1.2" stroke-linejoin="round"/>
<path d="M1545.3 139.0L1544.6 153.2L1540.6 170.5L1535.4 189.5L1529.4 204.7L1525.9 204.2L1532.8 186.0L1538.4 168.8L1541.5 153.2L1542.3 138.5Z" fill="#9c1e12"/>
<path d="M1538.4 140.2L1533.9 167.0L1527.6 192.9" stroke="#ffb0a2" stroke-width="1.6" fill="none" stroke-linecap="round" stroke-linejoin="round" opacity="0.8"/>
<path d="M1617.5 348.1L1656.4 344.0L1689.2 378.0" stroke="#4a0c06" stroke-width="12.6" stroke-linejoin="round" fill="none"/>
<circle cx="1617.5" cy="348.1" r="6.3" fill="#4a0c06"/>
<circle cx="1689.2" cy="378.0" r="6.3" fill="#4a0c06"/>
<path d="M1617.5 348.1L1656.4 344.0L1689.2 378.0" stroke="#9c1e12" stroke-width="11.4" stroke-linejoin="round" fill="none" transform="translate(-0.25 -0.25)"/>
<circle cx="1617.5" cy="348.1" r="5.7" fill="#9c1e12" transform="translate(-0.25 -0.25)"/>
<circle cx="1689.2" cy="378.0" r="5.7" fill="#9c1e12" transform="translate(-0.25 -0.25)"/>
<path d="M1617.5 348.1L1656.4 344.0L1689.2 378.0" stroke="#c8281a" stroke-width="9.8" stroke-linejoin="round" fill="none" transform="translate(-0.8 -0.8)"/>
<circle cx="1617.5" cy="348.1" r="4.9" fill="#c8281a" transform="translate(-0.8 -0.8)"/>
<circle cx="1689.2" cy="378.0" r="4.9" fill="#c8281a" transform="translate(-0.8 -0.8)"/>
<path d="M1617.5 348.1L1656.4 344.0L1689.2 378.0" stroke="#de2d1e" stroke-width="8.0" stroke-linejoin="round" fill="none" transform="translate(-1.5 -1.5)"/>
<circle cx="1617.5" cy="348.1" r="4.0" fill="#de2d1e" transform="translate(-1.5 -1.5)"/>
<circle cx="1689.2" cy="378.0" r="4.0" fill="#de2d1e" transform="translate(-1.5 -1.5)"/>
<path d="M1617.5 348.1L1656.4 344.0L1689.2 378.0" stroke="#ffb0a2" stroke-width="1.4" stroke-linejoin="round" stroke-linecap="round" fill="none" transform="translate(-2.5 -2.5)" opacity="0.2"/>
<path d="M1719.8 368.8L1719.8 406.5" stroke="#08280c" stroke-width="12.8" stroke-linejoin="round" fill="none"/>
<circle cx="1719.8" cy="368.8" r="6.4" fill="#08280c"/>
<circle cx="1719.8" cy="406.5" r="6.4" fill="#08280c"/>
<path d="M1719.8 368.8L1719.8 406.5" stroke="#125220" stroke-width="11.6" stroke-linejoin="round" fill="none" transform="translate(-0.25 -0.25)"/>
<circle cx="1719.8" cy="368.8" r="5.8" fill="#125220" transform="translate(-0.25 -0.25)"/>
<circle cx="1719.8" cy="406.5" r="5.8" fill="#125220" transform="translate(-0.25 -0.25)"/>
<path d="M1719.8 368.8L1719.8 406.5" stroke="#1a6e28" stroke-width="10.0" stroke-linejoin="round" fill="none" transform="translate(-0.8 -0.8)"/>
<circle cx="1719.8" cy="368.8" r="5.0" fill="#1a6e28" transform="translate(-0.8 -0.8)"/>
<circle cx="1719.8" cy="406.5" r="5.0" fill="#1a6e28" transform="translate(-0.8 -0.8)"/>
<path d="M1719.8 368.8L1719.8 406.5" stroke="#1f7f2c" stroke-width="8.2" stroke-linejoin="round" fill="none" transform="translate(-1.5 -1.5)"/>
<circle cx="1719.8" cy="368.8" r="4.1" fill="#1f7f2c" transform="translate(-1.5 -1.5)"/>
<circle cx="1719.8" cy="406.5" r="4.1" fill="#1f7f2c" transform="translate(-1.5 -1.5)"/>
<path d="M1719.8 368.8L1719.8 406.5" stroke="#7fd07a" stroke-width="1.4" stroke-linejoin="round" stroke-linecap="round" fill="none" transform="translate(-2.6 -2.6)" opacity="0.5"/>
<path d="M1700.6 360.7L1681.4 352.6" stroke="#480a04" stroke-width="12.2" stroke-linejoin="round" fill="none"/>
<circle cx="1681.4" cy="352.6" r="6.1" fill="#480a04"/>
<path d="M1700.6 360.7L1681.4 352.6" stroke="#981c10" stroke-width="11.0" stroke-linejoin="round" fill="none" transform="translate(-0.25 -0.25)"/>
<circle cx="1681.4" cy="352.6" r="5.5" fill="#981c10" transform="translate(-0.25 -0.25)"/>
<path d="M1700.6 360.7L1681.4 352.6" stroke="#c42618" stroke-width="9.4" stroke-linejoin="round" fill="none" transform="translate(-0.8 -0.8)"/>
<circle cx="1681.4" cy="352.6" r="4.7" fill="#c42618" transform="translate(-0.8 -0.8)"/>
<path d="M1700.6 360.7L1681.4 352.6" stroke="#dc2a1c" stroke-width="7.6" stroke-linejoin="round" fill="none" transform="translate(-1.5 -1.5)"/>
<circle cx="1681.4" cy="352.6" r="3.8" fill="#dc2a1c" transform="translate(-1.5 -1.5)"/>
<path d="M1700.6 360.7L1681.4 352.6" stroke="#ffa595" stroke-width="1.3" stroke-linejoin="round" stroke-linecap="round" fill="none" transform="translate(-2.4 -2.4)" opacity="0.5"/>
<path d="M1719.8 368.8L1700.6 360.7" stroke="#123c06" stroke-width="12.2" stroke-linejoin="round" fill="none"/>
<circle cx="1719.8" cy="368.8" r="6.1" fill="#123c06"/>
<path d="M1719.8 368.8L1700.6 360.7" stroke="#2a9412" stroke-width="11.0" stroke-linejoin="round" fill="none" transform="translate(-0.25 -0.25)"/>
<circle cx="1719.8" cy="368.8" r="5.5" fill="#2a9412" transform="translate(-0.25 -0.25)"/>
<path d="M1719.8 368.8L1700.6 360.7" stroke="#55b808" stroke-width="9.4" stroke-linejoin="round" fill="none" transform="translate(-0.8 -0.8)"/>
<circle cx="1719.8" cy="368.8" r="4.7" fill="#55b808" transform="translate(-0.8 -0.8)"/>
<path d="M1719.8 368.8L1700.6 360.7" stroke="#6cc400" stroke-width="7.6" stroke-linejoin="round" fill="none" transform="translate(-1.5 -1.5)"/>
<circle cx="1719.8" cy="368.8" r="3.8" fill="#6cc400" transform="translate(-1.5 -1.5)"/>
<path d="M1719.8 368.8L1700.6 360.7" stroke="#e2f9b4" stroke-width="1.3" stroke-linejoin="round" stroke-linecap="round" fill="none" transform="translate(-2.4 -2.4)" opacity="0.5"/>
<path d="M1772.2 242.2L1739.3 261.7L1709.1 234.1L1678.0 248.6" stroke="#5c5610" stroke-width="12.2" stroke-linejoin="round" fill="none"/>
<circle cx="1772.2" cy="242.2" r="6.1" fill="#5c5610"/>
<circle cx="1678.0" cy="248.6" r="6.1" fill="#5c5610"/>
<path d="M1772.2 242.2L1739.3 261.7L1709.1 234.1L1678.0 248.6" stroke="#aea428" stroke-width="11.0" stroke-linejoin="round" fill="none" transform="translate(-0.25 -0.25)"/>
<circle cx="1772.2" cy="242.2" r="5.5" fill="#aea428" transform="translate(-0.25 -0.25)"/>
<circle cx="1678.0" cy="248.6" r="5.5" fill="#aea428" transform="translate(-0.25 -0.25)"/>
<path d="M1772.2 242.2L1739.3 261.7L1709.1 234.1L1678.0 248.6" stroke="#dccd34" stroke-width="9.4" stroke-linejoin="round" fill="none" transform="translate(-0.8 -0.8)"/>
<circle cx="1772.2" cy="242.2" r="4.7" fill="#dccd34" transform="translate(-0.8 -0.8)"/>
<circle cx="1678.0" cy="248.6" r="4.7" fill="#dccd34" transform="translate(-0.8 -0.8)"/>
<path d="M1772.2 242.2L1739.3 261.7L1709.1 234.1L1678.0 248.6" stroke="#f3e43c" stroke-width="7.6" stroke-linejoin="round" fill="none" transform="translate(-1.5 -1.5)"/>
<circle cx="1772.2" cy="242.2" r="3.8" fill="#f3e43c" transform="translate(-1.5 -1.5)"/>
<circle cx="1678.0" cy="248.6" r="3.8" fill="#f3e43c" transform="translate(-1.5 -1.5)"/>
<path d="M1772.2 242.2L1739.3 261.7L1709.1 234.1L1678.0 248.6" stroke="#fffcc8" stroke-width="1.3" stroke-linejoin="round" stroke-linecap="round" fill="none" transform="translate(-2.4 -2.4)" opacity="0.5"/>
<circle cx="1684.6" cy="248.2" r="6.3" fill="#12143e"/>
<circle cx="1684.2" cy="247.8" r="5.4" fill="#4652b4"/>
<circle cx="1685.2" cy="246.6" r="1.9" fill="#c0c8f8"/>
<path d="M1787.5 243.1L1784.5 272.4" stroke="#363204" stroke-width="12.8" stroke-linejoin="round" fill="none"/>
<circle cx="1787.5" cy="243.1" r="6.4" fill="#363204"/>
<circle cx="1784.5" cy="272.4" r="6.4" fill="#363204"/>
<path d="M1787.5 243.1L1784.5 272.4" stroke="#665f10" stroke-width="11.6" stroke-linejoin="round" fill="none" transform="translate(-0.25 -0.25)"/>
<circle cx="1787.5" cy="243.1" r="5.8" fill="#665f10" transform="translate(-0.25 -0.25)"/>
<circle cx="1784.5" cy="272.4" r="5.8" fill="#665f10" transform="translate(-0.25 -0.25)"/>
<path d="M1787.5 243.1L1784.5 272.4" stroke="#88801c" stroke-width="10.0" stroke-linejoin="round" fill="none" transform="translate(-0.8 -0.8)"/>
<circle cx="1787.5" cy="243.1" r="5.0" fill="#88801c" transform="translate(-0.8 -0.8)"/>
<circle cx="1784.5" cy="272.4" r="5.0" fill="#88801c" transform="translate(-0.8 -0.8)"/>
<path d="M1787.5 243.1L1784.5 272.4" stroke="#9c9420" stroke-width="8.2" stroke-linejoin="round" fill="none" transform="translate(-1.5 -1.5)"/>
<circle cx="1787.5" cy="243.1" r="4.1" fill="#9c9420" transform="translate(-1.5 -1.5)"/>
<circle cx="1784.5" cy="272.4" r="4.1" fill="#9c9420" transform="translate(-1.5 -1.5)"/>
<path d="M1787.5 243.1L1784.5 272.4" stroke="#d8d070" stroke-width="1.4" stroke-linejoin="round" stroke-linecap="round" fill="none" transform="translate(-2.6 -2.6)" opacity="0.5"/>
<path d="M1769.6 234.6L1751.7 226.1" stroke="#480a04" stroke-width="12.2" stroke-linejoin="round" fill="none"/>
<circle cx="1751.7" cy="226.1" r="6.1" fill="#480a04"/>
<path d="M1769.6 234.6L1751.7 226.1" stroke="#981c10" stroke-width="11.0" stroke-linejoin="round" fill="none" transform="translate(-0.25 -0.25)"/>
<circle cx="1751.7" cy="226.1" r="5.5" fill="#981c10" transform="translate(-0.25 -0.25)"/>
<path d="M1769.6 234.6L1751.7 226.1" stroke="#c42618" stroke-width="9.4" stroke-linejoin="round" fill="none" transform="translate(-0.8 -0.8)"/>
<circle cx="1751.7" cy="226.1" r="4.7" fill="#c42618" transform="translate(-0.8 -0.8)"/>
<path d="M1769.6 234.6L1751.7 226.1" stroke="#dc2a1c" stroke-width="7.6" stroke-linejoin="round" fill="none" transform="translate(-1.5 -1.5)"/>
<circle cx="1751.7" cy="226.1" r="3.8" fill="#dc2a1c" transform="translate(-1.5 -1.5)"/>
<path d="M1769.6 234.6L1751.7 226.1" stroke="#ffa595" stroke-width="1.3" stroke-linejoin="round" stroke-linecap="round" fill="none" transform="translate(-2.4 -2.4)" opacity="0.5"/>
<path d="M1769.6 234.6L1787.5 243.1L1820.0 213.2" stroke="#3e3a02" stroke-width="12.2" stroke-linejoin="round" fill="none"/>
<circle cx="1820.0" cy="213.2" r="6.1" fill="#3e3a02"/>
<path d="M1769.6 234.6L1787.5 243.1L1820.0 213.2" stroke="#9a8e12" stroke-width="11.0" stroke-linejoin="round" fill="none" transform="translate(-0.25 -0.25)"/>
<circle cx="1820.0" cy="213.2" r="5.5" fill="#9a8e12" transform="translate(-0.25 -0.25)"/>
<path d="M1769.6 234.6L1787.5 243.1L1820.0 213.2" stroke="#d9c918" stroke-width="9.4" stroke-linejoin="round" fill="none" transform="translate(-0.8 -0.8)"/>
<circle cx="1820.0" cy="213.2" r="4.7" fill="#d9c918" transform="translate(-0.8 -0.8)"/>
<path d="M1769.6 234.6L1787.5 243.1L1820.0 213.2" stroke="#f4e31c" stroke-width="7.6" stroke-linejoin="round" fill="none" transform="translate(-1.5 -1.5)"/>
<circle cx="1820.0" cy="213.2" r="3.8" fill="#f4e31c" transform="translate(-1.5 -1.5)"/>
<path d="M1769.6 234.6L1787.5 243.1L1820.0 213.2" stroke="#fffdc8" stroke-width="1.3" stroke-linejoin="round" stroke-linecap="round" fill="none" transform="translate(-2.4 -2.4)" opacity="0.5"/>
<defs><linearGradient id="rga" gradientUnits="userSpaceOnUse" x1="1927" y1="285" x2="1957" y2="309"><stop offset="0" stop-color="#74c800"/><stop offset="0.14" stop-color="#5cc000"/><stop offset="0.34" stop-color="#19aa28"/><stop offset="0.62" stop-color="#0f7d32"/><stop offset="1" stop-color="#2d4b19"/></linearGradient></defs>
<path d="M1910.2 315.7L1911.6 313.3L1913.6 309.8L1916.0 305.8L1918.4 302.0L1920.9 298.2L1923.7 294.2L1926.5 290.4L1929.3 286.9L1932.0 283.9L1934.7 281.3L1937.5 278.9L1940.3 276.6L1943.1 274.4L1946.0 272.2L1948.9 270.3L1952.0 268.4L1955.3 266.6L1958.7 265.0L1962.2 263.5L1965.7 262.2L1969.3 261.2L1972.9 260.4L1976.4 259.7L1979.4 259.1L1982.0 258.6L1984.4 258.2L1986.3 257.8L1987.6 257.6L1989.0 272.0L1987.6 272.3L1985.6 272.8L1983.4 273.5L1981.4 274.5L1979.7 275.8L1978.1 277.2L1976.4 279.1L1974.6 281.4L1972.6 284.2L1970.4 287.4L1968.1 291.0L1965.7 295.1L1963.2 299.8L1960.6 305.0L1958.0 310.4L1955.4 315.7L1952.7 321.2L1950.0 326.8L1947.4 332.1L1945.1 336.2L1943.0 338.9L1941.1 340.7L1939.4 341.8L1938.3 342.6L1933.5 342.4L1921.1 331.4L1910.2 317.7Z" fill="url(#rga)"/>
<path d="M1910.2 315.7L1921.1 322.8L1933.5 334.4L1939.2 342.6L1933.5 342.6L1921.1 331.6L1909.8 318.0Z" fill="#1f2e1a"/>
<ellipse cx="1986.8" cy="265.6" rx="8.2" ry="7.6" transform="rotate(-25 1986.8 265.6)" fill="#0c8732"/>
<path d="M1811.6 168.9L1800.6 160.0" stroke="#12143e" stroke-width="12.2" stroke-linejoin="round" fill="none"/>
<circle cx="1800.6" cy="160.0" r="6.1" fill="#12143e"/>
<path d="M1811.6 168.9L1800.6 160.0" stroke="#2b3384" stroke-width="11.0" stroke-linejoin="round" fill="none" transform="translate(-0.25 -0.25)"/>
<circle cx="1800.6" cy="160.0" r="5.5" fill="#2b3384" transform="translate(-0.25 -0.25)"/>
<path d="M1811.6 168.9L1800.6 160.0" stroke="#3c47a4" stroke-width="9.4" stroke-linejoin="round" fill="none" transform="translate(-0.8 -0.8)"/>
<circle cx="1800.6" cy="160.0" r="4.7" fill="#3c47a4" transform="translate(-0.8 -0.8)"/>
<path d="M1811.6 168.9L1800.6 160.0" stroke="#4652b4" stroke-width="7.6" stroke-linejoin="round" fill="none" transform="translate(-1.5 -1.5)"/>
<circle cx="1800.6" cy="160.0" r="3.8" fill="#4652b4" transform="translate(-1.5 -1.5)"/>
<path d="M1811.6 168.9L1800.6 160.0" stroke="#c0c8f8" stroke-width="1.3" stroke-linejoin="round" stroke-linecap="round" fill="none" transform="translate(-2.4 -2.4)" opacity="0.5"/>
<path d="M1939.5 275.5L1911.9 246.3L1872.3 258.6L1840.6 226.8L1840.6 221.0" stroke="#123c06" stroke-width="12.2" stroke-linejoin="round" fill="none"/>
<path d="M1939.5 275.5L1911.9 246.3L1872.3 258.6L1840.6 226.8L1840.6 221.0" stroke="#2a9412" stroke-width="11.0" stroke-linejoin="round" fill="none" transform="translate(-0.25 -0.25)"/>
<path d="M1939.5 275.5L1911.9 246.3L1872.3 258.6L1840.6 226.8L1840.6 221.0" stroke="#55b808" stroke-width="9.4" stroke-linejoin="round" fill="none" transform="translate(-0.8 -0.8)"/>
<path d="M1939.5 275.5L1911.9 246.3L1872.3 258.6L1840.6 226.8L1840.6 221.0" stroke="#6cc400" stroke-width="7.6" stroke-linejoin="round" fill="none" transform="translate(-1.5 -1.5)"/>
<path d="M1939.5 275.5L1911.9 246.3L1872.3 258.6L1840.6 226.8L1840.6 221.0" stroke="#e2f9b4" stroke-width="1.3" stroke-linejoin="round" stroke-linecap="round" fill="none" transform="translate(-2.4 -2.4)" opacity="0.5"/>
<path d="M1840.6 222.0L1840.6 211.5L1834.5 202.3" stroke="#12143e" stroke-width="12.2" stroke-linejoin="round" fill="none"/>
<path d="M1840.6 222.0L1840.6 211.5L1834.5 202.3" stroke="#2b3384" stroke-width="11.0" stroke-linejoin="round" fill="none" transform="translate(-0.25 -0.25)"/>
<path d="M1840.6 222.0L1840.6 211.5L1834.5 202.3" stroke="#3c47a4" stroke-width="9.4" stroke-linejoin="round" fill="none" transform="translate(-0.8 -0.8)"/>
<path d="M1840.6 222.0L1840.6 211.5L1834.5 202.3" stroke="#4652b4" stroke-width="7.6" stroke-linejoin="round" fill="none" transform="translate(-1.5 -1.5)"/>
<path d="M1840.6 222.0L1840.6 211.5L1834.5 202.3" stroke="#c0c8f8" stroke-width="1.3" stroke-linejoin="round" stroke-linecap="round" fill="none" transform="translate(-2.4 -2.4)" opacity="0.5"/>
<path d="M1834.5 202.3L1830.2 195.3L1822.1 180.5L1811.6 168.9" stroke="#123c06" stroke-width="12.2" stroke-linejoin="round" fill="none"/>
<path d="M1834.5 202.3L1830.2 195.3L1822.1 180.5L1811.6 168.9" stroke="#2a9412" stroke-width="11.0" stroke-linejoin="round" fill="none" transform="translate(-0.25 -0.25)"/>
<path d="M1834.5 202.3L1830.2 195.3L1822.1 180.5L1811.6 168.9" stroke="#55b808" stroke-width="9.4" stroke-linejoin="round" fill="none" transform="translate(-0.8 -0.8)"/>
<path d="M1834.5 202.3L1830.2 195.3L1822.1 180.5L1811.6 168.9" stroke="#6cc400" stroke-width="7.6" stroke-linejoin="round" fill="none" transform="translate(-1.5 -1.5)"/>
<path d="M1834.5 202.3L1830.2 195.3L1822.1 180.5L1811.6 168.9" stroke="#e2f9b4" stroke-width="1.3" stroke-linejoin="round" stroke-linecap="round" fill="none" transform="translate(-2.4 -2.4)" opacity="0.5"/>
<path d="M1840.6 221.0L1840.6 213.0" stroke="#12143e" stroke-width="12.2" stroke-linejoin="round" fill="none"/>
<path d="M1840.6 221.0L1840.6 213.0" stroke="#2b3384" stroke-width="11.0" stroke-linejoin="round" fill="none" transform="translate(-0.25 -0.25)"/>
<path d="M1840.6 221.0L1840.6 213.0" stroke="#3c47a4" stroke-width="9.4" stroke-linejoin="round" fill="none" transform="translate(-0.8 -0.8)"/>
<path d="M1840.6 221.0L1840.6 213.0" stroke="#4652b4" stroke-width="7.6" stroke-linejoin="round" fill="none" transform="translate(-1.5 -1.5)"/>
<path d="M1834.5 202.3L1830.2 195.3" stroke="#12143e" stroke-width="12.2" stroke-linejoin="round" fill="none"/>
<path d="M1834.5 202.3L1830.2 195.3" stroke="#2b3384" stroke-width="11.0" stroke-linejoin="round" fill="none" transform="translate(-0.25 -0.25)"/>
<path d="M1834.5 202.3L1830.2 195.3" stroke="#3c47a4" stroke-width="9.4" stroke-linejoin="round" fill="none" transform="translate(-0.8 -0.8)"/>
<path d="M1834.5 202.3L1830.2 195.3" stroke="#4652b4" stroke-width="7.6" stroke-linejoin="round" fill="none" transform="translate(-1.5 -1.5)"/>
<path d="M1834.5 202.3L1830.2 195.3" stroke="#c0c8f8" stroke-width="1.3" stroke-linejoin="round" stroke-linecap="round" fill="none" transform="translate(-2.4 -2.4)" opacity="0.5"/>
<path d="M1822.5 179.4L1822.5 165.2" stroke="#12143e" stroke-width="12.2" stroke-linejoin="round" fill="none"/>
<circle cx="1822.5" cy="165.2" r="6.1" fill="#12143e"/>
<path d="M1822.5 179.4L1822.5 165.2" stroke="#2b3384" stroke-width="11.0" stroke-linejoin="round" fill="none" transform="translate(-0.25 -0.25)"/>
<circle cx="1822.5" cy="165.2" r="5.5" fill="#2b3384" transform="translate(-0.25 -0.25)"/>
<path d="M1822.5 179.4L1822.5 165.2" stroke="#3c47a4" stroke-width="9.4" stroke-linejoin="round" fill="none" transform="translate(-0.8 -0.8)"/>
<circle cx="1822.5" cy="165.2" r="4.7" fill="#3c47a4" transform="translate(-0.8 -0.8)"/>
<path d="M1822.5 179.4L1822.5 165.2" stroke="#4652b4" stroke-width="7.6" stroke-linejoin="round" fill="none" transform="translate(-1.5 -1.5)"/>
<circle cx="1822.5" cy="165.2" r="3.8" fill="#4652b4" transform="translate(-1.5 -1.5)"/>
<path d="M1822.5 179.4L1822.5 165.2" stroke="#c0c8f8" stroke-width="1.3" stroke-linejoin="round" stroke-linecap="round" fill="none" transform="translate(-2.4 -2.4)" opacity="0.5"/>
<g font-size="19.2">
<rect x="1376.1" y="188.4" width="56.9" height="22.8" fill="#fff" opacity="0.78"/>
<text x="1381.1" y="206.4">N106</text>
<rect x="1546.1" y="141.2" width="55.8" height="22.8" fill="#fff" opacity="0.78"/>
<text x="1551.1" y="159.2">S130</text>
<rect x="1350.1" y="281.2" width="55.8" height="22.8" fill="#fff" opacity="0.78"/>
<text x="1355.1" y="299.2">Y105</text>
<rect x="1452.1" y="286.9" width="56.9" height="22.8" fill="#fff" opacity="0.78"/>
<text x="1457.1" y="304.9">N132</text>
<rect x="1301.4" y="340.4" width="56.9" height="22.8" fill="#fff" opacity="0.78"/>
<text x="1306.4" y="358.4">N104</text>
<rect x="1625.1" y="279.6" width="45.2" height="22.8" fill="#fff" opacity="0.78"/>
<text x="1630.1" y="297.6">K73</text>
<rect x="1750.3" y="182.7" width="55.8" height="22.8" fill="#fff" opacity="0.78"/>
<text x="1755.3" y="200.7">K234</text>
<rect x="1725.2" y="280.0" width="54.7" height="22.8" fill="#fff" opacity="0.78"/>
<text x="1730.2" y="298.0">T235</text>
<rect x="1873.8" y="280.7" width="56.9" height="22.8" fill="#fff" opacity="0.78"/>
<text x="1878.8" y="298.7">R276</text>
<rect x="1761.6" y="330.3" width="56.9" height="22.8" fill="#fff" opacity="0.78"/>
<text x="1766.6" y="348.3">G236</text>
<rect x="1636.3" y="395.4" width="45.2" height="22.8" fill="#fff" opacity="0.78"/>
<text x="1641.3" y="413.4">S70</text>
<rect x="1734.8" y="397.2" width="55.8" height="22.8" fill="#fff" opacity="0.78"/>
<text x="1739.8" y="415.2">S237</text>
<rect x="1702.1" y="468.8" width="56.9" height="22.8" fill="#fff" opacity="0.78"/>
<text x="1707.1" y="486.8">G238</text>
<rect x="1698.9" y="511.7" width="56.9" height="22.8" fill="#fff" opacity="0.78"/>
<text x="1703.9" y="529.7">D240</text>
<rect x="1462.5" y="490.0" width="55.8" height="22.8" fill="#fff" opacity="0.78"/>
<text x="1467.5" y="508.0">E166</text>
<rect x="1361.4" y="557.3" width="55.8" height="22.8" fill="#fff" opacity="0.78"/>
<text x="1366.4" y="575.3">P167</text>
<rect x="1502.2" y="562.5" width="56.9" height="22.8" fill="#fff" opacity="0.78"/>
<text x="1507.2" y="580.5">N170</text>
</g>
</g>
<g id="mol-b" stroke-linecap="butt" transform="translate(0 790.15)">
<path d="M1406.5 284.5L1413.4 283.0L1423.3 280.9L1433.9 278.4L1442.8 275.9L1449.8 273.2L1455.9 270.3L1461.1 267.6L1465.3 265.5L1467.8 264.1L1468.9 263.0L1469.8 262.6L1471.3 262.9L1474.4 264.2L1478.3 266.4L1481.8 269.0L1483.4 271.6L1482.8 274.1L1480.7 276.8L1477.6 279.6L1473.9 282.8L1469.5 286.5L1464.2 290.5L1458.6 294.6L1453.2 298.4L1448.0 301.8L1442.8 305.0L1437.6 307.9L1432.4 310.4L1427.2 312.5L1421.8 314.3L1416.6 315.6L1411.7 316.5L1406.9 317.0L1402.1 317.1L1397.8 316.7L1394.4 315.6L1392.1 313.8L1390.6 311.4L1389.8 308.4L1389.2 305.3L1388.9 301.5L1388.8 297.2L1389.4 293.0L1391.0 289.7L1394.2 287.6L1398.8 286.1L1403.4 285.2L1406.5 284.5Z" fill="#a82a22"/>
<path d="M1463.5 269.8L1475.6 273.3" stroke="#de2d1e" stroke-width="2.2" fill="none" stroke-linecap="round" stroke-linejoin="round" opacity="0.8"/>
<path d="M1670.2 295.9L1667.5 297.3L1663.6 299.3L1659.4 301.7L1655.5 304.6L1652.2 307.9L1649.1 311.7L1646.1 315.8L1643.4 320.1L1640.9 324.6L1638.5 329.3L1636.5 334.2L1634.8 339.1L1633.5 344.2L1632.5 349.4L1631.9 354.6L1631.7 359.9L1631.9 365.2L1632.5 370.7L1633.5 375.9L1634.8 380.6L1636.8 384.8L1639.3 388.6L1641.7 391.8L1643.4 394.1L1650.3 391.8L1654.7 382.3L1654.0 379.6L1653.1 375.7L1652.3 371.3L1652.1 366.8L1652.3 362.2L1653.0 357.4L1654.0 352.5L1655.5 347.8L1657.5 343.2L1660.1 338.7L1662.9 334.4L1665.9 330.5L1669.1 327.0L1672.5 323.7L1676.1 320.9L1679.7 318.4L1683.7 316.3L1687.9 314.6L1691.7 313.3L1694.4 312.3L1694.4 312.3L1692.9 310.3L1690.8 307.3L1688.4 304.6L1685.7 302.3L1682.8 300.2L1679.7 298.5L1676.3 297.3L1672.7 296.5L1670.2 295.9Z" fill="#f2767b" stroke="#d8585e" stroke-width="1.2" stroke-linejoin="round"/>
<path d="M1679.7 309.7L1676.8 312.1L1672.6 315.5L1668.0 319.4L1664.2 323.6L1661.1 327.9L1658.2 332.6L1655.8 337.6L1653.8 342.6L1652.3 347.7L1651.2 353.1L1650.4 358.3L1650.0 363.3L1650.0 368.3L1650.4 373.2L1650.9 377.6L1651.2 380.6" stroke="#ffc8c8" stroke-width="2.2" fill="none" stroke-linecap="round" stroke-linejoin="round"/>
<path d="M1643.4 394.1L1650.7 391.7L1654.8 382.3L1650.3 380.6L1644.3 384.9Z" fill="#d9676c"/>
<path d="M1646.9 330.5L1624.1 307.7L1599.9 328.8L1591.6 303.7" stroke="#6c2830" stroke-width="12.8" stroke-linejoin="round" fill="none"/>
<circle cx="1591.6" cy="303.7" r="6.4" fill="#6c2830"/>
<path d="M1646.9 330.5L1624.1 307.7L1599.9 328.8L1591.6 303.7" stroke="#b8464a" stroke-width="11.6" stroke-linejoin="round" fill="none" transform="translate(-0.25 -0.25)"/>
<circle cx="1591.6" cy="303.7" r="5.8" fill="#b8464a" transform="translate(-0.25 -0.25)"/>
<path d="M1646.9 330.5L1624.1 307.7L1599.9 328.8L1591.6 303.7" stroke="#d65458" stroke-width="10.0" stroke-linejoin="round" fill="none" transform="translate(-0.8 -0.8)"/>
<circle cx="1591.6" cy="303.7" r="5.0" fill="#d65458" transform="translate(-0.8 -0.8)"/>
<path d="M1646.9 330.5L1624.1 307.7L1599.9 328.8L1591.6 303.7" stroke="#ea5e62" stroke-width="8.2" stroke-linejoin="round" fill="none" transform="translate(-1.5 -1.5)"/>
<circle cx="1591.6" cy="303.7" r="4.1" fill="#ea5e62" transform="translate(-1.5 -1.5)"/>
<path d="M1646.9 330.5L1624.1 307.7L1599.9 328.8L1591.6 303.7" stroke="#ffc4c4" stroke-width="1.4" stroke-linejoin="round" stroke-linecap="round" fill="none" transform="translate(-2.6 -2.6)" opacity="0.25"/>
<path d="M1558.8 301.1L1593.3 294.5L1591.9 303.7L1567.7 327.9L1558.8 301.1" stroke="#4a0c06" stroke-width="13.2" stroke-linejoin="round" fill="none"/>
<circle cx="1558.8" cy="301.1" r="6.6" fill="#4a0c06"/>
<circle cx="1558.8" cy="301.1" r="6.6" fill="#4a0c06"/>
<path d="M1558.8 301.1L1593.3 294.5L1591.9 303.7L1567.7 327.9L1558.8 301.1" stroke="#9c1e12" stroke-width="12.0" stroke-linejoin="round" fill="none" transform="translate(-0.25 -0.25)"/>
<circle cx="1558.8" cy="301.1" r="6.0" fill="#9c1e12" transform="translate(-0.25 -0.25)"/>
<circle cx="1558.8" cy="301.1" r="6.0" fill="#9c1e12" transform="translate(-0.25 -0.25)"/>
<path d="M1558.8 301.1L1593.3 294.5L1591.9 303.7L1567.7 327.9L1558.8 301.1" stroke="#c8281a" stroke-width="10.4" stroke-linejoin="round" fill="none" transform="translate(-0.8 -0.8)"/>
<circle cx="1558.8" cy="301.1" r="5.2" fill="#c8281a" transform="translate(-0.8 -0.8)"/>
<circle cx="1558.8" cy="301.1" r="5.2" fill="#c8281a" transform="translate(-0.8 -0.8)"/>
<path d="M1558.8 301.1L1593.3 294.5L1591.9 303.7L1567.7 327.9L1558.8 301.1" stroke="#de2d1e" stroke-width="8.6" stroke-linejoin="round" fill="none" transform="translate(-1.5 -1.5)"/>
<circle cx="1558.8" cy="301.1" r="4.3" fill="#de2d1e" transform="translate(-1.5 -1.5)"/>
<circle cx="1558.8" cy="301.1" r="4.3" fill="#de2d1e" transform="translate(-1.5 -1.5)"/>
<path d="M1558.8 301.1L1593.3 294.5L1591.9 303.7L1567.7 327.9L1558.8 301.1" stroke="#ffb0a2" stroke-width="1.5" stroke-linejoin="round" stroke-linecap="round" fill="none" transform="translate(-2.6 -2.6)" opacity="0.25"/>
<path d="M1558.8 321.8L1558.8 340.5" stroke="#12143e" stroke-width="12.2" stroke-linejoin="round" fill="none"/>
<circle cx="1558.8" cy="321.8" r="6.1" fill="#12143e"/>
<circle cx="1558.8" cy="340.5" r="6.1" fill="#12143e"/>
<path d="M1558.8 321.8L1558.8 340.5" stroke="#2b3384" stroke-width="11.0" stroke-linejoin="round" fill="none" transform="translate(-0.25 -0.25)"/>
<circle cx="1558.8" cy="321.8" r="5.5" fill="#2b3384" transform="translate(-0.25 -0.25)"/>
<circle cx="1558.8" cy="340.5" r="5.5" fill="#2b3384" transform="translate(-0.25 -0.25)"/>
<path d="M1558.8 321.8L1558.8 340.5" stroke="#3c47a4" stroke-width="9.4" stroke-linejoin="round" fill="none" transform="translate(-0.8 -0.8)"/>
<circle cx="1558.8" cy="321.8" r="4.7" fill="#3c47a4" transform="translate(-0.8 -0.8)"/>
<circle cx="1558.8" cy="340.5" r="4.7" fill="#3c47a4" transform="translate(-0.8 -0.8)"/>
<path d="M1558.8 321.8L1558.8 340.5" stroke="#4652b4" stroke-width="7.6" stroke-linejoin="round" fill="none" transform="translate(-1.5 -1.5)"/>
<circle cx="1558.8" cy="321.8" r="3.8" fill="#4652b4" transform="translate(-1.5 -1.5)"/>
<circle cx="1558.8" cy="340.5" r="3.8" fill="#4652b4" transform="translate(-1.5 -1.5)"/>
<path d="M1558.8 321.8L1558.8 340.5" stroke="#c0c8f8" stroke-width="1.3" stroke-linejoin="round" stroke-linecap="round" fill="none" transform="translate(-2.4 -2.4)" opacity="0.5"/>
<path d="M1558.4 321.8L1558.4 340.0" stroke="#c9d0fa" stroke-width="3.6" fill="none" stroke-linecap="round" stroke-linejoin="round"/>
<path d="M1557.0 307.2L1560.5 317.5" stroke="#12143e" stroke-width="11.0" stroke-linejoin="round" fill="none"/>
<circle cx="1557.0" cy="307.2" r="5.5" fill="#12143e"/>
<circle cx="1560.5" cy="317.5" r="5.5" fill="#12143e"/>
<path d="M1557.0 307.2L1560.5 317.5" stroke="#2b3384" stroke-width="9.8" stroke-linejoin="round" fill="none" transform="translate(-0.25 -0.25)"/>
<circle cx="1557.0" cy="307.2" r="4.9" fill="#2b3384" transform="translate(-0.25 -0.25)"/>
<circle cx="1560.5" cy="317.5" r="4.9" fill="#2b3384" transform="translate(-0.25 -0.25)"/>
<path d="M1557.0 307.2L1560.5 317.5" stroke="#3c47a4" stroke-width="8.2" stroke-linejoin="round" fill="none" transform="translate(-0.8 -0.8)"/>
<circle cx="1557.0" cy="307.2" r="4.1" fill="#3c47a4" transform="translate(-0.8 -0.8)"/>
<circle cx="1560.5" cy="317.5" r="4.1" fill="#3c47a4" transform="translate(-0.8 -0.8)"/>
<path d="M1557.0 307.2L1560.5 317.5" stroke="#4652b4" stroke-width="6.4" stroke-linejoin="round" fill="none" transform="translate(-1.5 -1.5)"/>
<circle cx="1557.0" cy="307.2" r="3.2" fill="#4652b4" transform="translate(-1.5 -1.5)"/>
<circle cx="1560.5" cy="317.5" r="3.2" fill="#4652b4" transform="translate(-1.5 -1.5)"/>
<path d="M1557.0 307.2L1560.5 317.5" stroke="#c0c8f8" stroke-width="1.2" stroke-linejoin="round" stroke-linecap="round" fill="none" transform="translate(-2.2 -2.2)" opacity="0.5"/>
<path d="M1710.0 347.8L1708.7 348.4L1706.8 349.4L1704.6 350.8L1702.2 352.9L1699.4 356.0L1696.3 359.9L1693.1 364.1L1690.1 368.5L1687.3 373.0L1684.6 377.8L1682.0 382.7L1679.7 387.5L1677.7 392.3L1675.9 397.2L1674.3 401.9L1672.8 406.5L1671.4 411.2L1670.2 415.9L1669.2 420.0L1668.5 422.9L1685.8 423.4L1686.2 421.1L1686.9 417.7L1687.8 413.8L1689.2 410.0L1691.0 406.2L1693.2 402.4L1695.8 398.4L1698.7 394.4L1702.3 390.4L1706.4 386.4L1710.6 382.2L1714.3 378.0L1717.5 373.2L1720.4 367.9L1722.9 363.2L1724.6 359.9L1724.6 359.9L1723.5 357.4L1721.7 354.0L1719.5 351.2L1716.3 349.6L1712.6 348.5L1710.0 347.8Z" fill="#de2d1e" stroke="#4a0c06" stroke-width="1" stroke-linejoin="round"/>
<path d="M1716.9 375.4L1714.0 377.9L1709.8 381.3L1705.3 385.3L1701.3 389.2L1698.1 393.0L1695.1 396.9L1692.4 400.9L1690.1 404.8L1688.2 409.0L1686.6 413.5L1685.4 417.5L1684.6 420.3" stroke="#ffb0a8" stroke-width="1.8" fill="none" stroke-linecap="round" stroke-linejoin="round"/>
<path d="M1808.5 180.5L1792.6 206.6L1778.2 230.8L1766.2 256.9L1755.5 284.5L1748.4 306.5L1735.5 337.0L1725.4 359.9L1719.6 373.7L1703.9 401.3L1682.5 444.5L1725.4 445.5L1741.9 413.4L1760.8 377.1L1776.5 347.3L1783.0 334.0L1794.6 311.6L1801.5 298.6L1811.0 277.9L1822.5 253.7L1835.5 229.5L1852.7 202.6L1845.0 193.0L1834.0 183.5L1822.0 179.0Z" fill="#de2d1e" stroke="#de2d1e" stroke-width="0.7" stroke-linejoin="round"/>
<path d="M1661.1 447.3L1666.3 446.4L1673.8 445.1L1681.0 444.2L1686.7 443.7L1692.2 443.5L1698.2 443.5L1705.3 443.5L1713.0 443.8L1720.7 444.2L1729.0 444.9L1737.3 445.8L1743.2 446.4L1743.2 446.4L1740.3 448.8L1736.1 452.2L1731.6 456.0L1727.6 459.4L1724.4 462.3L1721.4 465.0L1718.5 467.7L1715.5 470.6L1712.4 473.7L1709.3 477.0L1706.2 480.3L1703.4 483.6L1701.0 486.8L1698.7 489.9L1696.7 493.2L1694.8 496.5L1692.9 500.4L1691.2 504.7L1689.8 508.5L1688.7 511.2L1688.7 511.2L1687.3 511.4L1685.3 511.5L1683.1 511.9L1681.0 512.6L1679.0 514.1L1676.9 516.2L1674.9 517.9L1673.2 518.5L1671.7 517.3L1670.4 515.0L1669.2 512.2L1668.0 509.5L1666.8 507.1L1665.6 504.6L1664.6 502.0L1663.7 499.1L1663.0 495.9L1662.4 492.3L1662.0 488.7L1661.6 485.3L1661.4 482.5L1661.2 480.0L1661.1 477.2L1661.1 473.2L1661.1 467.1L1661.1 459.5L1661.1 452.3L1661.1 447.3Z" fill="#f4e31c" stroke="#3e3a02" stroke-width="0.8" stroke-linejoin="round"/>
<path d="M1543.0 535.5L1564.6 536.4L1592.3 544.2L1598.3 550.2L1599.2 579.6L1585.4 593.4L1569.8 605.5L1562.9 596.9L1550.8 562.3L1545.6 544.2Z" fill="#de2d1e" stroke="#de2d1e" stroke-width="2" stroke-linejoin="round"/>
<path d="M1599.2 578.7L1585.4 593.4L1569.8 605.5L1566.4 600.7L1581.9 589.1L1597.8 575.3Z" fill="#a82a22"/>
<path d="M1604.8 582.6L1600.6 567.9" stroke="#480a04" stroke-width="12.2" stroke-linejoin="round" fill="none"/>
<circle cx="1600.6" cy="567.9" r="6.1" fill="#480a04"/>
<path d="M1604.8 582.6L1600.6 567.9" stroke="#981c10" stroke-width="11.0" stroke-linejoin="round" fill="none" transform="translate(-0.25 -0.25)"/>
<circle cx="1600.6" cy="567.9" r="5.5" fill="#981c10" transform="translate(-0.25 -0.25)"/>
<path d="M1604.8 582.6L1600.6 567.9" stroke="#c42618" stroke-width="9.4" stroke-linejoin="round" fill="none" transform="translate(-0.8 -0.8)"/>
<circle cx="1600.6" cy="567.9" r="4.7" fill="#c42618" transform="translate(-0.8 -0.8)"/>
<path d="M1604.8 582.6L1600.6 567.9" stroke="#dc2a1c" stroke-width="7.6" stroke-linejoin="round" fill="none" transform="translate(-1.5 -1.5)"/>
<circle cx="1600.6" cy="567.9" r="3.8" fill="#dc2a1c" transform="translate(-1.5 -1.5)"/>
<path d="M1604.8 582.6L1600.6 567.9" stroke="#ffa595" stroke-width="1.3" stroke-linejoin="round" stroke-linecap="round" fill="none" transform="translate(-2.4 -2.4)" opacity="0.5"/>
<path d="M1609.2 598.5L1595.9 614.0" stroke="#123c06" stroke-width="12.2" stroke-linejoin="round" fill="none"/>
<path d="M1609.2 598.5L1595.9 614.0" stroke="#2a9412" stroke-width="11.0" stroke-linejoin="round" fill="none" transform="translate(-0.25 -0.25)"/>
<path d="M1609.2 598.5L1595.9 614.0" stroke="#55b808" stroke-width="9.4" stroke-linejoin="round" fill="none" transform="translate(-0.8 -0.8)"/>
<path d="M1609.2 598.5L1595.9 614.0" stroke="#6cc400" stroke-width="7.6" stroke-linejoin="round" fill="none" transform="translate(-1.5 -1.5)"/>
<path d="M1609.2 598.5L1595.9 614.0" stroke="#e2f9b4" stroke-width="1.3" stroke-linejoin="round" stroke-linecap="round" fill="none" transform="translate(-2.4 -2.4)" opacity="0.5"/>
<path d="M1595.9 614.0L1585.1 626.6" stroke="#480a04" stroke-width="12.2" stroke-linejoin="round" fill="none"/>
<circle cx="1585.1" cy="626.6" r="6.1" fill="#480a04"/>
<path d="M1595.9 614.0L1585.1 626.6" stroke="#981c10" stroke-width="11.0" stroke-linejoin="round" fill="none" transform="translate(-0.25 -0.25)"/>
<circle cx="1585.1" cy="626.6" r="5.5" fill="#981c10" transform="translate(-0.25 -0.25)"/>
<path d="M1595.9 614.0L1585.1 626.6" stroke="#c42618" stroke-width="9.4" stroke-linejoin="round" fill="none" transform="translate(-0.8 -0.8)"/>
<circle cx="1585.1" cy="626.6" r="4.7" fill="#c42618" transform="translate(-0.8 -0.8)"/>
<path d="M1595.9 614.0L1585.1 626.6" stroke="#dc2a1c" stroke-width="7.6" stroke-linejoin="round" fill="none" transform="translate(-1.5 -1.5)"/>
<circle cx="1585.1" cy="626.6" r="3.8" fill="#dc2a1c" transform="translate(-1.5 -1.5)"/>
<path d="M1595.9 614.0L1585.1 626.6" stroke="#ffa595" stroke-width="1.3" stroke-linejoin="round" stroke-linecap="round" fill="none" transform="translate(-2.4 -2.4)" opacity="0.5"/>
<path d="M1694.8 542.3L1649.0 608.0L1609.2 598.5L1604.8 582.6" stroke="#123c06" stroke-width="12.2" stroke-linejoin="round" fill="none"/>
<path d="M1694.8 542.3L1649.0 608.0L1609.2 598.5L1604.8 582.6" stroke="#2a9412" stroke-width="11.0" stroke-linejoin="round" fill="none" transform="translate(-0.25 -0.25)"/>
<path d="M1694.8 542.3L1649.0 608.0L1609.2 598.5L1604.8 582.6" stroke="#55b808" stroke-width="9.4" stroke-linejoin="round" fill="none" transform="translate(-0.8 -0.8)"/>
<path d="M1694.8 542.3L1649.0 608.0L1609.2 598.5L1604.8 582.6" stroke="#6cc400" stroke-width="7.6" stroke-linejoin="round" fill="none" transform="translate(-1.5 -1.5)"/>
<path d="M1694.8 542.3L1649.0 608.0L1609.2 598.5L1604.8 582.6" stroke="#e2f9b4" stroke-width="1.3" stroke-linejoin="round" stroke-linecap="round" fill="none" transform="translate(-2.4 -2.4)" opacity="0.5"/>
<path d="M1679.2 516.4L1679.9 518.1L1680.7 520.5L1681.7 523.2L1683.0 526.0L1684.4 528.5L1686.1 530.7L1687.9 532.9L1690.0 535.0L1692.3 537.0L1694.8 538.9L1697.5 540.6L1700.5 542.1L1703.7 543.5L1707.0 544.9L1710.3 546.1L1714.0 547.3L1718.1 548.5L1722.1 549.5L1725.5 550.3L1728.0 551.0" stroke="#123c06" stroke-width="14.2" stroke-linejoin="round" fill="none"/>
<circle cx="1679.2" cy="516.4" r="7.1" fill="#123c06"/>
<path d="M1679.2 516.4L1679.9 518.1L1680.7 520.5L1681.7 523.2L1683.0 526.0L1684.4 528.5L1686.1 530.7L1687.9 532.9L1690.0 535.0L1692.3 537.0L1694.8 538.9L1697.5 540.6L1700.5 542.1L1703.7 543.5L1707.0 544.9L1710.3 546.1L1714.0 547.3L1718.1 548.5L1722.1 549.5L1725.5 550.3L1728.0 551.0" stroke="#2a9412" stroke-width="13.0" stroke-linejoin="round" fill="none" transform="translate(-0.25 -0.25)"/>
<circle cx="1679.2" cy="516.4" r="6.5" fill="#2a9412" transform="translate(-0.25 -0.25)"/>
<path d="M1679.2 516.4L1679.9 518.1L1680.7 520.5L1681.7 523.2L1683.0 526.0L1684.4 528.5L1686.1 530.7L1687.9 532.9L1690.0 535.0L1692.3 537.0L1694.8 538.9L1697.5 540.6L1700.5 542.1L1703.7 543.5L1707.0 544.9L1710.3 546.1L1714.0 547.3L1718.1 548.5L1722.1 549.5L1725.5 550.3L1728.0 551.0" stroke="#55b808" stroke-width="11.4" stroke-linejoin="round" fill="none" transform="translate(-0.8 -0.8)"/>
<circle cx="1679.2" cy="516.4" r="5.7" fill="#55b808" transform="translate(-0.8 -0.8)"/>
<path d="M1679.2 516.4L1679.9 518.1L1680.7 520.5L1681.7 523.2L1683.0 526.0L1684.4 528.5L1686.1 530.7L1687.9 532.9L1690.0 535.0L1692.3 537.0L1694.8 538.9L1697.5 540.6L1700.5 542.1L1703.7 543.5L1707.0 544.9L1710.3 546.1L1714.0 547.3L1718.1 548.5L1722.1 549.5L1725.5 550.3L1728.0 551.0" stroke="#6cc400" stroke-width="9.6" stroke-linejoin="round" fill="none" transform="translate(-1.5 -1.5)"/>
<circle cx="1679.2" cy="516.4" r="4.8" fill="#6cc400" transform="translate(-1.5 -1.5)"/>
<path d="M1679.2 516.4L1679.9 518.1L1680.7 520.5L1681.7 523.2L1683.0 526.0L1684.4 528.5L1686.1 530.7L1687.9 532.9L1690.0 535.0L1692.3 537.0L1694.8 538.9L1697.5 540.6L1700.5 542.1L1703.7 543.5L1707.0 544.9L1710.3 546.1L1714.0 547.3L1718.1 548.5L1722.1 549.5L1725.5 550.3L1728.0 551.0" stroke="#e2f9b4" stroke-width="1.6" stroke-linejoin="round" stroke-linecap="round" fill="none" transform="translate(-2.8 -2.8)" opacity="0.5"/>
<path d="M1570.1 481.8L1551.7 475.9" stroke="#12143e" stroke-width="12.2" stroke-linejoin="round" fill="none"/>
<circle cx="1551.7" cy="475.9" r="6.1" fill="#12143e"/>
<path d="M1570.1 481.8L1551.7 475.9" stroke="#2b3384" stroke-width="11.0" stroke-linejoin="round" fill="none" transform="translate(-0.25 -0.25)"/>
<circle cx="1551.7" cy="475.9" r="5.5" fill="#2b3384" transform="translate(-0.25 -0.25)"/>
<path d="M1570.1 481.8L1551.7 475.9" stroke="#3c47a4" stroke-width="9.4" stroke-linejoin="round" fill="none" transform="translate(-0.8 -0.8)"/>
<circle cx="1551.7" cy="475.9" r="4.7" fill="#3c47a4" transform="translate(-0.8 -0.8)"/>
<path d="M1570.1 481.8L1551.7 475.9" stroke="#4652b4" stroke-width="7.6" stroke-linejoin="round" fill="none" transform="translate(-1.5 -1.5)"/>
<circle cx="1551.7" cy="475.9" r="3.8" fill="#4652b4" transform="translate(-1.5 -1.5)"/>
<path d="M1570.1 481.8L1551.7 475.9" stroke="#c0c8f8" stroke-width="1.3" stroke-linejoin="round" stroke-linecap="round" fill="none" transform="translate(-2.4 -2.4)" opacity="0.5"/>
<path d="M1587.1 487.2L1602.3 479.1" stroke="#4a0c06" stroke-width="12.2" stroke-linejoin="round" fill="none"/>
<path d="M1587.1 487.2L1602.3 479.1" stroke="#9c1e12" stroke-width="11.0" stroke-linejoin="round" fill="none" transform="translate(-0.25 -0.25)"/>
<path d="M1587.1 487.2L1602.3 479.1" stroke="#c8281a" stroke-width="9.4" stroke-linejoin="round" fill="none" transform="translate(-0.8 -0.8)"/>
<path d="M1587.1 487.2L1602.3 479.1" stroke="#de2d1e" stroke-width="7.6" stroke-linejoin="round" fill="none" transform="translate(-1.5 -1.5)"/>
<path d="M1587.1 487.2L1602.3 479.1" stroke="#ffb0a2" stroke-width="1.3" stroke-linejoin="round" stroke-linecap="round" fill="none" transform="translate(-2.4 -2.4)" opacity="0.5"/>
<path d="M1602.3 479.1L1613.4 473.3" stroke="#4a0c06" stroke-width="12.2" stroke-linejoin="round" fill="none"/>
<circle cx="1613.4" cy="473.3" r="6.1" fill="#4a0c06"/>
<path d="M1602.3 479.1L1613.4 473.3" stroke="#9c1e12" stroke-width="11.0" stroke-linejoin="round" fill="none" transform="translate(-0.25 -0.25)"/>
<circle cx="1613.4" cy="473.3" r="5.5" fill="#9c1e12" transform="translate(-0.25 -0.25)"/>
<path d="M1602.3 479.1L1613.4 473.3" stroke="#c8281a" stroke-width="9.4" stroke-linejoin="round" fill="none" transform="translate(-0.8 -0.8)"/>
<circle cx="1613.4" cy="473.3" r="4.7" fill="#c8281a" transform="translate(-0.8 -0.8)"/>
<path d="M1602.3 479.1L1613.4 473.3" stroke="#de2d1e" stroke-width="7.6" stroke-linejoin="round" fill="none" transform="translate(-1.5 -1.5)"/>
<circle cx="1613.4" cy="473.3" r="3.8" fill="#de2d1e" transform="translate(-1.5 -1.5)"/>
<path d="M1602.3 479.1L1613.4 473.3" stroke="#ffb0a2" stroke-width="1.3" stroke-linejoin="round" stroke-linecap="round" fill="none" transform="translate(-2.4 -2.4)" opacity="0.5"/>
<path d="M1570.1 481.8L1587.1 487.2L1593.2 519.1L1576.7 549.4" stroke="#4a0c06" stroke-width="12.2" stroke-linejoin="round" fill="none"/>
<circle cx="1576.7" cy="549.4" r="6.1" fill="#4a0c06"/>
<path d="M1570.1 481.8L1587.1 487.2L1593.2 519.1L1576.7 549.4" stroke="#9c1e12" stroke-width="11.0" stroke-linejoin="round" fill="none" transform="translate(-0.25 -0.25)"/>
<circle cx="1576.7" cy="549.4" r="5.5" fill="#9c1e12" transform="translate(-0.25 -0.25)"/>
<path d="M1570.1 481.8L1587.1 487.2L1593.2 519.1L1576.7 549.4" stroke="#c8281a" stroke-width="9.4" stroke-linejoin="round" fill="none" transform="translate(-0.8 -0.8)"/>
<circle cx="1576.7" cy="549.4" r="4.7" fill="#c8281a" transform="translate(-0.8 -0.8)"/>
<path d="M1570.1 481.8L1587.1 487.2L1593.2 519.1L1576.7 549.4" stroke="#de2d1e" stroke-width="7.6" stroke-linejoin="round" fill="none" transform="translate(-1.5 -1.5)"/>
<circle cx="1576.7" cy="549.4" r="3.8" fill="#de2d1e" transform="translate(-1.5 -1.5)"/>
<path d="M1570.1 481.8L1587.1 487.2L1593.2 519.1L1576.7 549.4" stroke="#ffb0a2" stroke-width="1.3" stroke-linejoin="round" stroke-linecap="round" fill="none" transform="translate(-2.4 -2.4)" opacity="0.5"/>
<circle cx="1459.2" cy="521.2" r="6.2" fill="#9c9420"/>
<path d="M1508.8 423.0L1507.6 429.4" stroke="#3e3a02" stroke-width="12.2" stroke-linejoin="round" fill="none"/>
<path d="M1508.8 423.0L1507.6 429.4" stroke="#9a8e12" stroke-width="11.0" stroke-linejoin="round" fill="none" transform="translate(-0.25 -0.25)"/>
<path d="M1508.8 423.0L1507.6 429.4" stroke="#d9c918" stroke-width="9.4" stroke-linejoin="round" fill="none" transform="translate(-0.8 -0.8)"/>
<path d="M1508.8 423.0L1507.6 429.4" stroke="#f4e31c" stroke-width="7.6" stroke-linejoin="round" fill="none" transform="translate(-1.5 -1.5)"/>
<path d="M1508.8 423.0L1507.6 429.4" stroke="#fffdc8" stroke-width="1.3" stroke-linejoin="round" stroke-linecap="round" fill="none" transform="translate(-2.4 -2.4)" opacity="0.5"/>
<path d="M1507.6 429.4L1506.0 438.2" stroke="#480a04" stroke-width="12.2" stroke-linejoin="round" fill="none"/>
<circle cx="1506.0" cy="438.2" r="6.1" fill="#480a04"/>
<path d="M1507.6 429.4L1506.0 438.2" stroke="#981c10" stroke-width="11.0" stroke-linejoin="round" fill="none" transform="translate(-0.25 -0.25)"/>
<circle cx="1506.0" cy="438.2" r="5.5" fill="#981c10" transform="translate(-0.25 -0.25)"/>
<path d="M1507.6 429.4L1506.0 438.2" stroke="#c42618" stroke-width="9.4" stroke-linejoin="round" fill="none" transform="translate(-0.8 -0.8)"/>
<circle cx="1506.0" cy="438.2" r="4.7" fill="#c42618" transform="translate(-0.8 -0.8)"/>
<path d="M1507.6 429.4L1506.0 438.2" stroke="#dc2a1c" stroke-width="7.6" stroke-linejoin="round" fill="none" transform="translate(-1.5 -1.5)"/>
<circle cx="1506.0" cy="438.2" r="3.8" fill="#dc2a1c" transform="translate(-1.5 -1.5)"/>
<path d="M1507.6 429.4L1506.0 438.2" stroke="#ffa595" stroke-width="1.3" stroke-linejoin="round" stroke-linecap="round" fill="none" transform="translate(-2.4 -2.4)" opacity="0.5"/>
<path d="M1526.1 417.0L1508.8 423.0L1474.3 419.6L1440.2 435.1L1453.5 522.0L1450.6 539.3" stroke="#3e3a02" stroke-width="13.4" stroke-linejoin="round" fill="none"/>
<path d="M1526.1 417.0L1508.8 423.0L1474.3 419.6L1440.2 435.1L1453.5 522.0L1450.6 539.3" stroke="#9a8e12" stroke-width="12.2" stroke-linejoin="round" fill="none" transform="translate(-0.25 -0.25)"/>
<path d="M1526.1 417.0L1508.8 423.0L1474.3 419.6L1440.2 435.1L1453.5 522.0L1450.6 539.3" stroke="#d9c918" stroke-width="10.6" stroke-linejoin="round" fill="none" transform="translate(-0.8 -0.8)"/>
<path d="M1526.1 417.0L1508.8 423.0L1474.3 419.6L1440.2 435.1L1453.5 522.0L1450.6 539.3" stroke="#f4e31c" stroke-width="8.8" stroke-linejoin="round" fill="none" transform="translate(-1.5 -1.5)"/>
<path d="M1526.1 417.0L1508.8 423.0L1474.3 419.6L1440.2 435.1L1453.5 522.0L1450.6 539.3" stroke="#fffdc8" stroke-width="1.5" stroke-linejoin="round" stroke-linecap="round" fill="none" transform="translate(-2.7 -2.7)" opacity="0.2"/>
<path d="M1526.1 417.0L1538.7 412.7" stroke="#480a04" stroke-width="12.2" stroke-linejoin="round" fill="none"/>
<circle cx="1538.7" cy="412.7" r="6.1" fill="#480a04"/>
<path d="M1526.1 417.0L1538.7 412.7" stroke="#981c10" stroke-width="11.0" stroke-linejoin="round" fill="none" transform="translate(-0.25 -0.25)"/>
<circle cx="1538.7" cy="412.7" r="5.5" fill="#981c10" transform="translate(-0.25 -0.25)"/>
<path d="M1526.1 417.0L1538.7 412.7" stroke="#c42618" stroke-width="9.4" stroke-linejoin="round" fill="none" transform="translate(-0.8 -0.8)"/>
<circle cx="1538.7" cy="412.7" r="4.7" fill="#c42618" transform="translate(-0.8 -0.8)"/>
<path d="M1526.1 417.0L1538.7 412.7" stroke="#dc2a1c" stroke-width="7.6" stroke-linejoin="round" fill="none" transform="translate(-1.5 -1.5)"/>
<circle cx="1538.7" cy="412.7" r="3.8" fill="#dc2a1c" transform="translate(-1.5 -1.5)"/>
<path d="M1526.1 417.0L1538.7 412.7" stroke="#ffa595" stroke-width="1.3" stroke-linejoin="round" stroke-linecap="round" fill="none" transform="translate(-2.4 -2.4)" opacity="0.5"/>
<path d="M1416.0 557.1L1421.2 548.5L1431.6 544.2L1447.1 539.9L1470.5 545.9L1461.0 560.6L1459.2 567.5L1436.8 577.9L1417.8 581.3L1414.3 571.0Z" fill="#de2d1e" stroke="#de2d1e" stroke-width="2" stroke-linejoin="round"/>
<path d="M1422.9 571.0L1440.2 564.0L1455.8 560.6" stroke="#ffb0a2" stroke-width="2.5" fill="none" stroke-linecap="round" stroke-linejoin="round" opacity="0.9"/>
<path d="M1378.9 506.2L1414.7 532.0" stroke="#4a0c06" stroke-width="12.2" stroke-linejoin="round" fill="none"/>
<path d="M1378.9 506.2L1414.7 532.0" stroke="#9c1e12" stroke-width="11.0" stroke-linejoin="round" fill="none" transform="translate(-0.25 -0.25)"/>
<path d="M1378.9 506.2L1414.7 532.0" stroke="#c8281a" stroke-width="9.4" stroke-linejoin="round" fill="none" transform="translate(-0.8 -0.8)"/>
<path d="M1378.9 506.2L1414.7 532.0" stroke="#de2d1e" stroke-width="7.6" stroke-linejoin="round" fill="none" transform="translate(-1.5 -1.5)"/>
<path d="M1378.9 506.2L1414.7 532.0" stroke="#ffb0a2" stroke-width="1.3" stroke-linejoin="round" stroke-linecap="round" fill="none" transform="translate(-2.4 -2.4)" opacity="0.5"/>
<path d="M1414.7 532.0L1431.6 544.2" stroke="#12143e" stroke-width="12.2" stroke-linejoin="round" fill="none"/>
<path d="M1414.7 532.0L1431.6 544.2" stroke="#2b3384" stroke-width="11.0" stroke-linejoin="round" fill="none" transform="translate(-0.25 -0.25)"/>
<path d="M1414.7 532.0L1431.6 544.2" stroke="#3c47a4" stroke-width="9.4" stroke-linejoin="round" fill="none" transform="translate(-0.8 -0.8)"/>
<path d="M1414.7 532.0L1431.6 544.2" stroke="#4652b4" stroke-width="7.6" stroke-linejoin="round" fill="none" transform="translate(-1.5 -1.5)"/>
<path d="M1414.7 532.0L1431.6 544.2" stroke="#c0c8f8" stroke-width="1.3" stroke-linejoin="round" stroke-linecap="round" fill="none" transform="translate(-2.4 -2.4)" opacity="0.5"/>
<path d="M1433.3 488.4L1437.6 552.0" stroke="#380a06" stroke-width="12.2" stroke-linejoin="round" fill="none"/>
<circle cx="1433.3" cy="488.4" r="6.1" fill="#380a06"/>
<path d="M1433.3 488.4L1437.6 552.0" stroke="#721a14" stroke-width="11.0" stroke-linejoin="round" fill="none" transform="translate(-0.25 -0.25)"/>
<circle cx="1433.3" cy="488.4" r="5.5" fill="#721a14" transform="translate(-0.25 -0.25)"/>
<path d="M1433.3 488.4L1437.6 552.0" stroke="#94241c" stroke-width="9.4" stroke-linejoin="round" fill="none" transform="translate(-0.8 -0.8)"/>
<circle cx="1433.3" cy="488.4" r="4.7" fill="#94241c" transform="translate(-0.8 -0.8)"/>
<path d="M1433.3 488.4L1437.6 552.0" stroke="#a82a22" stroke-width="7.6" stroke-linejoin="round" fill="none" transform="translate(-1.5 -1.5)"/>
<circle cx="1433.3" cy="488.4" r="3.8" fill="#a82a22" transform="translate(-1.5 -1.5)"/>
<path d="M1433.3 488.4L1437.6 552.0" stroke="#e08078" stroke-width="1.3" stroke-linejoin="round" stroke-linecap="round" fill="none" transform="translate(-2.4 -2.4)" opacity="0.5"/>
<path d="M1378.9 506.2L1396.2 510.8L1433.3 488.4" stroke="#4a0c06" stroke-width="12.2" stroke-linejoin="round" fill="none"/>
<circle cx="1378.9" cy="506.2" r="6.1" fill="#4a0c06"/>
<circle cx="1433.3" cy="488.4" r="6.1" fill="#4a0c06"/>
<path d="M1378.9 506.2L1396.2 510.8L1433.3 488.4" stroke="#9c1e12" stroke-width="11.0" stroke-linejoin="round" fill="none" transform="translate(-0.25 -0.25)"/>
<circle cx="1378.9" cy="506.2" r="5.5" fill="#9c1e12" transform="translate(-0.25 -0.25)"/>
<circle cx="1433.3" cy="488.4" r="5.5" fill="#9c1e12" transform="translate(-0.25 -0.25)"/>
<path d="M1378.9 506.2L1396.2 510.8L1433.3 488.4" stroke="#c8281a" stroke-width="9.4" stroke-linejoin="round" fill="none" transform="translate(-0.8 -0.8)"/>
<circle cx="1378.9" cy="506.2" r="4.7" fill="#c8281a" transform="translate(-0.8 -0.8)"/>
<circle cx="1433.3" cy="488.4" r="4.7" fill="#c8281a" transform="translate(-0.8 -0.8)"/>
<path d="M1378.9 506.2L1396.2 510.8L1433.3 488.4" stroke="#de2d1e" stroke-width="7.6" stroke-linejoin="round" fill="none" transform="translate(-1.5 -1.5)"/>
<circle cx="1378.9" cy="506.2" r="3.8" fill="#de2d1e" transform="translate(-1.5 -1.5)"/>
<circle cx="1433.3" cy="488.4" r="3.8" fill="#de2d1e" transform="translate(-1.5 -1.5)"/>
<path d="M1378.9 506.2L1396.2 510.8L1433.3 488.4" stroke="#ffb0a2" stroke-width="1.3" stroke-linejoin="round" stroke-linecap="round" fill="none" transform="translate(-2.4 -2.4)" opacity="0.5"/>
<path d="M1308.8 252.6L1295.2 256.9" stroke="#12143e" stroke-width="12.2" stroke-linejoin="round" fill="none"/>
<circle cx="1295.2" cy="256.9" r="6.1" fill="#12143e"/>
<path d="M1308.8 252.6L1295.2 256.9" stroke="#2b3384" stroke-width="11.0" stroke-linejoin="round" fill="none" transform="translate(-0.25 -0.25)"/>
<circle cx="1295.2" cy="256.9" r="5.5" fill="#2b3384" transform="translate(-0.25 -0.25)"/>
<path d="M1308.8 252.6L1295.2 256.9" stroke="#3c47a4" stroke-width="9.4" stroke-linejoin="round" fill="none" transform="translate(-0.8 -0.8)"/>
<circle cx="1295.2" cy="256.9" r="4.7" fill="#3c47a4" transform="translate(-0.8 -0.8)"/>
<path d="M1308.8 252.6L1295.2 256.9" stroke="#4652b4" stroke-width="7.6" stroke-linejoin="round" fill="none" transform="translate(-1.5 -1.5)"/>
<circle cx="1295.2" cy="256.9" r="3.8" fill="#4652b4" transform="translate(-1.5 -1.5)"/>
<path d="M1308.8 252.6L1295.2 256.9" stroke="#c0c8f8" stroke-width="1.3" stroke-linejoin="round" stroke-linecap="round" fill="none" transform="translate(-2.4 -2.4)" opacity="0.5"/>
<path d="M1314.6 250.8L1308.8 252.6" stroke="#3e3a02" stroke-width="12.2" stroke-linejoin="round" fill="none"/>
<path d="M1314.6 250.8L1308.8 252.6" stroke="#9a8e12" stroke-width="11.0" stroke-linejoin="round" fill="none" transform="translate(-0.25 -0.25)"/>
<path d="M1314.6 250.8L1308.8 252.6" stroke="#d9c918" stroke-width="9.4" stroke-linejoin="round" fill="none" transform="translate(-0.8 -0.8)"/>
<path d="M1314.6 250.8L1308.8 252.6" stroke="#f4e31c" stroke-width="7.6" stroke-linejoin="round" fill="none" transform="translate(-1.5 -1.5)"/>
<path d="M1314.6 250.8L1308.8 252.6" stroke="#fffdc8" stroke-width="1.3" stroke-linejoin="round" stroke-linecap="round" fill="none" transform="translate(-2.4 -2.4)" opacity="0.5"/>
<path d="M1371.1 204.3L1320.5 212.3L1314.6 250.8L1322.1 264.7" stroke="#3e3a02" stroke-width="12.2" stroke-linejoin="round" fill="none"/>
<path d="M1371.1 204.3L1320.5 212.3L1314.6 250.8L1322.1 264.7" stroke="#9a8e12" stroke-width="11.0" stroke-linejoin="round" fill="none" transform="translate(-0.25 -0.25)"/>
<path d="M1371.1 204.3L1320.5 212.3L1314.6 250.8L1322.1 264.7" stroke="#d9c918" stroke-width="9.4" stroke-linejoin="round" fill="none" transform="translate(-0.8 -0.8)"/>
<path d="M1371.1 204.3L1320.5 212.3L1314.6 250.8L1322.1 264.7" stroke="#f4e31c" stroke-width="7.6" stroke-linejoin="round" fill="none" transform="translate(-1.5 -1.5)"/>
<path d="M1371.1 204.3L1320.5 212.3L1314.6 250.8L1322.1 264.7" stroke="#fffdc8" stroke-width="1.3" stroke-linejoin="round" stroke-linecap="round" fill="none" transform="translate(-2.4 -2.4)" opacity="0.5"/>
<path d="M1322.1 264.7L1329.6 278.5" stroke="#480a04" stroke-width="12.2" stroke-linejoin="round" fill="none"/>
<circle cx="1329.6" cy="278.5" r="6.1" fill="#480a04"/>
<path d="M1322.1 264.7L1329.6 278.5" stroke="#981c10" stroke-width="11.0" stroke-linejoin="round" fill="none" transform="translate(-0.25 -0.25)"/>
<circle cx="1329.6" cy="278.5" r="5.5" fill="#981c10" transform="translate(-0.25 -0.25)"/>
<path d="M1322.1 264.7L1329.6 278.5" stroke="#c42618" stroke-width="9.4" stroke-linejoin="round" fill="none" transform="translate(-0.8 -0.8)"/>
<circle cx="1329.6" cy="278.5" r="4.7" fill="#c42618" transform="translate(-0.8 -0.8)"/>
<path d="M1322.1 264.7L1329.6 278.5" stroke="#dc2a1c" stroke-width="7.6" stroke-linejoin="round" fill="none" transform="translate(-1.5 -1.5)"/>
<circle cx="1329.6" cy="278.5" r="3.8" fill="#dc2a1c" transform="translate(-1.5 -1.5)"/>
<path d="M1322.1 264.7L1329.6 278.5" stroke="#ffa595" stroke-width="1.3" stroke-linejoin="round" stroke-linecap="round" fill="none" transform="translate(-2.4 -2.4)" opacity="0.5"/>
<circle cx="1416.5" cy="385.9" r="4.6" fill="#480a04"/>
<circle cx="1416.2" cy="385.5" r="3.6" fill="#dc2a1c"/>
<path d="M1373.7 366.5L1383.2 390.2L1419.0 393.7L1432.5 396.6" stroke="#4a0c06" stroke-width="12.2" stroke-linejoin="round" fill="none"/>
<path d="M1373.7 366.5L1383.2 390.2L1419.0 393.7L1432.5 396.6" stroke="#9c1e12" stroke-width="11.0" stroke-linejoin="round" fill="none" transform="translate(-0.25 -0.25)"/>
<path d="M1373.7 366.5L1383.2 390.2L1419.0 393.7L1432.5 396.6" stroke="#c8281a" stroke-width="9.4" stroke-linejoin="round" fill="none" transform="translate(-0.8 -0.8)"/>
<path d="M1373.7 366.5L1383.2 390.2L1419.0 393.7L1432.5 396.6" stroke="#de2d1e" stroke-width="7.6" stroke-linejoin="round" fill="none" transform="translate(-1.5 -1.5)"/>
<path d="M1373.7 366.5L1383.2 390.2L1419.0 393.7L1432.5 396.6" stroke="#ffb0a2" stroke-width="1.3" stroke-linejoin="round" stroke-linecap="round" fill="none" transform="translate(-2.4 -2.4)" opacity="0.5"/>
<path d="M1432.5 396.6L1451.1 400.6" stroke="#12143e" stroke-width="12.2" stroke-linejoin="round" fill="none"/>
<circle cx="1451.1" cy="400.6" r="6.1" fill="#12143e"/>
<path d="M1432.5 396.6L1451.1 400.6" stroke="#2b3384" stroke-width="11.0" stroke-linejoin="round" fill="none" transform="translate(-0.25 -0.25)"/>
<circle cx="1451.1" cy="400.6" r="5.5" fill="#2b3384" transform="translate(-0.25 -0.25)"/>
<path d="M1432.5 396.6L1451.1 400.6" stroke="#3c47a4" stroke-width="9.4" stroke-linejoin="round" fill="none" transform="translate(-0.8 -0.8)"/>
<circle cx="1451.1" cy="400.6" r="4.7" fill="#3c47a4" transform="translate(-0.8 -0.8)"/>
<path d="M1432.5 396.6L1451.1 400.6" stroke="#4652b4" stroke-width="7.6" stroke-linejoin="round" fill="none" transform="translate(-1.5 -1.5)"/>
<circle cx="1451.1" cy="400.6" r="3.8" fill="#4652b4" transform="translate(-1.5 -1.5)"/>
<path d="M1432.5 396.6L1451.1 400.6" stroke="#c0c8f8" stroke-width="1.3" stroke-linejoin="round" stroke-linecap="round" fill="none" transform="translate(-2.4 -2.4)" opacity="0.5"/>
<path d="M1480.5 348.7L1480.6 353.9" stroke="#4a0c06" stroke-width="12.2" stroke-linejoin="round" fill="none"/>
<path d="M1480.5 348.7L1480.6 353.9" stroke="#9c1e12" stroke-width="11.0" stroke-linejoin="round" fill="none" transform="translate(-0.25 -0.25)"/>
<path d="M1480.5 348.7L1480.6 353.9" stroke="#c8281a" stroke-width="9.4" stroke-linejoin="round" fill="none" transform="translate(-0.8 -0.8)"/>
<path d="M1480.5 348.7L1480.6 353.9" stroke="#de2d1e" stroke-width="7.6" stroke-linejoin="round" fill="none" transform="translate(-1.5 -1.5)"/>
<path d="M1480.5 348.7L1480.6 353.9" stroke="#ffb0a2" stroke-width="1.3" stroke-linejoin="round" stroke-linecap="round" fill="none" transform="translate(-2.4 -2.4)" opacity="0.5"/>
<path d="M1480.6 353.9L1480.8 366.0" stroke="#12143e" stroke-width="12.2" stroke-linejoin="round" fill="none"/>
<circle cx="1480.8" cy="366.0" r="6.1" fill="#12143e"/>
<path d="M1480.6 353.9L1480.8 366.0" stroke="#2b3384" stroke-width="11.0" stroke-linejoin="round" fill="none" transform="translate(-0.25 -0.25)"/>
<circle cx="1480.8" cy="366.0" r="5.5" fill="#2b3384" transform="translate(-0.25 -0.25)"/>
<path d="M1480.6 353.9L1480.8 366.0" stroke="#3c47a4" stroke-width="9.4" stroke-linejoin="round" fill="none" transform="translate(-0.8 -0.8)"/>
<circle cx="1480.8" cy="366.0" r="4.7" fill="#3c47a4" transform="translate(-0.8 -0.8)"/>
<path d="M1480.6 353.9L1480.8 366.0" stroke="#4652b4" stroke-width="7.6" stroke-linejoin="round" fill="none" transform="translate(-1.5 -1.5)"/>
<circle cx="1480.8" cy="366.0" r="3.8" fill="#4652b4" transform="translate(-1.5 -1.5)"/>
<path d="M1480.6 353.9L1480.8 366.0" stroke="#c0c8f8" stroke-width="1.3" stroke-linejoin="round" stroke-linecap="round" fill="none" transform="translate(-2.4 -2.4)" opacity="0.5"/>
<path d="M1436.6 296.2L1441.4 336.3L1480.5 348.7L1497.7 345.0" stroke="#4a0c06" stroke-width="12.2" stroke-linejoin="round" fill="none"/>
<path d="M1436.6 296.2L1441.4 336.3L1480.5 348.7L1497.7 345.0" stroke="#9c1e12" stroke-width="11.0" stroke-linejoin="round" fill="none" transform="translate(-0.25 -0.25)"/>
<path d="M1436.6 296.2L1441.4 336.3L1480.5 348.7L1497.7 345.0" stroke="#c8281a" stroke-width="9.4" stroke-linejoin="round" fill="none" transform="translate(-0.8 -0.8)"/>
<path d="M1436.6 296.2L1441.4 336.3L1480.5 348.7L1497.7 345.0" stroke="#de2d1e" stroke-width="7.6" stroke-linejoin="round" fill="none" transform="translate(-1.5 -1.5)"/>
<path d="M1436.6 296.2L1441.4 336.3L1480.5 348.7L1497.7 345.0" stroke="#ffb0a2" stroke-width="1.3" stroke-linejoin="round" stroke-linecap="round" fill="none" transform="translate(-2.4 -2.4)" opacity="0.5"/>
<path d="M1497.7 345.0L1510.2 342.3" stroke="#4a0c06" stroke-width="12.2" stroke-linejoin="round" fill="none"/>
<circle cx="1510.2" cy="342.3" r="6.1" fill="#4a0c06"/>
<path d="M1497.7 345.0L1510.2 342.3" stroke="#9c1e12" stroke-width="11.0" stroke-linejoin="round" fill="none" transform="translate(-0.25 -0.25)"/>
<circle cx="1510.2" cy="342.3" r="5.5" fill="#9c1e12" transform="translate(-0.25 -0.25)"/>
<path d="M1497.7 345.0L1510.2 342.3" stroke="#c8281a" stroke-width="9.4" stroke-linejoin="round" fill="none" transform="translate(-0.8 -0.8)"/>
<circle cx="1510.2" cy="342.3" r="4.7" fill="#c8281a" transform="translate(-0.8 -0.8)"/>
<path d="M1497.7 345.0L1510.2 342.3" stroke="#de2d1e" stroke-width="7.6" stroke-linejoin="round" fill="none" transform="translate(-1.5 -1.5)"/>
<circle cx="1510.2" cy="342.3" r="3.8" fill="#de2d1e" transform="translate(-1.5 -1.5)"/>
<path d="M1497.7 345.0L1510.2 342.3" stroke="#ffb0a2" stroke-width="1.3" stroke-linejoin="round" stroke-linecap="round" fill="none" transform="translate(-2.4 -2.4)" opacity="0.5"/>
<path d="M1325.3 374.7L1329.4 374.2L1335.3 373.5L1341.9 372.7L1347.8 371.7L1352.8 370.6L1357.6 369.4L1362.2 368.1L1366.8 366.5L1371.3 364.8L1375.7 362.9L1380.0 360.9L1384.0 358.8L1387.8 356.5L1391.4 354.2L1394.8 351.8L1397.9 349.2L1400.8 346.2L1403.5 342.9L1405.8 339.8L1407.4 337.7" stroke="#4a0c06" stroke-width="16.0" stroke-linejoin="round" fill="none"/>
<circle cx="1325.3" cy="374.7" r="8.0" fill="#4a0c06"/>
<path d="M1325.3 374.7L1329.4 374.2L1335.3 373.5L1341.9 372.7L1347.8 371.7L1352.8 370.6L1357.6 369.4L1362.2 368.1L1366.8 366.5L1371.3 364.8L1375.7 362.9L1380.0 360.9L1384.0 358.8L1387.8 356.5L1391.4 354.2L1394.8 351.8L1397.9 349.2L1400.8 346.2L1403.5 342.9L1405.8 339.8L1407.4 337.7" stroke="#9c1e12" stroke-width="14.8" stroke-linejoin="round" fill="none" transform="translate(-0.25 -0.25)"/>
<circle cx="1325.3" cy="374.7" r="7.4" fill="#9c1e12" transform="translate(-0.25 -0.25)"/>
<path d="M1325.3 374.7L1329.4 374.2L1335.3 373.5L1341.9 372.7L1347.8 371.7L1352.8 370.6L1357.6 369.4L1362.2 368.1L1366.8 366.5L1371.3 364.8L1375.7 362.9L1380.0 360.9L1384.0 358.8L1387.8 356.5L1391.4 354.2L1394.8 351.8L1397.9 349.2L1400.8 346.2L1403.5 342.9L1405.8 339.8L1407.4 337.7" stroke="#c8281a" stroke-width="13.2" stroke-linejoin="round" fill="none" transform="translate(-0.8 -0.8)"/>
<circle cx="1325.3" cy="374.7" r="6.6" fill="#c8281a" transform="translate(-0.8 -0.8)"/>
<path d="M1325.3 374.7L1329.4 374.2L1335.3 373.5L1341.9 372.7L1347.8 371.7L1352.8 370.6L1357.6 369.4L1362.2 368.1L1366.8 366.5L1371.3 364.8L1375.7 362.9L1380.0 360.9L1384.0 358.8L1387.8 356.5L1391.4 354.2L1394.8 351.8L1397.9 349.2L1400.8 346.2L1403.5 342.9L1405.8 339.8L1407.4 337.7" stroke="#de2d1e" stroke-width="11.4" stroke-linejoin="round" fill="none" transform="translate(-1.5 -1.5)"/>
<circle cx="1325.3" cy="374.7" r="5.7" fill="#de2d1e" transform="translate(-1.5 -1.5)"/>
<path d="M1325.3 374.7L1329.4 374.2L1335.3 373.5L1341.9 372.7L1347.8 371.7L1352.8 370.6L1357.6 369.4L1362.2 368.1L1366.8 366.5L1371.3 364.8L1375.7 362.9L1380.0 360.9L1384.0 358.8L1387.8 356.5L1391.4 354.2L1394.8 351.8L1397.9 349.2L1400.8 346.2L1403.5 342.9L1405.8 339.8L1407.4 337.7" stroke="#ffb0a2" stroke-width="1.8" stroke-linejoin="round" stroke-linecap="round" fill="none" transform="translate(-3.2 -3.2)" opacity="0.5"/>
<path d="M1407.4 337.7L1407.8 335.5L1408.5 332.3L1409.2 328.9L1409.6 325.9L1409.7 323.6L1409.7 321.7L1409.4 319.7L1409.1 317.4L1408.7 314.6L1408.1 311.5L1407.4 308.4L1406.5 305.3L1405.5 302.3L1404.3 299.3L1402.9 296.3L1401.3 293.2L1399.4 290.0L1397.2 286.9L1394.9 283.6L1392.7 280.2L1390.5 276.6L1388.2 272.9L1386.0 269.1L1384.0 265.5L1382.3 261.8L1380.7 257.9L1379.4 254.4L1378.5 252.0L1377.9 249.5L1377.1 245.9L1376.2 241.8L1375.4 237.9L1374.8 234.1L1374.1 230.3L1373.6 226.4L1373.2 222.3L1372.8 218.1L1372.5 213.8L1372.4 209.4L1372.3 205.0L1372.3 200.7L1372.5 196.4L1372.7 192.1L1373.2 187.8L1373.8 183.4L1374.5 179.0L1375.4 174.7L1376.3 170.5L1377.3 166.2L1378.5 161.8L1379.5 158.0L1380.2 155.3" stroke="#3e3a02" stroke-width="16.0" stroke-linejoin="round" fill="none"/>
<path d="M1407.4 337.7L1407.8 335.5L1408.5 332.3L1409.2 328.9L1409.6 325.9L1409.7 323.6L1409.7 321.7L1409.4 319.7L1409.1 317.4L1408.7 314.6L1408.1 311.5L1407.4 308.4L1406.5 305.3L1405.5 302.3L1404.3 299.3L1402.9 296.3L1401.3 293.2L1399.4 290.0L1397.2 286.9L1394.9 283.6L1392.7 280.2L1390.5 276.6L1388.2 272.9L1386.0 269.1L1384.0 265.5L1382.3 261.8L1380.7 257.9L1379.4 254.4L1378.5 252.0L1377.9 249.5L1377.1 245.9L1376.2 241.8L1375.4 237.9L1374.8 234.1L1374.1 230.3L1373.6 226.4L1373.2 222.3L1372.8 218.1L1372.5 213.8L1372.4 209.4L1372.3 205.0L1372.3 200.7L1372.5 196.4L1372.7 192.1L1373.2 187.8L1373.8 183.4L1374.5 179.0L1375.4 174.7L1376.3 170.5L1377.3 166.2L1378.5 161.8L1379.5 158.0L1380.2 155.3" stroke="#9a8e12" stroke-width="14.8" stroke-linejoin="round" fill="none" transform="translate(-0.25 -0.25)"/>
<path d="M1407.4 337.7L1407.8 335.5L1408.5 332.3L1409.2 328.9L1409.6 325.9L1409.7 323.6L1409.7 321.7L1409.4 319.7L1409.1 317.4L1408.7 314.6L1408.1 311.5L1407.4 308.4L1406.5 305.3L1405.5 302.3L1404.3 299.3L1402.9 296.3L1401.3 293.2L1399.4 290.0L1397.2 286.9L1394.9 283.6L1392.7 280.2L1390.5 276.6L1388.2 272.9L1386.0 269.1L1384.0 265.5L1382.3 261.8L1380.7 257.9L1379.4 254.4L1378.5 252.0L1377.9 249.5L1377.1 245.9L1376.2 241.8L1375.4 237.9L1374.8 234.1L1374.1 230.3L1373.6 226.4L1373.2 222.3L1372.8 218.1L1372.5 213.8L1372.4 209.4L1372.3 205.0L1372.3 200.7L1372.5 196.4L1372.7 192.1L1373.2 187.8L1373.8 183.4L1374.5 179.0L1375.4 174.7L1376.3 170.5L1377.3 166.2L1378.5 161.8L1379.5 158.0L1380.2 155.3" stroke="#d9c918" stroke-width="13.2" stroke-linejoin="round" fill="none" transform="translate(-0.8 -0.8)"/>
<path d="M1407.4 337.7L1407.8 335.5L1408.5 332.3L1409.2 328.9L1409.6 325.9L1409.7 323.6L1409.7 321.7L1409.4 319.7L1409.1 317.4L1408.7 314.6L1408.1 311.5L1407.4 308.4L1406.5 305.3L1405.5 302.3L1404.3 299.3L1402.9 296.3L1401.3 293.2L1399.4 290.0L1397.2 286.9L1394.9 283.6L1392.7 280.2L1390.5 276.6L1388.2 272.9L1386.0 269.1L1384.0 265.5L1382.3 261.8L1380.7 257.9L1379.4 254.4L1378.5 252.0L1377.9 249.5L1377.1 245.9L1376.2 241.8L1375.4 237.9L1374.8 234.1L1374.1 230.3L1373.6 226.4L1373.2 222.3L1372.8 218.1L1372.5 213.8L1372.4 209.4L1372.3 205.0L1372.3 200.7L1372.5 196.4L1372.7 192.1L1373.2 187.8L1373.8 183.4L1374.5 179.0L1375.4 174.7L1376.3 170.5L1377.3 166.2L1378.5 161.8L1379.5 158.0L1380.2 155.3" stroke="#f4e31c" stroke-width="11.4" stroke-linejoin="round" fill="none" transform="translate(-1.5 -1.5)"/>
<path d="M1407.4 337.7L1407.8 335.5L1408.5 332.3L1409.2 328.9L1409.6 325.9L1409.7 323.6L1409.7 321.7L1409.4 319.7L1409.1 317.4L1408.7 314.6L1408.1 311.5L1407.4 308.4L1406.5 305.3L1405.5 302.3L1404.3 299.3L1402.9 296.3L1401.3 293.2L1399.4 290.0L1397.2 286.9L1394.9 283.6L1392.7 280.2L1390.5 276.6L1388.2 272.9L1386.0 269.1L1384.0 265.5L1382.3 261.8L1380.7 257.9L1379.4 254.4L1378.5 252.0L1377.9 249.5L1377.1 245.9L1376.2 241.8L1375.4 237.9L1374.8 234.1L1374.1 230.3L1373.6 226.4L1373.2 222.3L1372.8 218.1L1372.5 213.8L1372.4 209.4L1372.3 205.0L1372.3 200.7L1372.5 196.4L1372.7 192.1L1373.2 187.8L1373.8 183.4L1374.5 179.0L1375.4 174.7L1376.3 170.5L1377.3 166.2L1378.5 161.8L1379.5 158.0L1380.2 155.3" stroke="#fffdc8" stroke-width="1.8" stroke-linejoin="round" stroke-linecap="round" fill="none" transform="translate(-3.2 -3.2)" opacity="0.5"/>
<path d="M1510.2 169.6L1517.5 197.3" stroke="#363204" stroke-width="13.6" stroke-linejoin="round" fill="none"/>
<circle cx="1510.2" cy="169.6" r="6.8" fill="#363204"/>
<circle cx="1517.5" cy="197.3" r="6.8" fill="#363204"/>
<path d="M1510.2 169.6L1517.5 197.3" stroke="#665f10" stroke-width="12.4" stroke-linejoin="round" fill="none" transform="translate(-0.25 -0.25)"/>
<circle cx="1510.2" cy="169.6" r="6.2" fill="#665f10" transform="translate(-0.25 -0.25)"/>
<circle cx="1517.5" cy="197.3" r="6.2" fill="#665f10" transform="translate(-0.25 -0.25)"/>
<path d="M1510.2 169.6L1517.5 197.3" stroke="#88801c" stroke-width="10.8" stroke-linejoin="round" fill="none" transform="translate(-0.8 -0.8)"/>
<circle cx="1510.2" cy="169.6" r="5.4" fill="#88801c" transform="translate(-0.8 -0.8)"/>
<circle cx="1517.5" cy="197.3" r="5.4" fill="#88801c" transform="translate(-0.8 -0.8)"/>
<path d="M1510.2 169.6L1517.5 197.3" stroke="#9c9420" stroke-width="9.0" stroke-linejoin="round" fill="none" transform="translate(-1.5 -1.5)"/>
<circle cx="1510.2" cy="169.6" r="4.5" fill="#9c9420" transform="translate(-1.5 -1.5)"/>
<circle cx="1517.5" cy="197.3" r="4.5" fill="#9c9420" transform="translate(-1.5 -1.5)"/>
<path d="M1510.2 169.6L1517.5 197.3" stroke="#d8d070" stroke-width="1.5" stroke-linejoin="round" stroke-linecap="round" fill="none" transform="translate(-2.7 -2.7)" opacity="0.2"/>
<path d="M1471.3 239.6L1463.9 215.8" stroke="#363204" stroke-width="13.6" stroke-linejoin="round" fill="none"/>
<circle cx="1471.3" cy="239.6" r="6.8" fill="#363204"/>
<circle cx="1463.9" cy="215.8" r="6.8" fill="#363204"/>
<path d="M1471.3 239.6L1463.9 215.8" stroke="#665f10" stroke-width="12.4" stroke-linejoin="round" fill="none" transform="translate(-0.25 -0.25)"/>
<circle cx="1471.3" cy="239.6" r="6.2" fill="#665f10" transform="translate(-0.25 -0.25)"/>
<circle cx="1463.9" cy="215.8" r="6.2" fill="#665f10" transform="translate(-0.25 -0.25)"/>
<path d="M1471.3 239.6L1463.9 215.8" stroke="#88801c" stroke-width="10.8" stroke-linejoin="round" fill="none" transform="translate(-0.8 -0.8)"/>
<circle cx="1471.3" cy="239.6" r="5.4" fill="#88801c" transform="translate(-0.8 -0.8)"/>
<circle cx="1463.9" cy="215.8" r="5.4" fill="#88801c" transform="translate(-0.8 -0.8)"/>
<path d="M1471.3 239.6L1463.9 215.8" stroke="#9c9420" stroke-width="9.0" stroke-linejoin="round" fill="none" transform="translate(-1.5 -1.5)"/>
<circle cx="1471.3" cy="239.6" r="4.5" fill="#9c9420" transform="translate(-1.5 -1.5)"/>
<circle cx="1463.9" cy="215.8" r="4.5" fill="#9c9420" transform="translate(-1.5 -1.5)"/>
<path d="M1471.3 239.6L1463.9 215.8" stroke="#d8d070" stroke-width="1.5" stroke-linejoin="round" stroke-linecap="round" fill="none" transform="translate(-2.7 -2.7)" opacity="0.2"/>
<path d="M1518.1 153.6L1525.9 137.6" stroke="#480a04" stroke-width="12.2" stroke-linejoin="round" fill="none"/>
<circle cx="1525.9" cy="137.6" r="6.1" fill="#480a04"/>
<path d="M1518.1 153.6L1525.9 137.6" stroke="#981c10" stroke-width="11.0" stroke-linejoin="round" fill="none" transform="translate(-0.25 -0.25)"/>
<circle cx="1525.9" cy="137.6" r="5.5" fill="#981c10" transform="translate(-0.25 -0.25)"/>
<path d="M1518.1 153.6L1525.9 137.6" stroke="#c42618" stroke-width="9.4" stroke-linejoin="round" fill="none" transform="translate(-0.8 -0.8)"/>
<circle cx="1525.9" cy="137.6" r="4.7" fill="#c42618" transform="translate(-0.8 -0.8)"/>
<path d="M1518.1 153.6L1525.9 137.6" stroke="#dc2a1c" stroke-width="7.6" stroke-linejoin="round" fill="none" transform="translate(-1.5 -1.5)"/>
<circle cx="1525.9" cy="137.6" r="3.8" fill="#dc2a1c" transform="translate(-1.5 -1.5)"/>
<path d="M1518.1 153.6L1525.9 137.6" stroke="#ffa595" stroke-width="1.3" stroke-linejoin="round" stroke-linecap="round" fill="none" transform="translate(-2.4 -2.4)" opacity="0.5"/>
<path d="M1517.5 197.3L1500.7 229.2L1471.3 239.6" stroke="#3e3a02" stroke-width="12.2" stroke-linejoin="round" fill="none"/>
<circle cx="1517.5" cy="197.3" r="6.1" fill="#3e3a02"/>
<circle cx="1471.3" cy="239.6" r="6.1" fill="#3e3a02"/>
<path d="M1517.5 197.3L1500.7 229.2L1471.3 239.6" stroke="#9a8e12" stroke-width="11.0" stroke-linejoin="round" fill="none" transform="translate(-0.25 -0.25)"/>
<circle cx="1517.5" cy="197.3" r="5.5" fill="#9a8e12" transform="translate(-0.25 -0.25)"/>
<circle cx="1471.3" cy="239.6" r="5.5" fill="#9a8e12" transform="translate(-0.25 -0.25)"/>
<path d="M1517.5 197.3L1500.7 229.2L1471.3 239.6" stroke="#d9c918" stroke-width="9.4" stroke-linejoin="round" fill="none" transform="translate(-0.8 -0.8)"/>
<circle cx="1517.5" cy="197.3" r="4.7" fill="#d9c918" transform="translate(-0.8 -0.8)"/>
<circle cx="1471.3" cy="239.6" r="4.7" fill="#d9c918" transform="translate(-0.8 -0.8)"/>
<path d="M1517.5 197.3L1500.7 229.2L1471.3 239.6" stroke="#f4e31c" stroke-width="7.6" stroke-linejoin="round" fill="none" transform="translate(-1.5 -1.5)"/>
<circle cx="1517.5" cy="197.3" r="3.8" fill="#f4e31c" transform="translate(-1.5 -1.5)"/>
<circle cx="1471.3" cy="239.6" r="3.8" fill="#f4e31c" transform="translate(-1.5 -1.5)"/>
<path d="M1517.5 197.3L1500.7 229.2L1471.3 239.6" stroke="#fffdc8" stroke-width="1.3" stroke-linejoin="round" stroke-linecap="round" fill="none" transform="translate(-2.4 -2.4)" opacity="0.5"/>
<path d="M1463.9 215.8L1481.9 181.7L1510.2 169.6L1518.1 153.6" stroke="#3e3a02" stroke-width="12.2" stroke-linejoin="round" fill="none"/>
<circle cx="1463.9" cy="215.8" r="6.1" fill="#3e3a02"/>
<path d="M1463.9 215.8L1481.9 181.7L1510.2 169.6L1518.1 153.6" stroke="#9a8e12" stroke-width="11.0" stroke-linejoin="round" fill="none" transform="translate(-0.25 -0.25)"/>
<circle cx="1463.9" cy="215.8" r="5.5" fill="#9a8e12" transform="translate(-0.25 -0.25)"/>
<path d="M1463.9 215.8L1481.9 181.7L1510.2 169.6L1518.1 153.6" stroke="#d9c918" stroke-width="9.4" stroke-linejoin="round" fill="none" transform="translate(-0.8 -0.8)"/>
<circle cx="1463.9" cy="215.8" r="4.7" fill="#d9c918" transform="translate(-0.8 -0.8)"/>
<path d="M1463.9 215.8L1481.9 181.7L1510.2 169.6L1518.1 153.6" stroke="#f4e31c" stroke-width="7.6" stroke-linejoin="round" fill="none" transform="translate(-1.5 -1.5)"/>
<circle cx="1463.9" cy="215.8" r="3.8" fill="#f4e31c" transform="translate(-1.5 -1.5)"/>
<path d="M1463.9 215.8L1481.9 181.7L1510.2 169.6L1518.1 153.6" stroke="#fffdc8" stroke-width="1.3" stroke-linejoin="round" stroke-linecap="round" fill="none" transform="translate(-2.4 -2.4)" opacity="0.5"/>
<path d="M1471.3 239.6L1451.4 276.8L1406.5 294.0" stroke="#3e3a02" stroke-width="12.2" stroke-linejoin="round" fill="none"/>
<circle cx="1471.3" cy="239.6" r="6.1" fill="#3e3a02"/>
<circle cx="1406.5" cy="294.0" r="6.1" fill="#3e3a02"/>
<path d="M1471.3 239.6L1451.4 276.8L1406.5 294.0" stroke="#9a8e12" stroke-width="11.0" stroke-linejoin="round" fill="none" transform="translate(-0.25 -0.25)"/>
<circle cx="1471.3" cy="239.6" r="5.5" fill="#9a8e12" transform="translate(-0.25 -0.25)"/>
<circle cx="1406.5" cy="294.0" r="5.5" fill="#9a8e12" transform="translate(-0.25 -0.25)"/>
<path d="M1471.3 239.6L1451.4 276.8L1406.5 294.0" stroke="#d9c918" stroke-width="9.4" stroke-linejoin="round" fill="none" transform="translate(-0.8 -0.8)"/>
<circle cx="1471.3" cy="239.6" r="4.7" fill="#d9c918" transform="translate(-0.8 -0.8)"/>
<circle cx="1406.5" cy="294.0" r="4.7" fill="#d9c918" transform="translate(-0.8 -0.8)"/>
<path d="M1471.3 239.6L1451.4 276.8L1406.5 294.0" stroke="#f4e31c" stroke-width="7.6" stroke-linejoin="round" fill="none" transform="translate(-1.5 -1.5)"/>
<circle cx="1471.3" cy="239.6" r="3.8" fill="#f4e31c" transform="translate(-1.5 -1.5)"/>
<circle cx="1406.5" cy="294.0" r="3.8" fill="#f4e31c" transform="translate(-1.5 -1.5)"/>
<path d="M1471.3 239.6L1451.4 276.8L1406.5 294.0" stroke="#fffdc8" stroke-width="1.3" stroke-linejoin="round" stroke-linecap="round" fill="none" transform="translate(-2.4 -2.4)" opacity="0.5"/>
<path d="M1537.2 179.1L1608.5 224.4L1615.1 245.6" stroke="#3e3a02" stroke-width="12.2" stroke-linejoin="round" fill="none"/>
<circle cx="1537.2" cy="179.1" r="6.1" fill="#3e3a02"/>
<path d="M1537.2 179.1L1608.5 224.4L1615.1 245.6" stroke="#9a8e12" stroke-width="11.0" stroke-linejoin="round" fill="none" transform="translate(-0.25 -0.25)"/>
<circle cx="1537.2" cy="179.1" r="5.5" fill="#9a8e12" transform="translate(-0.25 -0.25)"/>
<path d="M1537.2 179.1L1608.5 224.4L1615.1 245.6" stroke="#d9c918" stroke-width="9.4" stroke-linejoin="round" fill="none" transform="translate(-0.8 -0.8)"/>
<circle cx="1537.2" cy="179.1" r="4.7" fill="#d9c918" transform="translate(-0.8 -0.8)"/>
<path d="M1537.2 179.1L1608.5 224.4L1615.1 245.6" stroke="#f4e31c" stroke-width="7.6" stroke-linejoin="round" fill="none" transform="translate(-1.5 -1.5)"/>
<circle cx="1537.2" cy="179.1" r="3.8" fill="#f4e31c" transform="translate(-1.5 -1.5)"/>
<path d="M1537.2 179.1L1608.5 224.4L1615.1 245.6" stroke="#fffdc8" stroke-width="1.3" stroke-linejoin="round" stroke-linecap="round" fill="none" transform="translate(-2.4 -2.4)" opacity="0.5"/>
<path d="M1615.1 245.6L1620.4 262.9" stroke="#480a04" stroke-width="12.2" stroke-linejoin="round" fill="none"/>
<circle cx="1620.4" cy="262.9" r="6.1" fill="#480a04"/>
<path d="M1615.1 245.6L1620.4 262.9" stroke="#981c10" stroke-width="11.0" stroke-linejoin="round" fill="none" transform="translate(-0.25 -0.25)"/>
<circle cx="1620.4" cy="262.9" r="5.5" fill="#981c10" transform="translate(-0.25 -0.25)"/>
<path d="M1615.1 245.6L1620.4 262.9" stroke="#c42618" stroke-width="9.4" stroke-linejoin="round" fill="none" transform="translate(-0.8 -0.8)"/>
<circle cx="1620.4" cy="262.9" r="4.7" fill="#c42618" transform="translate(-0.8 -0.8)"/>
<path d="M1615.1 245.6L1620.4 262.9" stroke="#dc2a1c" stroke-width="7.6" stroke-linejoin="round" fill="none" transform="translate(-1.5 -1.5)"/>
<circle cx="1620.4" cy="262.9" r="3.8" fill="#dc2a1c" transform="translate(-1.5 -1.5)"/>
<path d="M1615.1 245.6L1620.4 262.9" stroke="#ffa595" stroke-width="1.3" stroke-linejoin="round" stroke-linecap="round" fill="none" transform="translate(-2.4 -2.4)" opacity="0.5"/>
<path d="M1539.4 134.5L1545.3 139.0L1544.6 153.2L1540.6 170.5L1535.4 189.5L1529.4 204.7L1520.4 203.3L1525.9 179.1L1530.8 158.4L1534.6 139.4Z" fill="#f4e31c" stroke="#3e3a02" stroke-width="1.2" stroke-linejoin="round"/>
<path d="M1545.3 139.0L1544.6 153.2L1540.6 170.5L1535.4 189.5L1529.4 204.7L1525.9 204.2L1532.8 186.0L1538.4 168.8L1541.5 153.2L1542.3 138.5Z" fill="#9a8e12"/>
<path d="M1538.4 140.2L1533.9 167.0L1527.6 192.9" stroke="#fffdc8" stroke-width="1.6" fill="none" stroke-linecap="round" stroke-linejoin="round" opacity="0.8"/>
<path d="M1617.5 348.1L1656.4 344.0L1689.2 378.0" stroke="#4a0c06" stroke-width="12.6" stroke-linejoin="round" fill="none"/>
<circle cx="1617.5" cy="348.1" r="6.3" fill="#4a0c06"/>
<circle cx="1689.2" cy="378.0" r="6.3" fill="#4a0c06"/>
<path d="M1617.5 348.1L1656.4 344.0L1689.2 378.0" stroke="#9c1e12" stroke-width="11.4" stroke-linejoin="round" fill="none" transform="translate(-0.25 -0.25)"/>
<circle cx="1617.5" cy="348.1" r="5.7" fill="#9c1e12" transform="translate(-0.25 -0.25)"/>
<circle cx="1689.2" cy="378.0" r="5.7" fill="#9c1e12" transform="translate(-0.25 -0.25)"/>
<path d="M1617.5 348.1L1656.4 344.0L1689.2 378.0" stroke="#c8281a" stroke-width="9.8" stroke-linejoin="round" fill="none" transform="translate(-0.8 -0.8)"/>
<circle cx="1617.5" cy="348.1" r="4.9" fill="#c8281a" transform="translate(-0.8 -0.8)"/>
<circle cx="1689.2" cy="378.0" r="4.9" fill="#c8281a" transform="translate(-0.8 -0.8)"/>
<path d="M1617.5 348.1L1656.4 344.0L1689.2 378.0" stroke="#de2d1e" stroke-width="8.0" stroke-linejoin="round" fill="none" transform="translate(-1.5 -1.5)"/>
<circle cx="1617.5" cy="348.1" r="4.0" fill="#de2d1e" transform="translate(-1.5 -1.5)"/>
<circle cx="1689.2" cy="378.0" r="4.0" fill="#de2d1e" transform="translate(-1.5 -1.5)"/>
<path d="M1617.5 348.1L1656.4 344.0L1689.2 378.0" stroke="#ffb0a2" stroke-width="1.4" stroke-linejoin="round" stroke-linecap="round" fill="none" transform="translate(-2.5 -2.5)" opacity="0.2"/>
<path d="M1719.8 368.8L1719.8 406.5" stroke="#380a06" stroke-width="12.8" stroke-linejoin="round" fill="none"/>
<circle cx="1719.8" cy="368.8" r="6.4" fill="#380a06"/>
<circle cx="1719.8" cy="406.5" r="6.4" fill="#380a06"/>
<path d="M1719.8 368.8L1719.8 406.5" stroke="#721a14" stroke-width="11.6" stroke-linejoin="round" fill="none" transform="translate(-0.25 -0.25)"/>
<circle cx="1719.8" cy="368.8" r="5.8" fill="#721a14" transform="translate(-0.25 -0.25)"/>
<circle cx="1719.8" cy="406.5" r="5.8" fill="#721a14" transform="translate(-0.25 -0.25)"/>
<path d="M1719.8 368.8L1719.8 406.5" stroke="#94241c" stroke-width="10.0" stroke-linejoin="round" fill="none" transform="translate(-0.8 -0.8)"/>
<circle cx="1719.8" cy="368.8" r="5.0" fill="#94241c" transform="translate(-0.8 -0.8)"/>
<circle cx="1719.8" cy="406.5" r="5.0" fill="#94241c" transform="translate(-0.8 -0.8)"/>
<path d="M1719.8 368.8L1719.8 406.5" stroke="#a82a22" stroke-width="8.2" stroke-linejoin="round" fill="none" transform="translate(-1.5 -1.5)"/>
<circle cx="1719.8" cy="368.8" r="4.1" fill="#a82a22" transform="translate(-1.5 -1.5)"/>
<circle cx="1719.8" cy="406.5" r="4.1" fill="#a82a22" transform="translate(-1.5 -1.5)"/>
<path d="M1719.8 368.8L1719.8 406.5" stroke="#e08078" stroke-width="1.4" stroke-linejoin="round" stroke-linecap="round" fill="none" transform="translate(-2.6 -2.6)" opacity="0.5"/>
<path d="M1700.6 360.7L1681.4 352.6" stroke="#4a0c06" stroke-width="12.2" stroke-linejoin="round" fill="none"/>
<circle cx="1681.4" cy="352.6" r="6.1" fill="#4a0c06"/>
<path d="M1700.6 360.7L1681.4 352.6" stroke="#9c1e12" stroke-width="11.0" stroke-linejoin="round" fill="none" transform="translate(-0.25 -0.25)"/>
<circle cx="1681.4" cy="352.6" r="5.5" fill="#9c1e12" transform="translate(-0.25 -0.25)"/>
<path d="M1700.6 360.7L1681.4 352.6" stroke="#c8281a" stroke-width="9.4" stroke-linejoin="round" fill="none" transform="translate(-0.8 -0.8)"/>
<circle cx="1681.4" cy="352.6" r="4.7" fill="#c8281a" transform="translate(-0.8 -0.8)"/>
<path d="M1700.6 360.7L1681.4 352.6" stroke="#de2d1e" stroke-width="7.6" stroke-linejoin="round" fill="none" transform="translate(-1.5 -1.5)"/>
<circle cx="1681.4" cy="352.6" r="3.8" fill="#de2d1e" transform="translate(-1.5 -1.5)"/>
<path d="M1700.6 360.7L1681.4 352.6" stroke="#ffb0a2" stroke-width="1.3" stroke-linejoin="round" stroke-linecap="round" fill="none" transform="translate(-2.4 -2.4)" opacity="0.5"/>
<path d="M1719.8 368.8L1700.6 360.7" stroke="#4a0c06" stroke-width="12.2" stroke-linejoin="round" fill="none"/>
<circle cx="1719.8" cy="368.8" r="6.1" fill="#4a0c06"/>
<path d="M1719.8 368.8L1700.6 360.7" stroke="#9c1e12" stroke-width="11.0" stroke-linejoin="round" fill="none" transform="translate(-0.25 -0.25)"/>
<circle cx="1719.8" cy="368.8" r="5.5" fill="#9c1e12" transform="translate(-0.25 -0.25)"/>
<path d="M1719.8 368.8L1700.6 360.7" stroke="#c8281a" stroke-width="9.4" stroke-linejoin="round" fill="none" transform="translate(-0.8 -0.8)"/>
<circle cx="1719.8" cy="368.8" r="4.7" fill="#c8281a" transform="translate(-0.8 -0.8)"/>
<path d="M1719.8 368.8L1700.6 360.7" stroke="#de2d1e" stroke-width="7.6" stroke-linejoin="round" fill="none" transform="translate(-1.5 -1.5)"/>
<circle cx="1719.8" cy="368.8" r="3.8" fill="#de2d1e" transform="translate(-1.5 -1.5)"/>
<path d="M1719.8 368.8L1700.6 360.7" stroke="#ffb0a2" stroke-width="1.3" stroke-linejoin="round" stroke-linecap="round" fill="none" transform="translate(-2.4 -2.4)" opacity="0.5"/>
<path d="M1772.2 242.2L1739.3 261.7L1709.1 234.1L1678.0 248.6" stroke="#64222a" stroke-width="12.2" stroke-linejoin="round" fill="none"/>
<circle cx="1772.2" cy="242.2" r="6.1" fill="#64222a"/>
<circle cx="1678.0" cy="248.6" r="6.1" fill="#64222a"/>
<path d="M1772.2 242.2L1739.3 261.7L1709.1 234.1L1678.0 248.6" stroke="#b04042" stroke-width="11.0" stroke-linejoin="round" fill="none" transform="translate(-0.25 -0.25)"/>
<circle cx="1772.2" cy="242.2" r="5.5" fill="#b04042" transform="translate(-0.25 -0.25)"/>
<circle cx="1678.0" cy="248.6" r="5.5" fill="#b04042" transform="translate(-0.25 -0.25)"/>
<path d="M1772.2 242.2L1739.3 261.7L1709.1 234.1L1678.0 248.6" stroke="#d05052" stroke-width="9.4" stroke-linejoin="round" fill="none" transform="translate(-0.8 -0.8)"/>
<circle cx="1772.2" cy="242.2" r="4.7" fill="#d05052" transform="translate(-0.8 -0.8)"/>
<circle cx="1678.0" cy="248.6" r="4.7" fill="#d05052" transform="translate(-0.8 -0.8)"/>
<path d="M1772.2 242.2L1739.3 261.7L1709.1 234.1L1678.0 248.6" stroke="#e5595a" stroke-width="7.6" stroke-linejoin="round" fill="none" transform="translate(-1.5 -1.5)"/>
<circle cx="1772.2" cy="242.2" r="3.8" fill="#e5595a" transform="translate(-1.5 -1.5)"/>
<circle cx="1678.0" cy="248.6" r="3.8" fill="#e5595a" transform="translate(-1.5 -1.5)"/>
<path d="M1772.2 242.2L1739.3 261.7L1709.1 234.1L1678.0 248.6" stroke="#ffc0c0" stroke-width="1.3" stroke-linejoin="round" stroke-linecap="round" fill="none" transform="translate(-2.4 -2.4)" opacity="0.5"/>
<circle cx="1684.6" cy="248.2" r="6.3" fill="#12143e"/>
<circle cx="1684.2" cy="247.8" r="5.4" fill="#4652b4"/>
<circle cx="1685.2" cy="246.6" r="1.9" fill="#c0c8f8"/>
<path d="M1787.5 243.1L1784.5 272.4" stroke="#380a06" stroke-width="12.8" stroke-linejoin="round" fill="none"/>
<circle cx="1787.5" cy="243.1" r="6.4" fill="#380a06"/>
<circle cx="1784.5" cy="272.4" r="6.4" fill="#380a06"/>
<path d="M1787.5 243.1L1784.5 272.4" stroke="#721a14" stroke-width="11.6" stroke-linejoin="round" fill="none" transform="translate(-0.25 -0.25)"/>
<circle cx="1787.5" cy="243.1" r="5.8" fill="#721a14" transform="translate(-0.25 -0.25)"/>
<circle cx="1784.5" cy="272.4" r="5.8" fill="#721a14" transform="translate(-0.25 -0.25)"/>
<path d="M1787.5 243.1L1784.5 272.4" stroke="#94241c" stroke-width="10.0" stroke-linejoin="round" fill="none" transform="translate(-0.8 -0.8)"/>
<circle cx="1787.5" cy="243.1" r="5.0" fill="#94241c" transform="translate(-0.8 -0.8)"/>
<circle cx="1784.5" cy="272.4" r="5.0" fill="#94241c" transform="translate(-0.8 -0.8)"/>
<path d="M1787.5 243.1L1784.5 272.4" stroke="#a82a22" stroke-width="8.2" stroke-linejoin="round" fill="none" transform="translate(-1.5 -1.5)"/>
<circle cx="1787.5" cy="243.1" r="4.1" fill="#a82a22" transform="translate(-1.5 -1.5)"/>
<circle cx="1784.5" cy="272.4" r="4.1" fill="#a82a22" transform="translate(-1.5 -1.5)"/>
<path d="M1787.5 243.1L1784.5 272.4" stroke="#e08078" stroke-width="1.4" stroke-linejoin="round" stroke-linecap="round" fill="none" transform="translate(-2.6 -2.6)" opacity="0.5"/>
<path d="M1769.6 234.6L1751.7 226.1" stroke="#4a0c06" stroke-width="12.2" stroke-linejoin="round" fill="none"/>
<circle cx="1751.7" cy="226.1" r="6.1" fill="#4a0c06"/>
<path d="M1769.6 234.6L1751.7 226.1" stroke="#9c1e12" stroke-width="11.0" stroke-linejoin="round" fill="none" transform="translate(-0.25 -0.25)"/>
<circle cx="1751.7" cy="226.1" r="5.5" fill="#9c1e12" transform="translate(-0.25 -0.25)"/>
<path d="M1769.6 234.6L1751.7 226.1" stroke="#c8281a" stroke-width="9.4" stroke-linejoin="round" fill="none" transform="translate(-0.8 -0.8)"/>
<circle cx="1751.7" cy="226.1" r="4.7" fill="#c8281a" transform="translate(-0.8 -0.8)"/>
<path d="M1769.6 234.6L1751.7 226.1" stroke="#de2d1e" stroke-width="7.6" stroke-linejoin="round" fill="none" transform="translate(-1.5 -1.5)"/>
<circle cx="1751.7" cy="226.1" r="3.8" fill="#de2d1e" transform="translate(-1.5 -1.5)"/>
<path d="M1769.6 234.6L1751.7 226.1" stroke="#ffb0a2" stroke-width="1.3" stroke-linejoin="round" stroke-linecap="round" fill="none" transform="translate(-2.4 -2.4)" opacity="0.5"/>
<path d="M1769.6 234.6L1787.5 243.1L1820.0 213.2" stroke="#4a0c06" stroke-width="12.2" stroke-linejoin="round" fill="none"/>
<circle cx="1820.0" cy="213.2" r="6.1" fill="#4a0c06"/>
<path d="M1769.6 234.6L1787.5 243.1L1820.0 213.2" stroke="#9c1e12" stroke-width="11.0" stroke-linejoin="round" fill="none" transform="translate(-0.25 -0.25)"/>
<circle cx="1820.0" cy="213.2" r="5.5" fill="#9c1e12" transform="translate(-0.25 -0.25)"/>
<path d="M1769.6 234.6L1787.5 243.1L1820.0 213.2" stroke="#c8281a" stroke-width="9.4" stroke-linejoin="round" fill="none" transform="translate(-0.8 -0.8)"/>
<circle cx="1820.0" cy="213.2" r="4.7" fill="#c8281a" transform="translate(-0.8 -0.8)"/>
<path d="M1769.6 234.6L1787.5 243.1L1820.0 213.2" stroke="#de2d1e" stroke-width="7.6" stroke-linejoin="round" fill="none" transform="translate(-1.5 -1.5)"/>
<circle cx="1820.0" cy="213.2" r="3.8" fill="#de2d1e" transform="translate(-1.5 -1.5)"/>
<path d="M1769.6 234.6L1787.5 243.1L1820.0 213.2" stroke="#ffb0a2" stroke-width="1.3" stroke-linejoin="round" stroke-linecap="round" fill="none" transform="translate(-2.4 -2.4)" opacity="0.5"/>
<defs><linearGradient id="rgb" gradientUnits="userSpaceOnUse" x1="1927" y1="285" x2="1957" y2="309"><stop offset="0" stop-color="#f2ea00"/><stop offset="0.14" stop-color="#eae200"/><stop offset="0.34" stop-color="#a8a820"/><stop offset="0.62" stop-color="#858520"/><stop offset="1" stop-color="#504a10"/></linearGradient></defs>
<path d="M1910.2 315.7L1911.6 313.3L1913.6 309.8L1916.0 305.8L1918.4 302.0L1920.9 298.2L1923.7 294.2L1926.5 290.4L1929.3 286.9L1932.0 283.9L1934.7 281.3L1937.5 278.9L1940.3 276.6L1943.1 274.4L1946.0 272.2L1948.9 270.3L1952.0 268.4L1955.3 266.6L1958.7 265.0L1962.2 263.5L1965.7 262.2L1969.3 261.2L1972.9 260.4L1976.4 259.7L1979.4 259.1L1982.0 258.6L1984.4 258.2L1986.3 257.8L1987.6 257.6L1989.0 272.0L1987.6 272.3L1985.6 272.8L1983.4 273.5L1981.4 274.5L1979.7 275.8L1978.1 277.2L1976.4 279.1L1974.6 281.4L1972.6 284.2L1970.4 287.4L1968.1 291.0L1965.7 295.1L1963.2 299.8L1960.6 305.0L1958.0 310.4L1955.4 315.7L1952.7 321.2L1950.0 326.8L1947.4 332.1L1945.1 336.2L1943.0 338.9L1941.1 340.7L1939.4 341.8L1938.3 342.6L1933.5 342.4L1921.1 331.4L1910.2 317.7Z" fill="url(#rgb)"/>
<path d="M1910.2 315.7L1921.1 322.8L1933.5 334.4L1939.2 342.6L1933.5 342.6L1921.1 331.6L1909.8 318.0Z" fill="#3c3810"/>
<ellipse cx="1986.8" cy="265.6" rx="8.2" ry="7.6" transform="rotate(-25 1986.8 265.6)" fill="#8a8520"/>
<path d="M1811.6 168.9L1800.6 160.0" stroke="#12143e" stroke-width="12.2" stroke-linejoin="round" fill="none"/>
<circle cx="1800.6" cy="160.0" r="6.1" fill="#12143e"/>
<path d="M1811.6 168.9L1800.6 160.0" stroke="#2b3384" stroke-width="11.0" stroke-linejoin="round" fill="none" transform="translate(-0.25 -0.25)"/>
<circle cx="1800.6" cy="160.0" r="5.5" fill="#2b3384" transform="translate(-0.25 -0.25)"/>
<path d="M1811.6 168.9L1800.6 160.0" stroke="#3c47a4" stroke-width="9.4" stroke-linejoin="round" fill="none" transform="translate(-0.8 -0.8)"/>
<circle cx="1800.6" cy="160.0" r="4.7" fill="#3c47a4" transform="translate(-0.8 -0.8)"/>
<path d="M1811.6 168.9L1800.6 160.0" stroke="#4652b4" stroke-width="7.6" stroke-linejoin="round" fill="none" transform="translate(-1.5 -1.5)"/>
<circle cx="1800.6" cy="160.0" r="3.8" fill="#4652b4" transform="translate(-1.5 -1.5)"/>
<path d="M1811.6 168.9L1800.6 160.0" stroke="#c0c8f8" stroke-width="1.3" stroke-linejoin="round" stroke-linecap="round" fill="none" transform="translate(-2.4 -2.4)" opacity="0.5"/>
<path d="M1939.5 275.5L1911.9 246.3L1872.3 258.6L1840.6 226.8L1840.6 221.0" stroke="#3e3a02" stroke-width="12.2" stroke-linejoin="round" fill="none"/>
<path d="M1939.5 275.5L1911.9 246.3L1872.3 258.6L1840.6 226.8L1840.6 221.0" stroke="#9a8e12" stroke-width="11.0" stroke-linejoin="round" fill="none" transform="translate(-0.25 -0.25)"/>
<path d="M1939.5 275.5L1911.9 246.3L1872.3 258.6L1840.6 226.8L1840.6 221.0" stroke="#d9c918" stroke-width="9.4" stroke-linejoin="round" fill="none" transform="translate(-0.8 -0.8)"/>
<path d="M1939.5 275.5L1911.9 246.3L1872.3 258.6L1840.6 226.8L1840.6 221.0" stroke="#f4e31c" stroke-width="7.6" stroke-linejoin="round" fill="none" transform="translate(-1.5 -1.5)"/>
<path d="M1939.5 275.5L1911.9 246.3L1872.3 258.6L1840.6 226.8L1840.6 221.0" stroke="#fffdc8" stroke-width="1.3" stroke-linejoin="round" stroke-linecap="round" fill="none" transform="translate(-2.4 -2.4)" opacity="0.5"/>
<path d="M1840.6 222.0L1840.6 211.5L1834.5 202.3" stroke="#12143e" stroke-width="12.2" stroke-linejoin="round" fill="none"/>
<path d="M1840.6 222.0L1840.6 211.5L1834.5 202.3" stroke="#2b3384" stroke-width="11.0" stroke-linejoin="round" fill="none" transform="translate(-0.25 -0.25)"/>
<path d="M1840.6 222.0L1840.6 211.5L1834.5 202.3" stroke="#3c47a4" stroke-width="9.4" stroke-linejoin="round" fill="none" transform="translate(-0.8 -0.8)"/>
<path d="M1840.6 222.0L1840.6 211.5L1834.5 202.3" stroke="#4652b4" stroke-width="7.6" stroke-linejoin="round" fill="none" transform="translate(-1.5 -1.5)"/>
<path d="M1840.6 222.0L1840.6 211.5L1834.5 202.3" stroke="#c0c8f8" stroke-width="1.3" stroke-linejoin="round" stroke-linecap="round" fill="none" transform="translate(-2.4 -2.4)" opacity="0.5"/>
<path d="M1834.5 202.3L1830.2 195.3L1822.1 180.5L1811.6 168.9" stroke="#3e3a02" stroke-width="12.2" stroke-linejoin="round" fill="none"/>
<path d="M1834.5 202.3L1830.2 195.3L1822.1 180.5L1811.6 168.9" stroke="#9a8e12" stroke-width="11.0" stroke-linejoin="round" fill="none" transform="translate(-0.25 -0.25)"/>
<path d="M1834.5 202.3L1830.2 195.3L1822.1 180.5L1811.6 168.9" stroke="#d9c918" stroke-width="9.4" stroke-linejoin="round" fill="none" transform="translate(-0.8 -0.8)"/>
<path d="M1834.5 202.3L1830.2 195.3L1822.1 180.5L1811.6 168.9" stroke="#f4e31c" stroke-width="7.6" stroke-linejoin="round" fill="none" transform="translate(-1.5 -1.5)"/>
<path d="M1834.5 202.3L1830.2 195.3L1822.1 180.5L1811.6 168.9" stroke="#fffdc8" stroke-width="1.3" stroke-linejoin="round" stroke-linecap="round" fill="none" transform="translate(-2.4 -2.4)" opacity="0.5"/>
<path d="M1840.6 221.0L1840.6 213.0" stroke="#12143e" stroke-width="12.2" stroke-linejoin="round" fill="none"/>
<path d="M1840.6 221.0L1840.6 213.0" stroke="#2b3384" stroke-width="11.0" stroke-linejoin="round" fill="none" transform="translate(-0.25 -0.25)"/>
<path d="M1840.6 221.0L1840.6 213.0" stroke="#3c47a4" stroke-width="9.4" stroke-linejoin="round" fill="none" transform="translate(-0.8 -0.8)"/>
<path d="M1840.6 221.0L1840.6 213.0" stroke="#4652b4" stroke-width="7.6" stroke-linejoin="round" fill="none" transform="translate(-1.5 -1.5)"/>
<path d="M1834.5 202.3L1830.2 195.3" stroke="#12143e" stroke-width="12.2" stroke-linejoin="round" fill="none"/>
<path d="M1834.5 202.3L1830.2 195.3" stroke="#2b3384" stroke-width="11.0" stroke-linejoin="round" fill="none" transform="translate(-0.25 -0.25)"/>
<path d="M1834.5 202.3L1830.2 195.3" stroke="#3c47a4" stroke-width="9.4" stroke-linejoin="round" fill="none" transform="translate(-0.8 -0.8)"/>
<path d="M1834.5 202.3L1830.2 195.3" stroke="#4652b4" stroke-width="7.6" stroke-linejoin="round" fill="none" transform="translate(-1.5 -1.5)"/>
<path d="M1834.5 202.3L1830.2 195.3" stroke="#c0c8f8" stroke-width="1.3" stroke-linejoin="round" stroke-linecap="round" fill="none" transform="translate(-2.4 -2.4)" opacity="0.5"/>
<path d="M1822.5 179.4L1822.5 165.2" stroke="#12143e" stroke-width="12.2" stroke-linejoin="round" fill="none"/>
<circle cx="1822.5" cy="165.2" r="6.1" fill="#12143e"/>
<path d="M1822.5 179.4L1822.5 165.2" stroke="#2b3384" stroke-width="11.0" stroke-linejoin="round" fill="none" transform="translate(-0.25 -0.25)"/>
<circle cx="1822.5" cy="165.2" r="5.5" fill="#2b3384" transform="translate(-0.25 -0.25)"/>
<path d="M1822.5 179.4L1822.5 165.2" stroke="#3c47a4" stroke-width="9.4" stroke-linejoin="round" fill="none" transform="translate(-0.8 -0.8)"/>
<circle cx="1822.5" cy="165.2" r="4.7" fill="#3c47a4" transform="translate(-0.8 -0.8)"/>
<path d="M1822.5 179.4L1822.5 165.2" stroke="#4652b4" stroke-width="7.6" stroke-linejoin="round" fill="none" transform="translate(-1.5 -1.5)"/>
<circle cx="1822.5" cy="165.2" r="3.8" fill="#4652b4" transform="translate(-1.5 -1.5)"/>
<path d="M1822.5 179.4L1822.5 165.2" stroke="#c0c8f8" stroke-width="1.3" stroke-linejoin="round" stroke-linecap="round" fill="none" transform="translate(-2.4 -2.4)" opacity="0.5"/>
<g font-size="19.2">
<rect x="1375.3" y="188.7" width="56.9" height="22.8" fill="#fff" opacity="0.78"/>
<text x="1380.3" y="206.7">N106</text>
<rect x="1545.3" y="141.5" width="55.8" height="22.8" fill="#fff" opacity="0.78"/>
<text x="1550.3" y="159.5">S130</text>
<rect x="1349.3" y="281.5" width="55.8" height="22.8" fill="#fff" opacity="0.78"/>
<text x="1354.3" y="299.5">Y105</text>
<rect x="1451.3" y="287.2" width="56.9" height="22.8" fill="#fff" opacity="0.78"/>
<text x="1456.3" y="305.2">N132</text>
<rect x="1300.6" y="340.7" width="56.9" height="22.8" fill="#fff" opacity="0.78"/>
<text x="1305.6" y="358.7">N104</text>
<rect x="1624.3" y="279.9" width="45.2" height="22.8" fill="#fff" opacity="0.78"/>
<text x="1629.3" y="297.9">K73</text>
<rect x="1749.5" y="183.0" width="55.8" height="22.8" fill="#fff" opacity="0.78"/>
<text x="1754.5" y="201.0">K234</text>
<rect x="1724.4" y="280.3" width="54.7" height="22.8" fill="#fff" opacity="0.78"/>
<text x="1729.4" y="298.3">T235</text>
<rect x="1873.0" y="281.0" width="56.9" height="22.8" fill="#fff" opacity="0.78"/>
<text x="1878.0" y="299.0">R276</text>
<rect x="1760.8" y="330.6" width="56.9" height="22.8" fill="#fff" opacity="0.78"/>
<text x="1765.8" y="348.6">G236</text>
<rect x="1635.5" y="395.7" width="45.2" height="22.8" fill="#fff" opacity="0.78"/>
<text x="1640.5" y="413.7">S70</text>
<rect x="1734.0" y="397.5" width="55.8" height="22.8" fill="#fff" opacity="0.78"/>
<text x="1739.0" y="415.5">S237</text>
<rect x="1701.3" y="469.1" width="56.9" height="22.8" fill="#fff" opacity="0.78"/>
<text x="1706.3" y="487.1">G238</text>
<rect x="1698.1" y="512.0" width="56.9" height="22.8" fill="#fff" opacity="0.78"/>
<text x="1703.1" y="530.0">D240</text>
<rect x="1461.7" y="490.3" width="55.8" height="22.8" fill="#fff" opacity="0.78"/>
<text x="1466.7" y="508.3">E166</text>
<rect x="1360.6" y="557.6" width="55.8" height="22.8" fill="#fff" opacity="0.78"/>
<text x="1365.6" y="575.6">P167</text>
<rect x="1501.4" y="562.8" width="56.9" height="22.8" fill="#fff" opacity="0.78"/>
<text x="1506.4" y="580.8">N170</text>
</g>
</g>
<g id="mol-c" stroke-linecap="butt" transform="translate(-14.34 1578) scale(1.0088 1.00897)">
<path d="M1406.5 284.5L1413.4 283.0L1423.3 280.9L1433.9 278.4L1442.8 275.9L1449.8 273.2L1455.9 270.3L1461.1 267.6L1465.3 265.5L1467.8 264.1L1468.9 263.0L1469.8 262.6L1471.3 262.9L1474.4 264.2L1478.3 266.4L1481.8 269.0L1483.4 271.6L1482.8 274.1L1480.7 276.8L1477.6 279.6L1473.9 282.8L1469.5 286.5L1464.2 290.5L1458.6 294.6L1453.2 298.4L1448.0 301.8L1442.8 305.0L1437.6 307.9L1432.4 310.4L1427.2 312.5L1421.8 314.3L1416.6 315.6L1411.7 316.5L1406.9 317.0L1402.1 317.1L1397.8 316.7L1394.4 315.6L1392.1 313.8L1390.6 311.4L1389.8 308.4L1389.2 305.3L1388.9 301.5L1388.8 297.2L1389.4 293.0L1391.0 289.7L1394.2 287.6L1398.8 286.1L1403.4 285.2L1406.5 284.5Z" fill="#a82a22"/>
<path d="M1463.5 269.8L1475.6 273.3" stroke="#de2d1e" stroke-width="2.2" fill="none" stroke-linecap="round" stroke-linejoin="round" opacity="0.8"/>
<path d="M1670.2 295.9L1667.5 297.3L1663.6 299.3L1659.4 301.7L1655.5 304.6L1652.2 307.9L1649.1 311.7L1646.1 315.8L1643.4 320.1L1640.9 324.6L1638.5 329.3L1636.5 334.2L1634.8 339.1L1633.5 344.2L1632.5 349.4L1631.9 354.6L1631.7 359.9L1631.9 365.2L1632.5 370.7L1633.5 375.9L1634.8 380.6L1636.8 384.8L1639.3 388.6L1641.7 391.8L1643.4 394.1L1650.3 391.8L1654.7 382.3L1654.0 379.6L1653.1 375.7L1652.3 371.3L1652.1 366.8L1652.3 362.2L1653.0 357.4L1654.0 352.5L1655.5 347.8L1657.5 343.2L1660.1 338.7L1662.9 334.4L1665.9 330.5L1669.1 327.0L1672.5 323.7L1676.1 320.9L1679.7 318.4L1683.7 316.3L1687.9 314.6L1691.7 313.3L1694.4 312.3L1694.4 312.3L1692.9 310.3L1690.8 307.3L1688.4 304.6L1685.7 302.3L1682.8 300.2L1679.7 298.5L1676.3 297.3L1672.7 296.5L1670.2 295.9Z" fill="#f2767b" stroke="#d8585e" stroke-width="1.2" stroke-linejoin="round"/>
<path d="M1679.7 309.7L1676.8 312.1L1672.6 315.5L1668.0 319.4L1664.2 323.6L1661.1 327.9L1658.2 332.6L1655.8 337.6L1653.8 342.6L1652.3 347.7L1651.2 353.1L1650.4 358.3L1650.0 363.3L1650.0 368.3L1650.4 373.2L1650.9 377.6L1651.2 380.6" stroke="#ffc8c8" stroke-width="2.2" fill="none" stroke-linecap="round" stroke-linejoin="round"/>
<path d="M1643.4 394.1L1650.7 391.7L1654.8 382.3L1650.3 380.6L1644.3 384.9Z" fill="#d9676c"/>
<path d="M1646.9 330.5L1624.1 307.7L1599.9 328.8L1591.6 303.7" stroke="#6c2830" stroke-width="12.8" stroke-linejoin="round" fill="none"/>
<circle cx="1591.6" cy="303.7" r="6.4" fill="#6c2830"/>
<path d="M1646.9 330.5L1624.1 307.7L1599.9 328.8L1591.6 303.7" stroke="#b8464a" stroke-width="11.6" stroke-linejoin="round" fill="none" transform="translate(-0.25 -0.25)"/>
<circle cx="1591.6" cy="303.7" r="5.8" fill="#b8464a" transform="translate(-0.25 -0.25)"/>
<path d="M1646.9 330.5L1624.1 307.7L1599.9 328.8L1591.6 303.7" stroke="#d65458" stroke-width="10.0" stroke-linejoin="round" fill="none" transform="translate(-0.8 -0.8)"/>
<circle cx="1591.6" cy="303.7" r="5.0" fill="#d65458" transform="translate(-0.8 -0.8)"/>
<path d="M1646.9 330.5L1624.1 307.7L1599.9 328.8L1591.6 303.7" stroke="#ea5e62" stroke-width="8.2" stroke-linejoin="round" fill="none" transform="translate(-1.5 -1.5)"/>
<circle cx="1591.6" cy="303.7" r="4.1" fill="#ea5e62" transform="translate(-1.5 -1.5)"/>
<path d="M1646.9 330.5L1624.1 307.7L1599.9 328.8L1591.6 303.7" stroke="#ffc4c4" stroke-width="1.4" stroke-linejoin="round" stroke-linecap="round" fill="none" transform="translate(-2.6 -2.6)" opacity="0.25"/>
<path d="M1558.8 301.1L1593.3 294.5L1591.9 303.7L1567.7 327.9L1558.8 301.1" stroke="#4a0c06" stroke-width="13.2" stroke-linejoin="round" fill="none"/>
<circle cx="1558.8" cy="301.1" r="6.6" fill="#4a0c06"/>
<circle cx="1558.8" cy="301.1" r="6.6" fill="#4a0c06"/>
<path d="M1558.8 301.1L1593.3 294.5L1591.9 303.7L1567.7 327.9L1558.8 301.1" stroke="#9c1e12" stroke-width="12.0" stroke-linejoin="round" fill="none" transform="translate(-0.25 -0.25)"/>
<circle cx="1558.8" cy="301.1" r="6.0" fill="#9c1e12" transform="translate(-0.25 -0.25)"/>
<circle cx="1558.8" cy="301.1" r="6.0" fill="#9c1e12" transform="translate(-0.25 -0.25)"/>
<path d="M1558.8 301.1L1593.3 294.5L1591.9 303.7L1567.7 327.9L1558.8 301.1" stroke="#c8281a" stroke-width="10.4" stroke-linejoin="round" fill="none" transform="translate(-0.8 -0.8)"/>
<circle cx="1558.8" cy="301.1" r="5.2" fill="#c8281a" transform="translate(-0.8 -0.8)"/>
<circle cx="1558.8" cy="301.1" r="5.2" fill="#c8281a" transform="translate(-0.8 -0.8)"/>
<path d="M1558.8 301.1L1593.3 294.5L1591.9 303.7L1567.7 327.9L1558.8 301.1" stroke="#de2d1e" stroke-width="8.6" stroke-linejoin="round" fill="none" transform="translate(-1.5 -1.5)"/>
<circle cx="1558.8" cy="301.1" r="4.3" fill="#de2d1e" transform="translate(-1.5 -1.5)"/>
<circle cx="1558.8" cy="301.1" r="4.3" fill="#de2d1e" transform="translate(-1.5 -1.5)"/>
<path d="M1558.8 301.1L1593.3 294.5L1591.9 303.7L1567.7 327.9L1558.8 301.1" stroke="#ffb0a2" stroke-width="1.5" stroke-linejoin="round" stroke-linecap="round" fill="none" transform="translate(-2.6 -2.6)" opacity="0.25"/>
<path d="M1558.8 321.8L1558.8 340.5" stroke="#12143e" stroke-width="12.2" stroke-linejoin="round" fill="none"/>
<circle cx="1558.8" cy="321.8" r="6.1" fill="#12143e"/>
<circle cx="1558.8" cy="340.5" r="6.1" fill="#12143e"/>
<path d="M1558.8 321.8L1558.8 340.5" stroke="#2b3384" stroke-width="11.0" stroke-linejoin="round" fill="none" transform="translate(-0.25 -0.25)"/>
<circle cx="1558.8" cy="321.8" r="5.5" fill="#2b3384" transform="translate(-0.25 -0.25)"/>
<circle cx="1558.8" cy="340.5" r="5.5" fill="#2b3384" transform="translate(-0.25 -0.25)"/>
<path d="M1558.8 321.8L1558.8 340.5" stroke="#3c47a4" stroke-width="9.4" stroke-linejoin="round" fill="none" transform="translate(-0.8 -0.8)"/>
<circle cx="1558.8" cy="321.8" r="4.7" fill="#3c47a4" transform="translate(-0.8 -0.8)"/>
<circle cx="1558.8" cy="340.5" r="4.7" fill="#3c47a4" transform="translate(-0.8 -0.8)"/>
<path d="M1558.8 321.8L1558.8 340.5" stroke="#4652b4" stroke-width="7.6" stroke-linejoin="round" fill="none" transform="translate(-1.5 -1.5)"/>
<circle cx="1558.8" cy="321.8" r="3.8" fill="#4652b4" transform="translate(-1.5 -1.5)"/>
<circle cx="1558.8" cy="340.5" r="3.8" fill="#4652b4" transform="translate(-1.5 -1.5)"/>
<path d="M1558.8 321.8L1558.8 340.5" stroke="#c0c8f8" stroke-width="1.3" stroke-linejoin="round" stroke-linecap="round" fill="none" transform="translate(-2.4 -2.4)" opacity="0.5"/>
<path d="M1558.4 321.8L1558.4 340.0" stroke="#c9d0fa" stroke-width="3.6" fill="none" stroke-linecap="round" stroke-linejoin="round"/>
<path d="M1557.0 307.2L1560.5 317.5" stroke="#12143e" stroke-width="11.0" stroke-linejoin="round" fill="none"/>
<circle cx="1557.0" cy="307.2" r="5.5" fill="#12143e"/>
<circle cx="1560.5" cy="317.5" r="5.5" fill="#12143e"/>
<path d="M1557.0 307.2L1560.5 317.5" stroke="#2b3384" stroke-width="9.8" stroke-linejoin="round" fill="none" transform="translate(-0.25 -0.25)"/>
<circle cx="1557.0" cy="307.2" r="4.9" fill="#2b3384" transform="translate(-0.25 -0.25)"/>
<circle cx="1560.5" cy="317.5" r="4.9" fill="#2b3384" transform="translate(-0.25 -0.25)"/>
<path d="M1557.0 307.2L1560.5 317.5" stroke="#3c47a4" stroke-width="8.2" stroke-linejoin="round" fill="none" transform="translate(-0.8 -0.8)"/>
<circle cx="1557.0" cy="307.2" r="4.1" fill="#3c47a4" transform="translate(-0.8 -0.8)"/>
<circle cx="1560.5" cy="317.5" r="4.1" fill="#3c47a4" transform="translate(-0.8 -0.8)"/>
<path d="M1557.0 307.2L1560.5 317.5" stroke="#4652b4" stroke-width="6.4" stroke-linejoin="round" fill="none" transform="translate(-1.5 -1.5)"/>
<circle cx="1557.0" cy="307.2" r="3.2" fill="#4652b4" transform="translate(-1.5 -1.5)"/>
<circle cx="1560.5" cy="317.5" r="3.2" fill="#4652b4" transform="translate(-1.5 -1.5)"/>
<path d="M1557.0 307.2L1560.5 317.5" stroke="#c0c8f8" stroke-width="1.2" stroke-linejoin="round" stroke-linecap="round" fill="none" transform="translate(-2.2 -2.2)" opacity="0.5"/>
<path d="M1710.0 347.8L1708.7 348.4L1706.8 349.4L1704.6 350.8L1702.2 352.9L1699.4 356.0L1696.3 359.9L1693.1 364.1L1690.1 368.5L1687.3 373.0L1684.6 377.8L1682.0 382.7L1679.7 387.5L1677.7 392.3L1675.9 397.2L1674.3 401.9L1672.8 406.5L1671.4 411.2L1670.2 415.9L1669.2 420.0L1668.5 422.9L1685.8 423.4L1686.2 421.1L1686.9 417.7L1687.8 413.8L1689.2 410.0L1691.0 406.2L1693.2 402.4L1695.8 398.4L1698.7 394.4L1702.3 390.4L1706.4 386.4L1710.6 382.2L1714.3 378.0L1717.5 373.2L1720.4 367.9L1722.9 363.2L1724.6 359.9L1724.6 359.9L1723.5 357.4L1721.7 354.0L1719.5 351.2L1716.3 349.6L1712.6 348.5L1710.0 347.8Z" fill="#de2d1e" stroke="#4a0c06" stroke-width="1" stroke-linejoin="round"/>
<path d="M1716.9 375.4L1714.0 377.9L1709.8 381.3L1705.3 385.3L1701.3 389.2L1698.1 393.0L1695.1 396.9L1692.4 400.9L1690.1 404.8L1688.2 409.0L1686.6 413.5L1685.4 417.5L1684.6 420.3" stroke="#ffb0a8" stroke-width="1.8" fill="none" stroke-linecap="round" stroke-linejoin="round"/>
<path d="M1808.5 180.5L1792.6 206.6L1778.2 230.8L1766.2 256.9L1755.5 284.5L1748.4 306.5L1735.5 337.0L1725.4 359.9L1719.6 373.7Q1739.0 366.5 1760.8 377.1L1776.5 347.3L1783.0 334.0L1794.6 311.6L1801.5 298.6L1811.0 277.9L1822.5 253.7L1835.5 229.5L1852.7 202.6L1845.0 193.0L1834.0 183.5L1822.0 179.0Z" fill="#de2d1e" stroke="#de2d1e" stroke-width="0.7" stroke-linejoin="round"/>
<path d="M1719.6 373.7L1703.9 401.3L1682.5 444.5L1725.4 445.5L1741.9 413.4L1760.8 377.1Q1739.0 366.5 1719.6 373.7Z" fill="#f4e31c" stroke="#f4e31c" stroke-width="0.7" stroke-linejoin="round"/>
<path d="M1661.1 447.3L1666.3 446.4L1673.8 445.1L1681.0 444.2L1686.7 443.7L1692.2 443.5L1698.2 443.5L1705.3 443.5L1713.0 443.8L1720.7 444.2L1729.0 444.9L1737.3 445.8L1743.2 446.4L1743.2 446.4L1740.3 448.8L1736.1 452.2L1731.6 456.0L1727.6 459.4L1724.4 462.3L1721.4 465.0L1718.5 467.7L1715.5 470.6L1712.4 473.7L1709.3 477.0L1706.2 480.3L1703.4 483.6L1701.0 486.8L1698.7 489.9L1696.7 493.2L1694.8 496.5L1692.9 500.4L1691.2 504.7L1689.8 508.5L1688.7 511.2L1688.7 511.2L1687.3 511.4L1685.3 511.5L1683.1 511.9L1681.0 512.6L1679.0 514.1L1676.9 516.2L1674.9 517.9L1673.2 518.5L1671.7 517.3L1670.4 515.0L1669.2 512.2L1668.0 509.5L1666.8 507.1L1665.6 504.6L1664.6 502.0L1663.7 499.1L1663.0 495.9L1662.4 492.3L1662.0 488.7L1661.6 485.3L1661.4 482.5L1661.2 480.0L1661.1 477.2L1661.1 473.2L1661.1 467.1L1661.1 459.5L1661.1 452.3L1661.1 447.3Z" fill="#de2d1e" stroke="#4a0c06" stroke-width="0.8" stroke-linejoin="round"/>
<path d="M1543.0 535.5L1564.6 536.4L1592.3 544.2L1598.3 550.2L1599.2 579.6L1585.4 593.4L1569.8 605.5L1562.9 596.9L1550.8 562.3L1545.6 544.2Z" fill="#6cc400" stroke="#6cc400" stroke-width="2" stroke-linejoin="round"/>
<path d="M1599.2 578.7L1585.4 593.4L1569.8 605.5L1566.4 600.7L1581.9 589.1L1597.8 575.3Z" fill="#1f7f2c"/>
<path d="M1604.8 582.6L1600.6 567.9" stroke="#480a04" stroke-width="12.2" stroke-linejoin="round" fill="none"/>
<circle cx="1600.6" cy="567.9" r="6.1" fill="#480a04"/>
<path d="M1604.8 582.6L1600.6 567.9" stroke="#981c10" stroke-width="11.0" stroke-linejoin="round" fill="none" transform="translate(-0.25 -0.25)"/>
<circle cx="1600.6" cy="567.9" r="5.5" fill="#981c10" transform="translate(-0.25 -0.25)"/>
<path d="M1604.8 582.6L1600.6 567.9" stroke="#c42618" stroke-width="9.4" stroke-linejoin="round" fill="none" transform="translate(-0.8 -0.8)"/>
<circle cx="1600.6" cy="567.9" r="4.7" fill="#c42618" transform="translate(-0.8 -0.8)"/>
<path d="M1604.8 582.6L1600.6 567.9" stroke="#dc2a1c" stroke-width="7.6" stroke-linejoin="round" fill="none" transform="translate(-1.5 -1.5)"/>
<circle cx="1600.6" cy="567.9" r="3.8" fill="#dc2a1c" transform="translate(-1.5 -1.5)"/>
<path d="M1604.8 582.6L1600.6 567.9" stroke="#ffa595" stroke-width="1.3" stroke-linejoin="round" stroke-linecap="round" fill="none" transform="translate(-2.4 -2.4)" opacity="0.5"/>
<path d="M1609.2 598.5L1595.9 614.0" stroke="#3e3a02" stroke-width="12.2" stroke-linejoin="round" fill="none"/>
<path d="M1609.2 598.5L1595.9 614.0" stroke="#9a8e12" stroke-width="11.0" stroke-linejoin="round" fill="none" transform="translate(-0.25 -0.25)"/>
<path d="M1609.2 598.5L1595.9 614.0" stroke="#d9c918" stroke-width="9.4" stroke-linejoin="round" fill="none" transform="translate(-0.8 -0.8)"/>
<path d="M1609.2 598.5L1595.9 614.0" stroke="#f4e31c" stroke-width="7.6" stroke-linejoin="round" fill="none" transform="translate(-1.5 -1.5)"/>
<path d="M1609.2 598.5L1595.9 614.0" stroke="#fffdc8" stroke-width="1.3" stroke-linejoin="round" stroke-linecap="round" fill="none" transform="translate(-2.4 -2.4)" opacity="0.5"/>
<path d="M1595.9 614.0L1585.1 626.6" stroke="#480a04" stroke-width="12.2" stroke-linejoin="round" fill="none"/>
<circle cx="1585.1" cy="626.6" r="6.1" fill="#480a04"/>
<path d="M1595.9 614.0L1585.1 626.6" stroke="#981c10" stroke-width="11.0" stroke-linejoin="round" fill="none" transform="translate(-0.25 -0.25)"/>
<circle cx="1585.1" cy="626.6" r="5.5" fill="#981c10" transform="translate(-0.25 -0.25)"/>
<path d="M1595.9 614.0L1585.1 626.6" stroke="#c42618" stroke-width="9.4" stroke-linejoin="round" fill="none" transform="translate(-0.8 -0.8)"/>
<circle cx="1585.1" cy="626.6" r="4.7" fill="#c42618" transform="translate(-0.8 -0.8)"/>
<path d="M1595.9 614.0L1585.1 626.6" stroke="#dc2a1c" stroke-width="7.6" stroke-linejoin="round" fill="none" transform="translate(-1.5 -1.5)"/>
<circle cx="1585.1" cy="626.6" r="3.8" fill="#dc2a1c" transform="translate(-1.5 -1.5)"/>
<path d="M1595.9 614.0L1585.1 626.6" stroke="#ffa595" stroke-width="1.3" stroke-linejoin="round" stroke-linecap="round" fill="none" transform="translate(-2.4 -2.4)" opacity="0.5"/>
<path d="M1694.8 542.3L1649.0 608.0L1609.2 598.5L1604.8 582.6" stroke="#3e3a02" stroke-width="12.2" stroke-linejoin="round" fill="none"/>
<path d="M1694.8 542.3L1649.0 608.0L1609.2 598.5L1604.8 582.6" stroke="#9a8e12" stroke-width="11.0" stroke-linejoin="round" fill="none" transform="translate(-0.25 -0.25)"/>
<path d="M1694.8 542.3L1649.0 608.0L1609.2 598.5L1604.8 582.6" stroke="#d9c918" stroke-width="9.4" stroke-linejoin="round" fill="none" transform="translate(-0.8 -0.8)"/>
<path d="M1694.8 542.3L1649.0 608.0L1609.2 598.5L1604.8 582.6" stroke="#f4e31c" stroke-width="7.6" stroke-linejoin="round" fill="none" transform="translate(-1.5 -1.5)"/>
<path d="M1694.8 542.3L1649.0 608.0L1609.2 598.5L1604.8 582.6" stroke="#fffdc8" stroke-width="1.3" stroke-linejoin="round" stroke-linecap="round" fill="none" transform="translate(-2.4 -2.4)" opacity="0.5"/>
<path d="M1679.2 516.4L1679.9 518.1L1680.7 520.5L1681.7 523.2L1683.0 526.0L1684.4 528.5L1686.1 530.7L1687.9 532.9L1690.0 535.0L1692.3 537.0L1694.8 538.9L1697.5 540.6L1700.5 542.1L1703.7 543.5L1707.0 544.9L1710.3 546.1L1714.0 547.3L1718.1 548.5L1722.1 549.5L1725.5 550.3L1728.0 551.0" stroke="#3e3a02" stroke-width="14.2" stroke-linejoin="round" fill="none"/>
<circle cx="1679.2" cy="516.4" r="7.1" fill="#3e3a02"/>
<path d="M1679.2 516.4L1679.9 518.1L1680.7 520.5L1681.7 523.2L1683.0 526.0L1684.4 528.5L1686.1 530.7L1687.9 532.9L1690.0 535.0L1692.3 537.0L1694.8 538.9L1697.5 540.6L1700.5 542.1L1703.7 543.5L1707.0 544.9L1710.3 546.1L1714.0 547.3L1718.1 548.5L1722.1 549.5L1725.5 550.3L1728.0 551.0" stroke="#9a8e12" stroke-width="13.0" stroke-linejoin="round" fill="none" transform="translate(-0.25 -0.25)"/>
<circle cx="1679.2" cy="516.4" r="6.5" fill="#9a8e12" transform="translate(-0.25 -0.25)"/>
<path d="M1679.2 516.4L1679.9 518.1L1680.7 520.5L1681.7 523.2L1683.0 526.0L1684.4 528.5L1686.1 530.7L1687.9 532.9L1690.0 535.0L1692.3 537.0L1694.8 538.9L1697.5 540.6L1700.5 542.1L1703.7 543.5L1707.0 544.9L1710.3 546.1L1714.0 547.3L1718.1 548.5L1722.1 549.5L1725.5 550.3L1728.0 551.0" stroke="#d9c918" stroke-width="11.4" stroke-linejoin="round" fill="none" transform="translate(-0.8 -0.8)"/>
<circle cx="1679.2" cy="516.4" r="5.7" fill="#d9c918" transform="translate(-0.8 -0.8)"/>
<path d="M1679.2 516.4L1679.9 518.1L1680.7 520.5L1681.7 523.2L1683.0 526.0L1684.4 528.5L1686.1 530.7L1687.9 532.9L1690.0 535.0L1692.3 537.0L1694.8 538.9L1697.5 540.6L1700.5 542.1L1703.7 543.5L1707.0 544.9L1710.3 546.1L1714.0 547.3L1718.1 548.5L1722.1 549.5L1725.5 550.3L1728.0 551.0" stroke="#f4e31c" stroke-width="9.6" stroke-linejoin="round" fill="none" transform="translate(-1.5 -1.5)"/>
<circle cx="1679.2" cy="516.4" r="4.8" fill="#f4e31c" transform="translate(-1.5 -1.5)"/>
<path d="M1679.2 516.4L1679.9 518.1L1680.7 520.5L1681.7 523.2L1683.0 526.0L1684.4 528.5L1686.1 530.7L1687.9 532.9L1690.0 535.0L1692.3 537.0L1694.8 538.9L1697.5 540.6L1700.5 542.1L1703.7 543.5L1707.0 544.9L1710.3 546.1L1714.0 547.3L1718.1 548.5L1722.1 549.5L1725.5 550.3L1728.0 551.0" stroke="#fffdc8" stroke-width="1.6" stroke-linejoin="round" stroke-linecap="round" fill="none" transform="translate(-2.8 -2.8)" opacity="0.5"/>
<path d="M1570.1 481.8L1551.7 475.9" stroke="#12143e" stroke-width="12.2" stroke-linejoin="round" fill="none"/>
<circle cx="1551.7" cy="475.9" r="6.1" fill="#12143e"/>
<path d="M1570.1 481.8L1551.7 475.9" stroke="#2b3384" stroke-width="11.0" stroke-linejoin="round" fill="none" transform="translate(-0.25 -0.25)"/>
<circle cx="1551.7" cy="475.9" r="5.5" fill="#2b3384" transform="translate(-0.25 -0.25)"/>
<path d="M1570.1 481.8L1551.7 475.9" stroke="#3c47a4" stroke-width="9.4" stroke-linejoin="round" fill="none" transform="translate(-0.8 -0.8)"/>
<circle cx="1551.7" cy="475.9" r="4.7" fill="#3c47a4" transform="translate(-0.8 -0.8)"/>
<path d="M1570.1 481.8L1551.7 475.9" stroke="#4652b4" stroke-width="7.6" stroke-linejoin="round" fill="none" transform="translate(-1.5 -1.5)"/>
<circle cx="1551.7" cy="475.9" r="3.8" fill="#4652b4" transform="translate(-1.5 -1.5)"/>
<path d="M1570.1 481.8L1551.7 475.9" stroke="#c0c8f8" stroke-width="1.3" stroke-linejoin="round" stroke-linecap="round" fill="none" transform="translate(-2.4 -2.4)" opacity="0.5"/>
<path d="M1587.1 487.2L1602.3 479.1" stroke="#123c06" stroke-width="12.2" stroke-linejoin="round" fill="none"/>
<path d="M1587.1 487.2L1602.3 479.1" stroke="#2a9412" stroke-width="11.0" stroke-linejoin="round" fill="none" transform="translate(-0.25 -0.25)"/>
<path d="M1587.1 487.2L1602.3 479.1" stroke="#55b808" stroke-width="9.4" stroke-linejoin="round" fill="none" transform="translate(-0.8 -0.8)"/>
<path d="M1587.1 487.2L1602.3 479.1" stroke="#6cc400" stroke-width="7.6" stroke-linejoin="round" fill="none" transform="translate(-1.5 -1.5)"/>
<path d="M1587.1 487.2L1602.3 479.1" stroke="#e2f9b4" stroke-width="1.3" stroke-linejoin="round" stroke-linecap="round" fill="none" transform="translate(-2.4 -2.4)" opacity="0.5"/>
<path d="M1602.3 479.1L1613.4 473.3" stroke="#480a04" stroke-width="12.2" stroke-linejoin="round" fill="none"/>
<circle cx="1613.4" cy="473.3" r="6.1" fill="#480a04"/>
<path d="M1602.3 479.1L1613.4 473.3" stroke="#981c10" stroke-width="11.0" stroke-linejoin="round" fill="none" transform="translate(-0.25 -0.25)"/>
<circle cx="1613.4" cy="473.3" r="5.5" fill="#981c10" transform="translate(-0.25 -0.25)"/>
<path d="M1602.3 479.1L1613.4 473.3" stroke="#c42618" stroke-width="9.4" stroke-linejoin="round" fill="none" transform="translate(-0.8 -0.8)"/>
<circle cx="1613.4" cy="473.3" r="4.7" fill="#c42618" transform="translate(-0.8 -0.8)"/>
<path d="M1602.3 479.1L1613.4 473.3" stroke="#dc2a1c" stroke-width="7.6" stroke-linejoin="round" fill="none" transform="translate(-1.5 -1.5)"/>
<circle cx="1613.4" cy="473.3" r="3.8" fill="#dc2a1c" transform="translate(-1.5 -1.5)"/>
<path d="M1602.3 479.1L1613.4 473.3" stroke="#ffa595" stroke-width="1.3" stroke-linejoin="round" stroke-linecap="round" fill="none" transform="translate(-2.4 -2.4)" opacity="0.5"/>
<path d="M1570.1 481.8L1587.1 487.2L1593.2 519.1L1576.7 549.4" stroke="#123c06" stroke-width="12.2" stroke-linejoin="round" fill="none"/>
<circle cx="1576.7" cy="549.4" r="6.1" fill="#123c06"/>
<path d="M1570.1 481.8L1587.1 487.2L1593.2 519.1L1576.7 549.4" stroke="#2a9412" stroke-width="11.0" stroke-linejoin="round" fill="none" transform="translate(-0.25 -0.25)"/>
<circle cx="1576.7" cy="549.4" r="5.5" fill="#2a9412" transform="translate(-0.25 -0.25)"/>
<path d="M1570.1 481.8L1587.1 487.2L1593.2 519.1L1576.7 549.4" stroke="#55b808" stroke-width="9.4" stroke-linejoin="round" fill="none" transform="translate(-0.8 -0.8)"/>
<circle cx="1576.7" cy="549.4" r="4.7" fill="#55b808" transform="translate(-0.8 -0.8)"/>
<path d="M1570.1 481.8L1587.1 487.2L1593.2 519.1L1576.7 549.4" stroke="#6cc400" stroke-width="7.6" stroke-linejoin="round" fill="none" transform="translate(-1.5 -1.5)"/>
<circle cx="1576.7" cy="549.4" r="3.8" fill="#6cc400" transform="translate(-1.5 -1.5)"/>
<path d="M1570.1 481.8L1587.1 487.2L1593.2 519.1L1576.7 549.4" stroke="#e2f9b4" stroke-width="1.3" stroke-linejoin="round" stroke-linecap="round" fill="none" transform="translate(-2.4 -2.4)" opacity="0.5"/>
<circle cx="1459.2" cy="521.2" r="6.2" fill="#1f7f2c"/>
<path d="M1508.8 423.0L1507.6 429.4" stroke="#123c06" stroke-width="12.2" stroke-linejoin="round" fill="none"/>
<path d="M1508.8 423.0L1507.6 429.4" stroke="#2a9412" stroke-width="11.0" stroke-linejoin="round" fill="none" transform="translate(-0.25 -0.25)"/>
<path d="M1508.8 423.0L1507.6 429.4" stroke="#55b808" stroke-width="9.4" stroke-linejoin="round" fill="none" transform="translate(-0.8 -0.8)"/>
<path d="M1508.8 423.0L1507.6 429.4" stroke="#6cc400" stroke-width="7.6" stroke-linejoin="round" fill="none" transform="translate(-1.5 -1.5)"/>
<path d="M1508.8 423.0L1507.6 429.4" stroke="#e2f9b4" stroke-width="1.3" stroke-linejoin="round" stroke-linecap="round" fill="none" transform="translate(-2.4 -2.4)" opacity="0.5"/>
<path d="M1507.6 429.4L1506.0 438.2" stroke="#480a04" stroke-width="12.2" stroke-linejoin="round" fill="none"/>
<circle cx="1506.0" cy="438.2" r="6.1" fill="#480a04"/>
<path d="M1507.6 429.4L1506.0 438.2" stroke="#981c10" stroke-width="11.0" stroke-linejoin="round" fill="none" transform="translate(-0.25 -0.25)"/>
<circle cx="1506.0" cy="438.2" r="5.5" fill="#981c10" transform="translate(-0.25 -0.25)"/>
<path d="M1507.6 429.4L1506.0 438.2" stroke="#c42618" stroke-width="9.4" stroke-linejoin="round" fill="none" transform="translate(-0.8 -0.8)"/>
<circle cx="1506.0" cy="438.2" r="4.7" fill="#c42618" transform="translate(-0.8 -0.8)"/>
<path d="M1507.6 429.4L1506.0 438.2" stroke="#dc2a1c" stroke-width="7.6" stroke-linejoin="round" fill="none" transform="translate(-1.5 -1.5)"/>
<circle cx="1506.0" cy="438.2" r="3.8" fill="#dc2a1c" transform="translate(-1.5 -1.5)"/>
<path d="M1507.6 429.4L1506.0 438.2" stroke="#ffa595" stroke-width="1.3" stroke-linejoin="round" stroke-linecap="round" fill="none" transform="translate(-2.4 -2.4)" opacity="0.5"/>
<path d="M1526.1 417.0L1508.8 423.0L1474.3 419.6L1440.2 435.1L1453.5 522.0L1450.6 539.3" stroke="#123c06" stroke-width="13.4" stroke-linejoin="round" fill="none"/>
<path d="M1526.1 417.0L1508.8 423.0L1474.3 419.6L1440.2 435.1L1453.5 522.0L1450.6 539.3" stroke="#2a9412" stroke-width="12.2" stroke-linejoin="round" fill="none" transform="translate(-0.25 -0.25)"/>
<path d="M1526.1 417.0L1508.8 423.0L1474.3 419.6L1440.2 435.1L1453.5 522.0L1450.6 539.3" stroke="#55b808" stroke-width="10.6" stroke-linejoin="round" fill="none" transform="translate(-0.8 -0.8)"/>
<path d="M1526.1 417.0L1508.8 423.0L1474.3 419.6L1440.2 435.1L1453.5 522.0L1450.6 539.3" stroke="#6cc400" stroke-width="8.8" stroke-linejoin="round" fill="none" transform="translate(-1.5 -1.5)"/>
<path d="M1526.1 417.0L1508.8 423.0L1474.3 419.6L1440.2 435.1L1453.5 522.0L1450.6 539.3" stroke="#e2f9b4" stroke-width="1.5" stroke-linejoin="round" stroke-linecap="round" fill="none" transform="translate(-2.7 -2.7)" opacity="0.2"/>
<path d="M1526.1 417.0L1538.7 412.7" stroke="#480a04" stroke-width="12.2" stroke-linejoin="round" fill="none"/>
<circle cx="1538.7" cy="412.7" r="6.1" fill="#480a04"/>
<path d="M1526.1 417.0L1538.7 412.7" stroke="#981c10" stroke-width="11.0" stroke-linejoin="round" fill="none" transform="translate(-0.25 -0.25)"/>
<circle cx="1538.7" cy="412.7" r="5.5" fill="#981c10" transform="translate(-0.25 -0.25)"/>
<path d="M1526.1 417.0L1538.7 412.7" stroke="#c42618" stroke-width="9.4" stroke-linejoin="round" fill="none" transform="translate(-0.8 -0.8)"/>
<circle cx="1538.7" cy="412.7" r="4.7" fill="#c42618" transform="translate(-0.8 -0.8)"/>
<path d="M1526.1 417.0L1538.7 412.7" stroke="#dc2a1c" stroke-width="7.6" stroke-linejoin="round" fill="none" transform="translate(-1.5 -1.5)"/>
<circle cx="1538.7" cy="412.7" r="3.8" fill="#dc2a1c" transform="translate(-1.5 -1.5)"/>
<path d="M1526.1 417.0L1538.7 412.7" stroke="#ffa595" stroke-width="1.3" stroke-linejoin="round" stroke-linecap="round" fill="none" transform="translate(-2.4 -2.4)" opacity="0.5"/>
<path d="M1416.0 557.1L1421.2 548.5L1431.6 544.2L1447.1 539.9L1470.5 545.9L1461.0 560.6L1459.2 567.5L1436.8 577.9L1417.8 581.3L1414.3 571.0Z" fill="#6cc400" stroke="#6cc400" stroke-width="2" stroke-linejoin="round"/>
<path d="M1422.9 571.0L1440.2 564.0L1455.8 560.6" stroke="#e2f9b4" stroke-width="2.5" fill="none" stroke-linecap="round" stroke-linejoin="round" opacity="0.9"/>
<path d="M1378.9 506.2L1414.7 532.0" stroke="#123c06" stroke-width="12.2" stroke-linejoin="round" fill="none"/>
<path d="M1378.9 506.2L1414.7 532.0" stroke="#2a9412" stroke-width="11.0" stroke-linejoin="round" fill="none" transform="translate(-0.25 -0.25)"/>
<path d="M1378.9 506.2L1414.7 532.0" stroke="#55b808" stroke-width="9.4" stroke-linejoin="round" fill="none" transform="translate(-0.8 -0.8)"/>
<path d="M1378.9 506.2L1414.7 532.0" stroke="#6cc400" stroke-width="7.6" stroke-linejoin="round" fill="none" transform="translate(-1.5 -1.5)"/>
<path d="M1378.9 506.2L1414.7 532.0" stroke="#e2f9b4" stroke-width="1.3" stroke-linejoin="round" stroke-linecap="round" fill="none" transform="translate(-2.4 -2.4)" opacity="0.5"/>
<path d="M1414.7 532.0L1431.6 544.2" stroke="#12143e" stroke-width="12.2" stroke-linejoin="round" fill="none"/>
<path d="M1414.7 532.0L1431.6 544.2" stroke="#2b3384" stroke-width="11.0" stroke-linejoin="round" fill="none" transform="translate(-0.25 -0.25)"/>
<path d="M1414.7 532.0L1431.6 544.2" stroke="#3c47a4" stroke-width="9.4" stroke-linejoin="round" fill="none" transform="translate(-0.8 -0.8)"/>
<path d="M1414.7 532.0L1431.6 544.2" stroke="#4652b4" stroke-width="7.6" stroke-linejoin="round" fill="none" transform="translate(-1.5 -1.5)"/>
<path d="M1414.7 532.0L1431.6 544.2" stroke="#c0c8f8" stroke-width="1.3" stroke-linejoin="round" stroke-linecap="round" fill="none" transform="translate(-2.4 -2.4)" opacity="0.5"/>
<path d="M1433.3 488.4L1437.6 552.0" stroke="#08280c" stroke-width="12.2" stroke-linejoin="round" fill="none"/>
<circle cx="1433.3" cy="488.4" r="6.1" fill="#08280c"/>
<path d="M1433.3 488.4L1437.6 552.0" stroke="#125220" stroke-width="11.0" stroke-linejoin="round" fill="none" transform="translate(-0.25 -0.25)"/>
<circle cx="1433.3" cy="488.4" r="5.5" fill="#125220" transform="translate(-0.25 -0.25)"/>
<path d="M1433.3 488.4L1437.6 552.0" stroke="#1a6e28" stroke-width="9.4" stroke-linejoin="round" fill="none" transform="translate(-0.8 -0.8)"/>
<circle cx="1433.3" cy="488.4" r="4.7" fill="#1a6e28" transform="translate(-0.8 -0.8)"/>
<path d="M1433.3 488.4L1437.6 552.0" stroke="#1f7f2c" stroke-width="7.6" stroke-linejoin="round" fill="none" transform="translate(-1.5 -1.5)"/>
<circle cx="1433.3" cy="488.4" r="3.8" fill="#1f7f2c" transform="translate(-1.5 -1.5)"/>
<path d="M1433.3 488.4L1437.6 552.0" stroke="#7fd07a" stroke-width="1.3" stroke-linejoin="round" stroke-linecap="round" fill="none" transform="translate(-2.4 -2.4)" opacity="0.5"/>
<path d="M1378.9 506.2L1396.2 510.8L1433.3 488.4" stroke="#123c06" stroke-width="12.2" stroke-linejoin="round" fill="none"/>
<circle cx="1378.9" cy="506.2" r="6.1" fill="#123c06"/>
<circle cx="1433.3" cy="488.4" r="6.1" fill="#123c06"/>
<path d="M1378.9 506.2L1396.2 510.8L1433.3 488.4" stroke="#2a9412" stroke-width="11.0" stroke-linejoin="round" fill="none" transform="translate(-0.25 -0.25)"/>
<circle cx="1378.9" cy="506.2" r="5.5" fill="#2a9412" transform="translate(-0.25 -0.25)"/>
<circle cx="1433.3" cy="488.4" r="5.5" fill="#2a9412" transform="translate(-0.25 -0.25)"/>
<path d="M1378.9 506.2L1396.2 510.8L1433.3 488.4" stroke="#55b808" stroke-width="9.4" stroke-linejoin="round" fill="none" transform="translate(-0.8 -0.8)"/>
<circle cx="1378.9" cy="506.2" r="4.7" fill="#55b808" transform="translate(-0.8 -0.8)"/>
<circle cx="1433.3" cy="488.4" r="4.7" fill="#55b808" transform="translate(-0.8 -0.8)"/>
<path d="M1378.9 506.2L1396.2 510.8L1433.3 488.4" stroke="#6cc400" stroke-width="7.6" stroke-linejoin="round" fill="none" transform="translate(-1.5 -1.5)"/>
<circle cx="1378.9" cy="506.2" r="3.8" fill="#6cc400" transform="translate(-1.5 -1.5)"/>
<circle cx="1433.3" cy="488.4" r="3.8" fill="#6cc400" transform="translate(-1.5 -1.5)"/>
<path d="M1378.9 506.2L1396.2 510.8L1433.3 488.4" stroke="#e2f9b4" stroke-width="1.3" stroke-linejoin="round" stroke-linecap="round" fill="none" transform="translate(-2.4 -2.4)" opacity="0.5"/>
<path d="M1308.8 252.6L1295.2 256.9" stroke="#12143e" stroke-width="12.2" stroke-linejoin="round" fill="none"/>
<circle cx="1295.2" cy="256.9" r="6.1" fill="#12143e"/>
<path d="M1308.8 252.6L1295.2 256.9" stroke="#2b3384" stroke-width="11.0" stroke-linejoin="round" fill="none" transform="translate(-0.25 -0.25)"/>
<circle cx="1295.2" cy="256.9" r="5.5" fill="#2b3384" transform="translate(-0.25 -0.25)"/>
<path d="M1308.8 252.6L1295.2 256.9" stroke="#3c47a4" stroke-width="9.4" stroke-linejoin="round" fill="none" transform="translate(-0.8 -0.8)"/>
<circle cx="1295.2" cy="256.9" r="4.7" fill="#3c47a4" transform="translate(-0.8 -0.8)"/>
<path d="M1308.8 252.6L1295.2 256.9" stroke="#4652b4" stroke-width="7.6" stroke-linejoin="round" fill="none" transform="translate(-1.5 -1.5)"/>
<circle cx="1295.2" cy="256.9" r="3.8" fill="#4652b4" transform="translate(-1.5 -1.5)"/>
<path d="M1308.8 252.6L1295.2 256.9" stroke="#c0c8f8" stroke-width="1.3" stroke-linejoin="round" stroke-linecap="round" fill="none" transform="translate(-2.4 -2.4)" opacity="0.5"/>
<path d="M1314.6 250.8L1308.8 252.6" stroke="#123c06" stroke-width="12.2" stroke-linejoin="round" fill="none"/>
<path d="M1314.6 250.8L1308.8 252.6" stroke="#2a9412" stroke-width="11.0" stroke-linejoin="round" fill="none" transform="translate(-0.25 -0.25)"/>
<path d="M1314.6 250.8L1308.8 252.6" stroke="#55b808" stroke-width="9.4" stroke-linejoin="round" fill="none" transform="translate(-0.8 -0.8)"/>
<path d="M1314.6 250.8L1308.8 252.6" stroke="#6cc400" stroke-width="7.6" stroke-linejoin="round" fill="none" transform="translate(-1.5 -1.5)"/>
<path d="M1314.6 250.8L1308.8 252.6" stroke="#e2f9b4" stroke-width="1.3" stroke-linejoin="round" stroke-linecap="round" fill="none" transform="translate(-2.4 -2.4)" opacity="0.5"/>
<path d="M1371.1 204.3L1320.5 212.3L1314.6 250.8L1322.1 264.7" stroke="#123c06" stroke-width="12.2" stroke-linejoin="round" fill="none"/>
<path d="M1371.1 204.3L1320.5 212.3L1314.6 250.8L1322.1 264.7" stroke="#2a9412" stroke-width="11.0" stroke-linejoin="round" fill="none" transform="translate(-0.25 -0.25)"/>
<path d="M1371.1 204.3L1320.5 212.3L1314.6 250.8L1322.1 264.7" stroke="#55b808" stroke-width="9.4" stroke-linejoin="round" fill="none" transform="translate(-0.8 -0.8)"/>
<path d="M1371.1 204.3L1320.5 212.3L1314.6 250.8L1322.1 264.7" stroke="#6cc400" stroke-width="7.6" stroke-linejoin="round" fill="none" transform="translate(-1.5 -1.5)"/>
<path d="M1371.1 204.3L1320.5 212.3L1314.6 250.8L1322.1 264.7" stroke="#e2f9b4" stroke-width="1.3" stroke-linejoin="round" stroke-linecap="round" fill="none" transform="translate(-2.4 -2.4)" opacity="0.5"/>
<path d="M1322.1 264.7L1329.6 278.5" stroke="#480a04" stroke-width="12.2" stroke-linejoin="round" fill="none"/>
<circle cx="1329.6" cy="278.5" r="6.1" fill="#480a04"/>
<path d="M1322.1 264.7L1329.6 278.5" stroke="#981c10" stroke-width="11.0" stroke-linejoin="round" fill="none" transform="translate(-0.25 -0.25)"/>
<circle cx="1329.6" cy="278.5" r="5.5" fill="#981c10" transform="translate(-0.25 -0.25)"/>
<path d="M1322.1 264.7L1329.6 278.5" stroke="#c42618" stroke-width="9.4" stroke-linejoin="round" fill="none" transform="translate(-0.8 -0.8)"/>
<circle cx="1329.6" cy="278.5" r="4.7" fill="#c42618" transform="translate(-0.8 -0.8)"/>
<path d="M1322.1 264.7L1329.6 278.5" stroke="#dc2a1c" stroke-width="7.6" stroke-linejoin="round" fill="none" transform="translate(-1.5 -1.5)"/>
<circle cx="1329.6" cy="278.5" r="3.8" fill="#dc2a1c" transform="translate(-1.5 -1.5)"/>
<path d="M1322.1 264.7L1329.6 278.5" stroke="#ffa595" stroke-width="1.3" stroke-linejoin="round" stroke-linecap="round" fill="none" transform="translate(-2.4 -2.4)" opacity="0.5"/>
<circle cx="1416.5" cy="385.9" r="4.6" fill="#480a04"/>
<circle cx="1416.2" cy="385.5" r="3.6" fill="#dc2a1c"/>
<path d="M1373.7 366.5L1383.2 390.2L1419.0 393.7L1432.5 396.6" stroke="#3e3a02" stroke-width="12.2" stroke-linejoin="round" fill="none"/>
<path d="M1373.7 366.5L1383.2 390.2L1419.0 393.7L1432.5 396.6" stroke="#9a8e12" stroke-width="11.0" stroke-linejoin="round" fill="none" transform="translate(-0.25 -0.25)"/>
<path d="M1373.7 366.5L1383.2 390.2L1419.0 393.7L1432.5 396.6" stroke="#d9c918" stroke-width="9.4" stroke-linejoin="round" fill="none" transform="translate(-0.8 -0.8)"/>
<path d="M1373.7 366.5L1383.2 390.2L1419.0 393.7L1432.5 396.6" stroke="#f4e31c" stroke-width="7.6" stroke-linejoin="round" fill="none" transform="translate(-1.5 -1.5)"/>
<path d="M1373.7 366.5L1383.2 390.2L1419.0 393.7L1432.5 396.6" stroke="#fffdc8" stroke-width="1.3" stroke-linejoin="round" stroke-linecap="round" fill="none" transform="translate(-2.4 -2.4)" opacity="0.5"/>
<path d="M1432.5 396.6L1451.1 400.6" stroke="#12143e" stroke-width="12.2" stroke-linejoin="round" fill="none"/>
<circle cx="1451.1" cy="400.6" r="6.1" fill="#12143e"/>
<path d="M1432.5 396.6L1451.1 400.6" stroke="#2b3384" stroke-width="11.0" stroke-linejoin="round" fill="none" transform="translate(-0.25 -0.25)"/>
<circle cx="1451.1" cy="400.6" r="5.5" fill="#2b3384" transform="translate(-0.25 -0.25)"/>
<path d="M1432.5 396.6L1451.1 400.6" stroke="#3c47a4" stroke-width="9.4" stroke-linejoin="round" fill="none" transform="translate(-0.8 -0.8)"/>
<circle cx="1451.1" cy="400.6" r="4.7" fill="#3c47a4" transform="translate(-0.8 -0.8)"/>
<path d="M1432.5 396.6L1451.1 400.6" stroke="#4652b4" stroke-width="7.6" stroke-linejoin="round" fill="none" transform="translate(-1.5 -1.5)"/>
<circle cx="1451.1" cy="400.6" r="3.8" fill="#4652b4" transform="translate(-1.5 -1.5)"/>
<path d="M1432.5 396.6L1451.1 400.6" stroke="#c0c8f8" stroke-width="1.3" stroke-linejoin="round" stroke-linecap="round" fill="none" transform="translate(-2.4 -2.4)" opacity="0.5"/>
<path d="M1480.5 348.7L1480.6 353.9" stroke="#4a0c06" stroke-width="12.2" stroke-linejoin="round" fill="none"/>
<path d="M1480.5 348.7L1480.6 353.9" stroke="#9c1e12" stroke-width="11.0" stroke-linejoin="round" fill="none" transform="translate(-0.25 -0.25)"/>
<path d="M1480.5 348.7L1480.6 353.9" stroke="#c8281a" stroke-width="9.4" stroke-linejoin="round" fill="none" transform="translate(-0.8 -0.8)"/>
<path d="M1480.5 348.7L1480.6 353.9" stroke="#de2d1e" stroke-width="7.6" stroke-linejoin="round" fill="none" transform="translate(-1.5 -1.5)"/>
<path d="M1480.5 348.7L1480.6 353.9" stroke="#ffb0a2" stroke-width="1.3" stroke-linejoin="round" stroke-linecap="round" fill="none" transform="translate(-2.4 -2.4)" opacity="0.5"/>
<path d="M1480.6 353.9L1480.8 366.0" stroke="#12143e" stroke-width="12.2" stroke-linejoin="round" fill="none"/>
<circle cx="1480.8" cy="366.0" r="6.1" fill="#12143e"/>
<path d="M1480.6 353.9L1480.8 366.0" stroke="#2b3384" stroke-width="11.0" stroke-linejoin="round" fill="none" transform="translate(-0.25 -0.25)"/>
<circle cx="1480.8" cy="366.0" r="5.5" fill="#2b3384" transform="translate(-0.25 -0.25)"/>
<path d="M1480.6 353.9L1480.8 366.0" stroke="#3c47a4" stroke-width="9.4" stroke-linejoin="round" fill="none" transform="translate(-0.8 -0.8)"/>
<circle cx="1480.8" cy="366.0" r="4.7" fill="#3c47a4" transform="translate(-0.8 -0.8)"/>
<path d="M1480.6 353.9L1480.8 366.0" stroke="#4652b4" stroke-width="7.6" stroke-linejoin="round" fill="none" transform="translate(-1.5 -1.5)"/>
<circle cx="1480.8" cy="366.0" r="3.8" fill="#4652b4" transform="translate(-1.5 -1.5)"/>
<path d="M1480.6 353.9L1480.8 366.0" stroke="#c0c8f8" stroke-width="1.3" stroke-linejoin="round" stroke-linecap="round" fill="none" transform="translate(-2.4 -2.4)" opacity="0.5"/>
<path d="M1436.6 296.2L1441.4 336.3L1480.5 348.7L1497.7 345.0" stroke="#4a0c06" stroke-width="12.2" stroke-linejoin="round" fill="none"/>
<path d="M1436.6 296.2L1441.4 336.3L1480.5 348.7L1497.7 345.0" stroke="#9c1e12" stroke-width="11.0" stroke-linejoin="round" fill="none" transform="translate(-0.25 -0.25)"/>
<path d="M1436.6 296.2L1441.4 336.3L1480.5 348.7L1497.7 345.0" stroke="#c8281a" stroke-width="9.4" stroke-linejoin="round" fill="none" transform="translate(-0.8 -0.8)"/>
<path d="M1436.6 296.2L1441.4 336.3L1480.5 348.7L1497.7 345.0" stroke="#de2d1e" stroke-width="7.6" stroke-linejoin="round" fill="none" transform="translate(-1.5 -1.5)"/>
<path d="M1436.6 296.2L1441.4 336.3L1480.5 348.7L1497.7 345.0" stroke="#ffb0a2" stroke-width="1.3" stroke-linejoin="round" stroke-linecap="round" fill="none" transform="translate(-2.4 -2.4)" opacity="0.5"/>
<path d="M1497.7 345.0L1510.2 342.3" stroke="#4a0c06" stroke-width="12.2" stroke-linejoin="round" fill="none"/>
<circle cx="1510.2" cy="342.3" r="6.1" fill="#4a0c06"/>
<path d="M1497.7 345.0L1510.2 342.3" stroke="#9c1e12" stroke-width="11.0" stroke-linejoin="round" fill="none" transform="translate(-0.25 -0.25)"/>
<circle cx="1510.2" cy="342.3" r="5.5" fill="#9c1e12" transform="translate(-0.25 -0.25)"/>
<path d="M1497.7 345.0L1510.2 342.3" stroke="#c8281a" stroke-width="9.4" stroke-linejoin="round" fill="none" transform="translate(-0.8 -0.8)"/>
<circle cx="1510.2" cy="342.3" r="4.7" fill="#c8281a" transform="translate(-0.8 -0.8)"/>
<path d="M1497.7 345.0L1510.2 342.3" stroke="#de2d1e" stroke-width="7.6" stroke-linejoin="round" fill="none" transform="translate(-1.5 -1.5)"/>
<circle cx="1510.2" cy="342.3" r="3.8" fill="#de2d1e" transform="translate(-1.5 -1.5)"/>
<path d="M1497.7 345.0L1510.2 342.3" stroke="#ffb0a2" stroke-width="1.3" stroke-linejoin="round" stroke-linecap="round" fill="none" transform="translate(-2.4 -2.4)" opacity="0.5"/>
<path d="M1325.3 374.7L1329.4 374.2L1335.3 373.5L1341.9 372.7L1347.8 371.7L1352.8 370.6L1357.6 369.4L1362.2 368.1L1366.8 366.5L1371.3 364.8L1375.7 362.9L1380.0 360.9L1384.0 358.8L1387.8 356.5L1391.4 354.2L1394.8 351.8L1397.9 349.2L1400.8 346.2L1403.5 342.9L1405.8 339.8L1407.4 337.7L1407.8 335.5L1408.5 332.3L1409.2 328.9L1409.6 325.9L1409.7 323.6L1409.7 321.7L1409.4 319.7L1409.1 317.4L1408.7 314.6L1408.1 311.5L1407.4 308.4L1406.5 305.3L1405.5 302.3L1404.3 299.3L1402.9 296.3L1401.3 293.2L1399.4 290.0L1397.2 286.9L1394.9 283.6L1392.7 280.2L1390.5 276.6L1388.2 272.9L1386.0 269.1L1384.0 265.5L1382.3 261.8L1380.7 257.9L1379.4 254.4L1378.5 252.0" stroke="#3e3a02" stroke-width="16.0" stroke-linejoin="round" fill="none"/>
<circle cx="1325.3" cy="374.7" r="8.0" fill="#3e3a02"/>
<path d="M1325.3 374.7L1329.4 374.2L1335.3 373.5L1341.9 372.7L1347.8 371.7L1352.8 370.6L1357.6 369.4L1362.2 368.1L1366.8 366.5L1371.3 364.8L1375.7 362.9L1380.0 360.9L1384.0 358.8L1387.8 356.5L1391.4 354.2L1394.8 351.8L1397.9 349.2L1400.8 346.2L1403.5 342.9L1405.8 339.8L1407.4 337.7L1407.8 335.5L1408.5 332.3L1409.2 328.9L1409.6 325.9L1409.7 323.6L1409.7 321.7L1409.4 319.7L1409.1 317.4L1408.7 314.6L1408.1 311.5L1407.4 308.4L1406.5 305.3L1405.5 302.3L1404.3 299.3L1402.9 296.3L1401.3 293.2L1399.4 290.0L1397.2 286.9L1394.9 283.6L1392.7 280.2L1390.5 276.6L1388.2 272.9L1386.0 269.1L1384.0 265.5L1382.3 261.8L1380.7 257.9L1379.4 254.4L1378.5 252.0" stroke="#9a8e12" stroke-width="14.8" stroke-linejoin="round" fill="none" transform="translate(-0.25 -0.25)"/>
<circle cx="1325.3" cy="374.7" r="7.4" fill="#9a8e12" transform="translate(-0.25 -0.25)"/>
<path d="M1325.3 374.7L1329.4 374.2L1335.3 373.5L1341.9 372.7L1347.8 371.7L1352.8 370.6L1357.6 369.4L1362.2 368.1L1366.8 366.5L1371.3 364.8L1375.7 362.9L1380.0 360.9L1384.0 358.8L1387.8 356.5L1391.4 354.2L1394.8 351.8L1397.9 349.2L1400.8 346.2L1403.5 342.9L1405.8 339.8L1407.4 337.7L1407.8 335.5L1408.5 332.3L1409.2 328.9L1409.6 325.9L1409.7 323.6L1409.7 321.7L1409.4 319.7L1409.1 317.4L1408.7 314.6L1408.1 311.5L1407.4 308.4L1406.5 305.3L1405.5 302.3L1404.3 299.3L1402.9 296.3L1401.3 293.2L1399.4 290.0L1397.2 286.9L1394.9 283.6L1392.7 280.2L1390.5 276.6L1388.2 272.9L1386.0 269.1L1384.0 265.5L1382.3 261.8L1380.7 257.9L1379.4 254.4L1378.5 252.0" stroke="#d9c918" stroke-width="13.2" stroke-linejoin="round" fill="none" transform="translate(-0.8 -0.8)"/>
<circle cx="1325.3" cy="374.7" r="6.6" fill="#d9c918" transform="translate(-0.8 -0.8)"/>
<path d="M1325.3 374.7L1329.4 374.2L1335.3 373.5L1341.9 372.7L1347.8 371.7L1352.8 370.6L1357.6 369.4L1362.2 368.1L1366.8 366.5L1371.3 364.8L1375.7 362.9L1380.0 360.9L1384.0 358.8L1387.8 356.5L1391.4 354.2L1394.8 351.8L1397.9 349.2L1400.8 346.2L1403.5 342.9L1405.8 339.8L1407.4 337.7L1407.8 335.5L1408.5 332.3L1409.2 328.9L1409.6 325.9L1409.7 323.6L1409.7 321.7L1409.4 319.7L1409.1 317.4L1408.7 314.6L1408.1 311.5L1407.4 308.4L1406.5 305.3L1405.5 302.3L1404.3 299.3L1402.9 296.3L1401.3 293.2L1399.4 290.0L1397.2 286.9L1394.9 283.6L1392.7 280.2L1390.5 276.6L1388.2 272.9L1386.0 269.1L1384.0 265.5L1382.3 261.8L1380.7 257.9L1379.4 254.4L1378.5 252.0" stroke="#f4e31c" stroke-width="11.4" stroke-linejoin="round" fill="none" transform="translate(-1.5 -1.5)"/>
<circle cx="1325.3" cy="374.7" r="5.7" fill="#f4e31c" transform="translate(-1.5 -1.5)"/>
<path d="M1325.3 374.7L1329.4 374.2L1335.3 373.5L1341.9 372.7L1347.8 371.7L1352.8 370.6L1357.6 369.4L1362.2 368.1L1366.8 366.5L1371.3 364.8L1375.7 362.9L1380.0 360.9L1384.0 358.8L1387.8 356.5L1391.4 354.2L1394.8 351.8L1397.9 349.2L1400.8 346.2L1403.5 342.9L1405.8 339.8L1407.4 337.7L1407.8 335.5L1408.5 332.3L1409.2 328.9L1409.6 325.9L1409.7 323.6L1409.7 321.7L1409.4 319.7L1409.1 317.4L1408.7 314.6L1408.1 311.5L1407.4 308.4L1406.5 305.3L1405.5 302.3L1404.3 299.3L1402.9 296.3L1401.3 293.2L1399.4 290.0L1397.2 286.9L1394.9 283.6L1392.7 280.2L1390.5 276.6L1388.2 272.9L1386.0 269.1L1384.0 265.5L1382.3 261.8L1380.7 257.9L1379.4 254.4L1378.5 252.0" stroke="#fffdc8" stroke-width="1.8" stroke-linejoin="round" stroke-linecap="round" fill="none" transform="translate(-3.2 -3.2)" opacity="0.5"/>
<path d="M1378.5 252.0L1377.9 249.5L1377.1 245.9L1376.2 241.8L1375.4 237.9L1374.8 234.1L1374.1 230.3L1373.6 226.4L1373.2 222.3L1372.8 218.1L1372.5 213.8L1372.4 209.4L1372.3 205.0L1372.3 200.7L1372.5 196.4L1372.7 192.1L1373.2 187.8L1373.8 183.4L1374.5 179.0L1375.4 174.7L1376.3 170.5L1377.3 166.2L1378.5 161.8L1379.5 158.0L1380.2 155.3" stroke="#123c06" stroke-width="16.0" stroke-linejoin="round" fill="none"/>
<path d="M1378.5 252.0L1377.9 249.5L1377.1 245.9L1376.2 241.8L1375.4 237.9L1374.8 234.1L1374.1 230.3L1373.6 226.4L1373.2 222.3L1372.8 218.1L1372.5 213.8L1372.4 209.4L1372.3 205.0L1372.3 200.7L1372.5 196.4L1372.7 192.1L1373.2 187.8L1373.8 183.4L1374.5 179.0L1375.4 174.7L1376.3 170.5L1377.3 166.2L1378.5 161.8L1379.5 158.0L1380.2 155.3" stroke="#2a9412" stroke-width="14.8" stroke-linejoin="round" fill="none" transform="translate(-0.25 -0.25)"/>
<path d="M1378.5 252.0L1377.9 249.5L1377.1 245.9L1376.2 241.8L1375.4 237.9L1374.8 234.1L1374.1 230.3L1373.6 226.4L1373.2 222.3L1372.8 218.1L1372.5 213.8L1372.4 209.4L1372.3 205.0L1372.3 200.7L1372.5 196.4L1372.7 192.1L1373.2 187.8L1373.8 183.4L1374.5 179.0L1375.4 174.7L1376.3 170.5L1377.3 166.2L1378.5 161.8L1379.5 158.0L1380.2 155.3" stroke="#55b808" stroke-width="13.2" stroke-linejoin="round" fill="none" transform="translate(-0.8 -0.8)"/>
<path d="M1378.5 252.0L1377.9 249.5L1377.1 245.9L1376.2 241.8L1375.4 237.9L1374.8 234.1L1374.1 230.3L1373.6 226.4L1373.2 222.3L1372.8 218.1L1372.5 213.8L1372.4 209.4L1372.3 205.0L1372.3 200.7L1372.5 196.4L1372.7 192.1L1373.2 187.8L1373.8 183.4L1374.5 179.0L1375.4 174.7L1376.3 170.5L1377.3 166.2L1378.5 161.8L1379.5 158.0L1380.2 155.3" stroke="#6cc400" stroke-width="11.4" stroke-linejoin="round" fill="none" transform="translate(-1.5 -1.5)"/>
<path d="M1378.5 252.0L1377.9 249.5L1377.1 245.9L1376.2 241.8L1375.4 237.9L1374.8 234.1L1374.1 230.3L1373.6 226.4L1373.2 222.3L1372.8 218.1L1372.5 213.8L1372.4 209.4L1372.3 205.0L1372.3 200.7L1372.5 196.4L1372.7 192.1L1373.2 187.8L1373.8 183.4L1374.5 179.0L1375.4 174.7L1376.3 170.5L1377.3 166.2L1378.5 161.8L1379.5 158.0L1380.2 155.3" stroke="#e2f9b4" stroke-width="1.8" stroke-linejoin="round" stroke-linecap="round" fill="none" transform="translate(-3.2 -3.2)" opacity="0.5"/>
<path d="M1510.2 169.6L1517.5 197.3" stroke="#363204" stroke-width="13.6" stroke-linejoin="round" fill="none"/>
<circle cx="1510.2" cy="169.6" r="6.8" fill="#363204"/>
<circle cx="1517.5" cy="197.3" r="6.8" fill="#363204"/>
<path d="M1510.2 169.6L1517.5 197.3" stroke="#665f10" stroke-width="12.4" stroke-linejoin="round" fill="none" transform="translate(-0.25 -0.25)"/>
<circle cx="1510.2" cy="169.6" r="6.2" fill="#665f10" transform="translate(-0.25 -0.25)"/>
<circle cx="1517.5" cy="197.3" r="6.2" fill="#665f10" transform="translate(-0.25 -0.25)"/>
<path d="M1510.2 169.6L1517.5 197.3" stroke="#88801c" stroke-width="10.8" stroke-linejoin="round" fill="none" transform="translate(-0.8 -0.8)"/>
<circle cx="1510.2" cy="169.6" r="5.4" fill="#88801c" transform="translate(-0.8 -0.8)"/>
<circle cx="1517.5" cy="197.3" r="5.4" fill="#88801c" transform="translate(-0.8 -0.8)"/>
<path d="M1510.2 169.6L1517.5 197.3" stroke="#9c9420" stroke-width="9.0" stroke-linejoin="round" fill="none" transform="translate(-1.5 -1.5)"/>
<circle cx="1510.2" cy="169.6" r="4.5" fill="#9c9420" transform="translate(-1.5 -1.5)"/>
<circle cx="1517.5" cy="197.3" r="4.5" fill="#9c9420" transform="translate(-1.5 -1.5)"/>
<path d="M1510.2 169.6L1517.5 197.3" stroke="#d8d070" stroke-width="1.5" stroke-linejoin="round" stroke-linecap="round" fill="none" transform="translate(-2.7 -2.7)" opacity="0.2"/>
<path d="M1471.3 239.6L1463.9 215.8" stroke="#363204" stroke-width="13.6" stroke-linejoin="round" fill="none"/>
<circle cx="1471.3" cy="239.6" r="6.8" fill="#363204"/>
<circle cx="1463.9" cy="215.8" r="6.8" fill="#363204"/>
<path d="M1471.3 239.6L1463.9 215.8" stroke="#665f10" stroke-width="12.4" stroke-linejoin="round" fill="none" transform="translate(-0.25 -0.25)"/>
<circle cx="1471.3" cy="239.6" r="6.2" fill="#665f10" transform="translate(-0.25 -0.25)"/>
<circle cx="1463.9" cy="215.8" r="6.2" fill="#665f10" transform="translate(-0.25 -0.25)"/>
<path d="M1471.3 239.6L1463.9 215.8" stroke="#88801c" stroke-width="10.8" stroke-linejoin="round" fill="none" transform="translate(-0.8 -0.8)"/>
<circle cx="1471.3" cy="239.6" r="5.4" fill="#88801c" transform="translate(-0.8 -0.8)"/>
<circle cx="1463.9" cy="215.8" r="5.4" fill="#88801c" transform="translate(-0.8 -0.8)"/>
<path d="M1471.3 239.6L1463.9 215.8" stroke="#9c9420" stroke-width="9.0" stroke-linejoin="round" fill="none" transform="translate(-1.5 -1.5)"/>
<circle cx="1471.3" cy="239.6" r="4.5" fill="#9c9420" transform="translate(-1.5 -1.5)"/>
<circle cx="1463.9" cy="215.8" r="4.5" fill="#9c9420" transform="translate(-1.5 -1.5)"/>
<path d="M1471.3 239.6L1463.9 215.8" stroke="#d8d070" stroke-width="1.5" stroke-linejoin="round" stroke-linecap="round" fill="none" transform="translate(-2.7 -2.7)" opacity="0.2"/>
<path d="M1518.1 153.6L1525.9 137.6" stroke="#480a04" stroke-width="12.2" stroke-linejoin="round" fill="none"/>
<circle cx="1525.9" cy="137.6" r="6.1" fill="#480a04"/>
<path d="M1518.1 153.6L1525.9 137.6" stroke="#981c10" stroke-width="11.0" stroke-linejoin="round" fill="none" transform="translate(-0.25 -0.25)"/>
<circle cx="1525.9" cy="137.6" r="5.5" fill="#981c10" transform="translate(-0.25 -0.25)"/>
<path d="M1518.1 153.6L1525.9 137.6" stroke="#c42618" stroke-width="9.4" stroke-linejoin="round" fill="none" transform="translate(-0.8 -0.8)"/>
<circle cx="1525.9" cy="137.6" r="4.7" fill="#c42618" transform="translate(-0.8 -0.8)"/>
<path d="M1518.1 153.6L1525.9 137.6" stroke="#dc2a1c" stroke-width="7.6" stroke-linejoin="round" fill="none" transform="translate(-1.5 -1.5)"/>
<circle cx="1525.9" cy="137.6" r="3.8" fill="#dc2a1c" transform="translate(-1.5 -1.5)"/>
<path d="M1518.1 153.6L1525.9 137.6" stroke="#ffa595" stroke-width="1.3" stroke-linejoin="round" stroke-linecap="round" fill="none" transform="translate(-2.4 -2.4)" opacity="0.5"/>
<path d="M1517.5 197.3L1500.7 229.2L1471.3 239.6" stroke="#3e3a02" stroke-width="12.2" stroke-linejoin="round" fill="none"/>
<circle cx="1517.5" cy="197.3" r="6.1" fill="#3e3a02"/>
<circle cx="1471.3" cy="239.6" r="6.1" fill="#3e3a02"/>
<path d="M1517.5 197.3L1500.7 229.2L1471.3 239.6" stroke="#9a8e12" stroke-width="11.0" stroke-linejoin="round" fill="none" transform="translate(-0.25 -0.25)"/>
<circle cx="1517.5" cy="197.3" r="5.5" fill="#9a8e12" transform="translate(-0.25 -0.25)"/>
<circle cx="1471.3" cy="239.6" r="5.5" fill="#9a8e12" transform="translate(-0.25 -0.25)"/>
<path d="M1517.5 197.3L1500.7 229.2L1471.3 239.6" stroke="#d9c918" stroke-width="9.4" stroke-linejoin="round" fill="none" transform="translate(-0.8 -0.8)"/>
<circle cx="1517.5" cy="197.3" r="4.7" fill="#d9c918" transform="translate(-0.8 -0.8)"/>
<circle cx="1471.3" cy="239.6" r="4.7" fill="#d9c918" transform="translate(-0.8 -0.8)"/>
<path d="M1517.5 197.3L1500.7 229.2L1471.3 239.6" stroke="#f4e31c" stroke-width="7.6" stroke-linejoin="round" fill="none" transform="translate(-1.5 -1.5)"/>
<circle cx="1517.5" cy="197.3" r="3.8" fill="#f4e31c" transform="translate(-1.5 -1.5)"/>
<circle cx="1471.3" cy="239.6" r="3.8" fill="#f4e31c" transform="translate(-1.5 -1.5)"/>
<path d="M1517.5 197.3L1500.7 229.2L1471.3 239.6" stroke="#fffdc8" stroke-width="1.3" stroke-linejoin="round" stroke-linecap="round" fill="none" transform="translate(-2.4 -2.4)" opacity="0.5"/>
<path d="M1463.9 215.8L1481.9 181.7L1510.2 169.6L1518.1 153.6" stroke="#3e3a02" stroke-width="12.2" stroke-linejoin="round" fill="none"/>
<circle cx="1463.9" cy="215.8" r="6.1" fill="#3e3a02"/>
<path d="M1463.9 215.8L1481.9 181.7L1510.2 169.6L1518.1 153.6" stroke="#9a8e12" stroke-width="11.0" stroke-linejoin="round" fill="none" transform="translate(-0.25 -0.25)"/>
<circle cx="1463.9" cy="215.8" r="5.5" fill="#9a8e12" transform="translate(-0.25 -0.25)"/>
<path d="M1463.9 215.8L1481.9 181.7L1510.2 169.6L1518.1 153.6" stroke="#d9c918" stroke-width="9.4" stroke-linejoin="round" fill="none" transform="translate(-0.8 -0.8)"/>
<circle cx="1463.9" cy="215.8" r="4.7" fill="#d9c918" transform="translate(-0.8 -0.8)"/>
<path d="M1463.9 215.8L1481.9 181.7L1510.2 169.6L1518.1 153.6" stroke="#f4e31c" stroke-width="7.6" stroke-linejoin="round" fill="none" transform="translate(-1.5 -1.5)"/>
<circle cx="1463.9" cy="215.8" r="3.8" fill="#f4e31c" transform="translate(-1.5 -1.5)"/>
<path d="M1463.9 215.8L1481.9 181.7L1510.2 169.6L1518.1 153.6" stroke="#fffdc8" stroke-width="1.3" stroke-linejoin="round" stroke-linecap="round" fill="none" transform="translate(-2.4 -2.4)" opacity="0.5"/>
<path d="M1471.3 239.6L1451.4 276.8L1406.5 294.0" stroke="#3e3a02" stroke-width="12.2" stroke-linejoin="round" fill="none"/>
<circle cx="1471.3" cy="239.6" r="6.1" fill="#3e3a02"/>
<circle cx="1406.5" cy="294.0" r="6.1" fill="#3e3a02"/>
<path d="M1471.3 239.6L1451.4 276.8L1406.5 294.0" stroke="#9a8e12" stroke-width="11.0" stroke-linejoin="round" fill="none" transform="translate(-0.25 -0.25)"/>
<circle cx="1471.3" cy="239.6" r="5.5" fill="#9a8e12" transform="translate(-0.25 -0.25)"/>
<circle cx="1406.5" cy="294.0" r="5.5" fill="#9a8e12" transform="translate(-0.25 -0.25)"/>
<path d="M1471.3 239.6L1451.4 276.8L1406.5 294.0" stroke="#d9c918" stroke-width="9.4" stroke-linejoin="round" fill="none" transform="translate(-0.8 -0.8)"/>
<circle cx="1471.3" cy="239.6" r="4.7" fill="#d9c918" transform="translate(-0.8 -0.8)"/>
<circle cx="1406.5" cy="294.0" r="4.7" fill="#d9c918" transform="translate(-0.8 -0.8)"/>
<path d="M1471.3 239.6L1451.4 276.8L1406.5 294.0" stroke="#f4e31c" stroke-width="7.6" stroke-linejoin="round" fill="none" transform="translate(-1.5 -1.5)"/>
<circle cx="1471.3" cy="239.6" r="3.8" fill="#f4e31c" transform="translate(-1.5 -1.5)"/>
<circle cx="1406.5" cy="294.0" r="3.8" fill="#f4e31c" transform="translate(-1.5 -1.5)"/>
<path d="M1471.3 239.6L1451.4 276.8L1406.5 294.0" stroke="#fffdc8" stroke-width="1.3" stroke-linejoin="round" stroke-linecap="round" fill="none" transform="translate(-2.4 -2.4)" opacity="0.5"/>
<path d="M1537.2 179.1L1608.5 224.4L1615.1 245.6" stroke="#4a0c06" stroke-width="12.2" stroke-linejoin="round" fill="none"/>
<circle cx="1537.2" cy="179.1" r="6.1" fill="#4a0c06"/>
<path d="M1537.2 179.1L1608.5 224.4L1615.1 245.6" stroke="#9c1e12" stroke-width="11.0" stroke-linejoin="round" fill="none" transform="translate(-0.25 -0.25)"/>
<circle cx="1537.2" cy="179.1" r="5.5" fill="#9c1e12" transform="translate(-0.25 -0.25)"/>
<path d="M1537.2 179.1L1608.5 224.4L1615.1 245.6" stroke="#c8281a" stroke-width="9.4" stroke-linejoin="round" fill="none" transform="translate(-0.8 -0.8)"/>
<circle cx="1537.2" cy="179.1" r="4.7" fill="#c8281a" transform="translate(-0.8 -0.8)"/>
<path d="M1537.2 179.1L1608.5 224.4L1615.1 245.6" stroke="#de2d1e" stroke-width="7.6" stroke-linejoin="round" fill="none" transform="translate(-1.5 -1.5)"/>
<circle cx="1537.2" cy="179.1" r="3.8" fill="#de2d1e" transform="translate(-1.5 -1.5)"/>
<path d="M1537.2 179.1L1608.5 224.4L1615.1 245.6" stroke="#ffb0a2" stroke-width="1.3" stroke-linejoin="round" stroke-linecap="round" fill="none" transform="translate(-2.4 -2.4)" opacity="0.5"/>
<path d="M1615.1 245.6L1620.4 262.9" stroke="#4a0c06" stroke-width="12.2" stroke-linejoin="round" fill="none"/>
<circle cx="1620.4" cy="262.9" r="6.1" fill="#4a0c06"/>
<path d="M1615.1 245.6L1620.4 262.9" stroke="#9c1e12" stroke-width="11.0" stroke-linejoin="round" fill="none" transform="translate(-0.25 -0.25)"/>
<circle cx="1620.4" cy="262.9" r="5.5" fill="#9c1e12" transform="translate(-0.25 -0.25)"/>
<path d="M1615.1 245.6L1620.4 262.9" stroke="#c8281a" stroke-width="9.4" stroke-linejoin="round" fill="none" transform="translate(-0.8 -0.8)"/>
<circle cx="1620.4" cy="262.9" r="4.7" fill="#c8281a" transform="translate(-0.8 -0.8)"/>
<path d="M1615.1 245.6L1620.4 262.9" stroke="#de2d1e" stroke-width="7.6" stroke-linejoin="round" fill="none" transform="translate(-1.5 -1.5)"/>
<circle cx="1620.4" cy="262.9" r="3.8" fill="#de2d1e" transform="translate(-1.5 -1.5)"/>
<path d="M1615.1 245.6L1620.4 262.9" stroke="#ffb0a2" stroke-width="1.3" stroke-linejoin="round" stroke-linecap="round" fill="none" transform="translate(-2.4 -2.4)" opacity="0.5"/>
<path d="M1539.4 134.5L1545.3 139.0L1544.6 153.2L1540.6 170.5L1535.4 189.5L1529.4 204.7L1520.4 203.3L1525.9 179.1L1530.8 158.4L1534.6 139.4Z" fill="#de2d1e" stroke="#4a0c06" stroke-width="1.2" stroke-linejoin="round"/>
<path d="M1545.3 139.0L1544.6 153.2L1540.6 170.5L1535.4 189.5L1529.4 204.7L1525.9 204.2L1532.8 186.0L1538.4 168.8L1541.5 153.2L1542.3 138.5Z" fill="#9c1e12"/>
<path d="M1538.4 140.2L1533.9 167.0L1527.6 192.9" stroke="#ffb0a2" stroke-width="1.6" fill="none" stroke-linecap="round" stroke-linejoin="round" opacity="0.8"/>
<path d="M1617.5 348.1L1656.4 344.0L1689.2 378.0" stroke="#4a0c06" stroke-width="12.6" stroke-linejoin="round" fill="none"/>
<circle cx="1617.5" cy="348.1" r="6.3" fill="#4a0c06"/>
<circle cx="1689.2" cy="378.0" r="6.3" fill="#4a0c06"/>
<path d="M1617.5 348.1L1656.4 344.0L1689.2 378.0" stroke="#9c1e12" stroke-width="11.4" stroke-linejoin="round" fill="none" transform="translate(-0.25 -0.25)"/>
<circle cx="1617.5" cy="348.1" r="5.7" fill="#9c1e12" transform="translate(-0.25 -0.25)"/>
<circle cx="1689.2" cy="378.0" r="5.7" fill="#9c1e12" transform="translate(-0.25 -0.25)"/>
<path d="M1617.5 348.1L1656.4 344.0L1689.2 378.0" stroke="#c8281a" stroke-width="9.8" stroke-linejoin="round" fill="none" transform="translate(-0.8 -0.8)"/>
<circle cx="1617.5" cy="348.1" r="4.9" fill="#c8281a" transform="translate(-0.8 -0.8)"/>
<circle cx="1689.2" cy="378.0" r="4.9" fill="#c8281a" transform="translate(-0.8 -0.8)"/>
<path d="M1617.5 348.1L1656.4 344.0L1689.2 378.0" stroke="#de2d1e" stroke-width="8.0" stroke-linejoin="round" fill="none" transform="translate(-1.5 -1.5)"/>
<circle cx="1617.5" cy="348.1" r="4.0" fill="#de2d1e" transform="translate(-1.5 -1.5)"/>
<circle cx="1689.2" cy="378.0" r="4.0" fill="#de2d1e" transform="translate(-1.5 -1.5)"/>
<path d="M1617.5 348.1L1656.4 344.0L1689.2 378.0" stroke="#ffb0a2" stroke-width="1.4" stroke-linejoin="round" stroke-linecap="round" fill="none" transform="translate(-2.5 -2.5)" opacity="0.2"/>
<path d="M1719.8 368.8L1719.8 406.5" stroke="#363204" stroke-width="12.8" stroke-linejoin="round" fill="none"/>
<circle cx="1719.8" cy="368.8" r="6.4" fill="#363204"/>
<circle cx="1719.8" cy="406.5" r="6.4" fill="#363204"/>
<path d="M1719.8 368.8L1719.8 406.5" stroke="#665f10" stroke-width="11.6" stroke-linejoin="round" fill="none" transform="translate(-0.25 -0.25)"/>
<circle cx="1719.8" cy="368.8" r="5.8" fill="#665f10" transform="translate(-0.25 -0.25)"/>
<circle cx="1719.8" cy="406.5" r="5.8" fill="#665f10" transform="translate(-0.25 -0.25)"/>
<path d="M1719.8 368.8L1719.8 406.5" stroke="#88801c" stroke-width="10.0" stroke-linejoin="round" fill="none" transform="translate(-0.8 -0.8)"/>
<circle cx="1719.8" cy="368.8" r="5.0" fill="#88801c" transform="translate(-0.8 -0.8)"/>
<circle cx="1719.8" cy="406.5" r="5.0" fill="#88801c" transform="translate(-0.8 -0.8)"/>
<path d="M1719.8 368.8L1719.8 406.5" stroke="#9c9420" stroke-width="8.2" stroke-linejoin="round" fill="none" transform="translate(-1.5 -1.5)"/>
<circle cx="1719.8" cy="368.8" r="4.1" fill="#9c9420" transform="translate(-1.5 -1.5)"/>
<circle cx="1719.8" cy="406.5" r="4.1" fill="#9c9420" transform="translate(-1.5 -1.5)"/>
<path d="M1719.8 368.8L1719.8 406.5" stroke="#d8d070" stroke-width="1.4" stroke-linejoin="round" stroke-linecap="round" fill="none" transform="translate(-2.6 -2.6)" opacity="0.5"/>
<path d="M1700.6 360.7L1681.4 352.6" stroke="#480a04" stroke-width="12.2" stroke-linejoin="round" fill="none"/>
<circle cx="1681.4" cy="352.6" r="6.1" fill="#480a04"/>
<path d="M1700.6 360.7L1681.4 352.6" stroke="#981c10" stroke-width="11.0" stroke-linejoin="round" fill="none" transform="translate(-0.25 -0.25)"/>
<circle cx="1681.4" cy="352.6" r="5.5" fill="#981c10" transform="translate(-0.25 -0.25)"/>
<path d="M1700.6 360.7L1681.4 352.6" stroke="#c42618" stroke-width="9.4" stroke-linejoin="round" fill="none" transform="translate(-0.8 -0.8)"/>
<circle cx="1681.4" cy="352.6" r="4.7" fill="#c42618" transform="translate(-0.8 -0.8)"/>
<path d="M1700.6 360.7L1681.4 352.6" stroke="#dc2a1c" stroke-width="7.6" stroke-linejoin="round" fill="none" transform="translate(-1.5 -1.5)"/>
<circle cx="1681.4" cy="352.6" r="3.8" fill="#dc2a1c" transform="translate(-1.5 -1.5)"/>
<path d="M1700.6 360.7L1681.4 352.6" stroke="#ffa595" stroke-width="1.3" stroke-linejoin="round" stroke-linecap="round" fill="none" transform="translate(-2.4 -2.4)" opacity="0.5"/>
<path d="M1719.8 368.8L1700.6 360.7" stroke="#3e3a02" stroke-width="12.2" stroke-linejoin="round" fill="none"/>
<circle cx="1719.8" cy="368.8" r="6.1" fill="#3e3a02"/>
<path d="M1719.8 368.8L1700.6 360.7" stroke="#9a8e12" stroke-width="11.0" stroke-linejoin="round" fill="none" transform="translate(-0.25 -0.25)"/>
<circle cx="1719.8" cy="368.8" r="5.5" fill="#9a8e12" transform="translate(-0.25 -0.25)"/>
<path d="M1719.8 368.8L1700.6 360.7" stroke="#d9c918" stroke-width="9.4" stroke-linejoin="round" fill="none" transform="translate(-0.8 -0.8)"/>
<circle cx="1719.8" cy="368.8" r="4.7" fill="#d9c918" transform="translate(-0.8 -0.8)"/>
<path d="M1719.8 368.8L1700.6 360.7" stroke="#f4e31c" stroke-width="7.6" stroke-linejoin="round" fill="none" transform="translate(-1.5 -1.5)"/>
<circle cx="1719.8" cy="368.8" r="3.8" fill="#f4e31c" transform="translate(-1.5 -1.5)"/>
<path d="M1719.8 368.8L1700.6 360.7" stroke="#fffdc8" stroke-width="1.3" stroke-linejoin="round" stroke-linecap="round" fill="none" transform="translate(-2.4 -2.4)" opacity="0.5"/>
<path d="M1772.2 242.2L1739.3 261.7L1709.1 234.1L1678.0 248.6" stroke="#64222a" stroke-width="12.2" stroke-linejoin="round" fill="none"/>
<circle cx="1772.2" cy="242.2" r="6.1" fill="#64222a"/>
<circle cx="1678.0" cy="248.6" r="6.1" fill="#64222a"/>
<path d="M1772.2 242.2L1739.3 261.7L1709.1 234.1L1678.0 248.6" stroke="#b04042" stroke-width="11.0" stroke-linejoin="round" fill="none" transform="translate(-0.25 -0.25)"/>
<circle cx="1772.2" cy="242.2" r="5.5" fill="#b04042" transform="translate(-0.25 -0.25)"/>
<circle cx="1678.0" cy="248.6" r="5.5" fill="#b04042" transform="translate(-0.25 -0.25)"/>
<path d="M1772.2 242.2L1739.3 261.7L1709.1 234.1L1678.0 248.6" stroke="#d05052" stroke-width="9.4" stroke-linejoin="round" fill="none" transform="translate(-0.8 -0.8)"/>
<circle cx="1772.2" cy="242.2" r="4.7" fill="#d05052" transform="translate(-0.8 -0.8)"/>
<circle cx="1678.0" cy="248.6" r="4.7" fill="#d05052" transform="translate(-0.8 -0.8)"/>
<path d="M1772.2 242.2L1739.3 261.7L1709.1 234.1L1678.0 248.6" stroke="#e5595a" stroke-width="7.6" stroke-linejoin="round" fill="none" transform="translate(-1.5 -1.5)"/>
<circle cx="1772.2" cy="242.2" r="3.8" fill="#e5595a" transform="translate(-1.5 -1.5)"/>
<circle cx="1678.0" cy="248.6" r="3.8" fill="#e5595a" transform="translate(-1.5 -1.5)"/>
<path d="M1772.2 242.2L1739.3 261.7L1709.1 234.1L1678.0 248.6" stroke="#ffc0c0" stroke-width="1.3" stroke-linejoin="round" stroke-linecap="round" fill="none" transform="translate(-2.4 -2.4)" opacity="0.5"/>
<circle cx="1684.6" cy="248.2" r="6.3" fill="#12143e"/>
<circle cx="1684.2" cy="247.8" r="5.4" fill="#4652b4"/>
<circle cx="1685.2" cy="246.6" r="1.9" fill="#c0c8f8"/>
<path d="M1787.5 243.1L1784.5 272.4" stroke="#380a06" stroke-width="12.8" stroke-linejoin="round" fill="none"/>
<circle cx="1787.5" cy="243.1" r="6.4" fill="#380a06"/>
<circle cx="1784.5" cy="272.4" r="6.4" fill="#380a06"/>
<path d="M1787.5 243.1L1784.5 272.4" stroke="#721a14" stroke-width="11.6" stroke-linejoin="round" fill="none" transform="translate(-0.25 -0.25)"/>
<circle cx="1787.5" cy="243.1" r="5.8" fill="#721a14" transform="translate(-0.25 -0.25)"/>
<circle cx="1784.5" cy="272.4" r="5.8" fill="#721a14" transform="translate(-0.25 -0.25)"/>
<path d="M1787.5 243.1L1784.5 272.4" stroke="#94241c" stroke-width="10.0" stroke-linejoin="round" fill="none" transform="translate(-0.8 -0.8)"/>
<circle cx="1787.5" cy="243.1" r="5.0" fill="#94241c" transform="translate(-0.8 -0.8)"/>
<circle cx="1784.5" cy="272.4" r="5.0" fill="#94241c" transform="translate(-0.8 -0.8)"/>
<path d="M1787.5 243.1L1784.5 272.4" stroke="#a82a22" stroke-width="8.2" stroke-linejoin="round" fill="none" transform="translate(-1.5 -1.5)"/>
<circle cx="1787.5" cy="243.1" r="4.1" fill="#a82a22" transform="translate(-1.5 -1.5)"/>
<circle cx="1784.5" cy="272.4" r="4.1" fill="#a82a22" transform="translate(-1.5 -1.5)"/>
<path d="M1787.5 243.1L1784.5 272.4" stroke="#e08078" stroke-width="1.4" stroke-linejoin="round" stroke-linecap="round" fill="none" transform="translate(-2.6 -2.6)" opacity="0.5"/>
<path d="M1769.6 234.6L1751.7 226.1" stroke="#4a0c06" stroke-width="12.2" stroke-linejoin="round" fill="none"/>
<circle cx="1751.7" cy="226.1" r="6.1" fill="#4a0c06"/>
<path d="M1769.6 234.6L1751.7 226.1" stroke="#9c1e12" stroke-width="11.0" stroke-linejoin="round" fill="none" transform="translate(-0.25 -0.25)"/>
<circle cx="1751.7" cy="226.1" r="5.5" fill="#9c1e12" transform="translate(-0.25 -0.25)"/>
<path d="M1769.6 234.6L1751.7 226.1" stroke="#c8281a" stroke-width="9.4" stroke-linejoin="round" fill="none" transform="translate(-0.8 -0.8)"/>
<circle cx="1751.7" cy="226.1" r="4.7" fill="#c8281a" transform="translate(-0.8 -0.8)"/>
<path d="M1769.6 234.6L1751.7 226.1" stroke="#de2d1e" stroke-width="7.6" stroke-linejoin="round" fill="none" transform="translate(-1.5 -1.5)"/>
<circle cx="1751.7" cy="226.1" r="3.8" fill="#de2d1e" transform="translate(-1.5 -1.5)"/>
<path d="M1769.6 234.6L1751.7 226.1" stroke="#ffb0a2" stroke-width="1.3" stroke-linejoin="round" stroke-linecap="round" fill="none" transform="translate(-2.4 -2.4)" opacity="0.5"/>
<path d="M1769.6 234.6L1787.5 243.1L1820.0 213.2" stroke="#4a0c06" stroke-width="12.2" stroke-linejoin="round" fill="none"/>
<circle cx="1820.0" cy="213.2" r="6.1" fill="#4a0c06"/>
<path d="M1769.6 234.6L1787.5 243.1L1820.0 213.2" stroke="#9c1e12" stroke-width="11.0" stroke-linejoin="round" fill="none" transform="translate(-0.25 -0.25)"/>
<circle cx="1820.0" cy="213.2" r="5.5" fill="#9c1e12" transform="translate(-0.25 -0.25)"/>
<path d="M1769.6 234.6L1787.5 243.1L1820.0 213.2" stroke="#c8281a" stroke-width="9.4" stroke-linejoin="round" fill="none" transform="translate(-0.8 -0.8)"/>
<circle cx="1820.0" cy="213.2" r="4.7" fill="#c8281a" transform="translate(-0.8 -0.8)"/>
<path d="M1769.6 234.6L1787.5 243.1L1820.0 213.2" stroke="#de2d1e" stroke-width="7.6" stroke-linejoin="round" fill="none" transform="translate(-1.5 -1.5)"/>
<circle cx="1820.0" cy="213.2" r="3.8" fill="#de2d1e" transform="translate(-1.5 -1.5)"/>
<path d="M1769.6 234.6L1787.5 243.1L1820.0 213.2" stroke="#ffb0a2" stroke-width="1.3" stroke-linejoin="round" stroke-linecap="round" fill="none" transform="translate(-2.4 -2.4)" opacity="0.5"/>
<defs><linearGradient id="rgc" gradientUnits="userSpaceOnUse" x1="1927" y1="285" x2="1957" y2="309"><stop offset="0" stop-color="#74c800"/><stop offset="0.14" stop-color="#5cc000"/><stop offset="0.34" stop-color="#19aa28"/><stop offset="0.62" stop-color="#0f7d32"/><stop offset="1" stop-color="#2d4b19"/></linearGradient></defs>
<path d="M1910.2 315.7L1911.6 313.3L1913.6 309.8L1916.0 305.8L1918.4 302.0L1920.9 298.2L1923.7 294.2L1926.5 290.4L1929.3 286.9L1932.0 283.9L1934.7 281.3L1937.5 278.9L1940.3 276.6L1943.1 274.4L1946.0 272.2L1948.9 270.3L1952.0 268.4L1955.3 266.6L1958.7 265.0L1962.2 263.5L1965.7 262.2L1969.3 261.2L1972.9 260.4L1976.4 259.7L1979.4 259.1L1982.0 258.6L1984.4 258.2L1986.3 257.8L1987.6 257.6L1989.0 272.0L1987.6 272.3L1985.6 272.8L1983.4 273.5L1981.4 274.5L1979.7 275.8L1978.1 277.2L1976.4 279.1L1974.6 281.4L1972.6 284.2L1970.4 287.4L1968.1 291.0L1965.7 295.1L1963.2 299.8L1960.6 305.0L1958.0 310.4L1955.4 315.7L1952.7 321.2L1950.0 326.8L1947.4 332.1L1945.1 336.2L1943.0 338.9L1941.1 340.7L1939.4 341.8L1938.3 342.6L1933.5 342.4L1921.1 331.4L1910.2 317.7Z" fill="url(#rgc)"/>
<path d="M1910.2 315.7L1921.1 322.8L1933.5 334.4L1939.2 342.6L1933.5 342.6L1921.1 331.6L1909.8 318.0Z" fill="#1f2e1a"/>
<ellipse cx="1986.8" cy="265.6" rx="8.2" ry="7.6" transform="rotate(-25 1986.8 265.6)" fill="#0c8732"/>
<path d="M1811.6 168.9L1800.6 160.0" stroke="#12143e" stroke-width="12.2" stroke-linejoin="round" fill="none"/>
<circle cx="1800.6" cy="160.0" r="6.1" fill="#12143e"/>
<path d="M1811.6 168.9L1800.6 160.0" stroke="#2b3384" stroke-width="11.0" stroke-linejoin="round" fill="none" transform="translate(-0.25 -0.25)"/>
<circle cx="1800.6" cy="160.0" r="5.5" fill="#2b3384" transform="translate(-0.25 -0.25)"/>
<path d="M1811.6 168.9L1800.6 160.0" stroke="#3c47a4" stroke-width="9.4" stroke-linejoin="round" fill="none" transform="translate(-0.8 -0.8)"/>
<circle cx="1800.6" cy="160.0" r="4.7" fill="#3c47a4" transform="translate(-0.8 -0.8)"/>
<path d="M1811.6 168.9L1800.6 160.0" stroke="#4652b4" stroke-width="7.6" stroke-linejoin="round" fill="none" transform="translate(-1.5 -1.5)"/>
<circle cx="1800.6" cy="160.0" r="3.8" fill="#4652b4" transform="translate(-1.5 -1.5)"/>
<path d="M1811.6 168.9L1800.6 160.0" stroke="#c0c8f8" stroke-width="1.3" stroke-linejoin="round" stroke-linecap="round" fill="none" transform="translate(-2.4 -2.4)" opacity="0.5"/>
<path d="M1939.5 275.5L1911.9 246.3L1872.3 258.6L1840.6 226.8L1840.6 221.0" stroke="#123c06" stroke-width="12.2" stroke-linejoin="round" fill="none"/>
<path d="M1939.5 275.5L1911.9 246.3L1872.3 258.6L1840.6 226.8L1840.6 221.0" stroke="#2a9412" stroke-width="11.0" stroke-linejoin="round" fill="none" transform="translate(-0.25 -0.25)"/>
<path d="M1939.5 275.5L1911.9 246.3L1872.3 258.6L1840.6 226.8L1840.6 221.0" stroke="#55b808" stroke-width="9.4" stroke-linejoin="round" fill="none" transform="translate(-0.8 -0.8)"/>
<path d="M1939.5 275.5L1911.9 246.3L1872.3 258.6L1840.6 226.8L1840.6 221.0" stroke="#6cc400" stroke-width="7.6" stroke-linejoin="round" fill="none" transform="translate(-1.5 -1.5)"/>
<path d="M1939.5 275.5L1911.9 246.3L1872.3 258.6L1840.6 226.8L1840.6 221.0" stroke="#e2f9b4" stroke-width="1.3" stroke-linejoin="round" stroke-linecap="round" fill="none" transform="translate(-2.4 -2.4)" opacity="0.5"/>
<path d="M1840.6 222.0L1840.6 211.5L1834.5 202.3" stroke="#12143e" stroke-width="12.2" stroke-linejoin="round" fill="none"/>
<path d="M1840.6 222.0L1840.6 211.5L1834.5 202.3" stroke="#2b3384" stroke-width="11.0" stroke-linejoin="round" fill="none" transform="translate(-0.25 -0.25)"/>
<path d="M1840.6 222.0L1840.6 211.5L1834.5 202.3" stroke="#3c47a4" stroke-width="9.4" stroke-linejoin="round" fill="none" transform="translate(-0.8 -0.8)"/>
<path d="M1840.6 222.0L1840.6 211.5L1834.5 202.3" stroke="#4652b4" stroke-width="7.6" stroke-linejoin="round" fill="none" transform="translate(-1.5 -1.5)"/>
<path d="M1840.6 222.0L1840.6 211.5L1834.5 202.3" stroke="#c0c8f8" stroke-width="1.3" stroke-linejoin="round" stroke-linecap="round" fill="none" transform="translate(-2.4 -2.4)" opacity="0.5"/>
<path d="M1834.5 202.3L1830.2 195.3L1822.1 180.5L1811.6 168.9" stroke="#123c06" stroke-width="12.2" stroke-linejoin="round" fill="none"/>
<path d="M1834.5 202.3L1830.2 195.3L1822.1 180.5L1811.6 168.9" stroke="#2a9412" stroke-width="11.0" stroke-linejoin="round" fill="none" transform="translate(-0.25 -0.25)"/>
<path d="M1834.5 202.3L1830.2 195.3L1822.1 180.5L1811.6 168.9" stroke="#55b808" stroke-width="9.4" stroke-linejoin="round" fill="none" transform="translate(-0.8 -0.8)"/>
<path d="M1834.5 202.3L1830.2 195.3L1822.1 180.5L1811.6 168.9" stroke="#6cc400" stroke-width="7.6" stroke-linejoin="round" fill="none" transform="translate(-1.5 -1.5)"/>
<path d="M1834.5 202.3L1830.2 195.3L1822.1 180.5L1811.6 168.9" stroke="#e2f9b4" stroke-width="1.3" stroke-linejoin="round" stroke-linecap="round" fill="none" transform="translate(-2.4 -2.4)" opacity="0.5"/>
<path d="M1840.6 221.0L1840.6 213.0" stroke="#12143e" stroke-width="12.2" stroke-linejoin="round" fill="none"/>
<path d="M1840.6 221.0L1840.6 213.0" stroke="#2b3384" stroke-width="11.0" stroke-linejoin="round" fill="none" transform="translate(-0.25 -0.25)"/>
<path d="M1840.6 221.0L1840.6 213.0" stroke="#3c47a4" stroke-width="9.4" stroke-linejoin="round" fill="none" transform="translate(-0.8 -0.8)"/>
<path d="M1840.6 221.0L1840.6 213.0" stroke="#4652b4" stroke-width="7.6" stroke-linejoin="round" fill="none" transform="translate(-1.5 -1.5)"/>
<path d="M1834.5 202.3L1830.2 195.3" stroke="#12143e" stroke-width="12.2" stroke-linejoin="round" fill="none"/>
<path d="M1834.5 202.3L1830.2 195.3" stroke="#2b3384" stroke-width="11.0" stroke-linejoin="round" fill="none" transform="translate(-0.25 -0.25)"/>
<path d="M1834.5 202.3L1830.2 195.3" stroke="#3c47a4" stroke-width="9.4" stroke-linejoin="round" fill="none" transform="translate(-0.8 -0.8)"/>
<path d="M1834.5 202.3L1830.2 195.3" stroke="#4652b4" stroke-width="7.6" stroke-linejoin="round" fill="none" transform="translate(-1.5 -1.5)"/>
<path d="M1834.5 202.3L1830.2 195.3" stroke="#c0c8f8" stroke-width="1.3" stroke-linejoin="round" stroke-linecap="round" fill="none" transform="translate(-2.4 -2.4)" opacity="0.5"/>
<path d="M1822.5 179.4L1822.5 165.2" stroke="#12143e" stroke-width="12.2" stroke-linejoin="round" fill="none"/>
<circle cx="1822.5" cy="165.2" r="6.1" fill="#12143e"/>
<path d="M1822.5 179.4L1822.5 165.2" stroke="#2b3384" stroke-width="11.0" stroke-linejoin="round" fill="none" transform="translate(-0.25 -0.25)"/>
<circle cx="1822.5" cy="165.2" r="5.5" fill="#2b3384" transform="translate(-0.25 -0.25)"/>
<path d="M1822.5 179.4L1822.5 165.2" stroke="#3c47a4" stroke-width="9.4" stroke-linejoin="round" fill="none" transform="translate(-0.8 -0.8)"/>
<circle cx="1822.5" cy="165.2" r="4.7" fill="#3c47a4" transform="translate(-0.8 -0.8)"/>
<path d="M1822.5 179.4L1822.5 165.2" stroke="#4652b4" stroke-width="7.6" stroke-linejoin="round" fill="none" transform="translate(-1.5 -1.5)"/>
<circle cx="1822.5" cy="165.2" r="3.8" fill="#4652b4" transform="translate(-1.5 -1.5)"/>
<path d="M1822.5 179.4L1822.5 165.2" stroke="#c0c8f8" stroke-width="1.3" stroke-linejoin="round" stroke-linecap="round" fill="none" transform="translate(-2.4 -2.4)" opacity="0.5"/>
<g font-size="19.2">
<rect x="1376.1" y="188.4" width="56.9" height="22.8" fill="#fff" opacity="0.78"/>
<text x="1381.1" y="206.4">N106</text>
<rect x="1546.1" y="141.2" width="55.8" height="22.8" fill="#fff" opacity="0.78"/>
<text x="1551.1" y="159.2">S130</text>
<rect x="1350.1" y="281.2" width="55.8" height="22.8" fill="#fff" opacity="0.78"/>
<text x="1355.1" y="299.2">Y105</text>
<rect x="1452.1" y="286.9" width="56.9" height="22.8" fill="#fff" opacity="0.78"/>
<text x="1457.1" y="304.9">N132</text>
<rect x="1301.1" y="341.0" width="56.9" height="22.8" fill="#fff" opacity="0.78"/>
<text x="1306.1" y="359.0">N104</text>
<rect x="1625.1" y="279.6" width="45.2" height="22.8" fill="#fff" opacity="0.78"/>
<text x="1630.1" y="297.6">K73</text>
<rect x="1750.3" y="182.7" width="55.8" height="22.8" fill="#fff" opacity="0.78"/>
<text x="1755.3" y="200.7">K234</text>
<rect x="1725.2" y="280.0" width="54.7" height="22.8" fill="#fff" opacity="0.78"/>
<text x="1730.2" y="298.0">T235</text>
<rect x="1873.8" y="280.7" width="56.9" height="22.8" fill="#fff" opacity="0.78"/>
<text x="1878.8" y="298.7">R276</text>
<rect x="1761.6" y="330.3" width="56.9" height="22.8" fill="#fff" opacity="0.78"/>
<text x="1766.6" y="348.3">G236</text>
<rect x="1636.8" y="396.6" width="45.2" height="22.8" fill="#fff" opacity="0.78"/>
<text x="1641.8" y="414.6">S70</text>
<rect x="1735.1" y="398.2" width="55.8" height="22.8" fill="#fff" opacity="0.78"/>
<text x="1740.1" y="416.2">S237</text>
<rect x="1702.4" y="469.8" width="56.9" height="22.8" fill="#fff" opacity="0.78"/>
<text x="1707.4" y="487.8">G238</text>
<rect x="1698.9" y="513.3" width="56.9" height="22.8" fill="#fff" opacity="0.78"/>
<text x="1703.9" y="531.3">D240</text>
<rect x="1462.5" y="490.7" width="55.8" height="22.8" fill="#fff" opacity="0.78"/>
<text x="1467.5" y="508.7">E166</text>
<rect x="1361.4" y="558.9" width="55.8" height="22.8" fill="#fff" opacity="0.78"/>
<text x="1366.4" y="576.9">P167</text>
<rect x="1502.2" y="563.0" width="56.9" height="22.8" fill="#fff" opacity="0.78"/>
<text x="1507.2" y="581.0">N170</text>
</g>
</g>
<g id="legend"><rect x="499.7" y="2410.8" width="103.3" height="62" fill="#33b41a" stroke="#080808" stroke-width="7.6"/>
<rect x="897.2" y="2410.8" width="103.3" height="62" fill="#f7e414" stroke="#080808" stroke-width="7.6"/>
<rect x="1407.0" y="2409.8" width="103.3" height="62" fill="#dc2c1a" stroke="#080808" stroke-width="7.6"/>
<g font-size="43.5" font-style="italic">
<text x="646" y="2457.4">k* ≥ 4.0</text>
<text x="1042.8" y="2462.2">4.0 &gt; k* &gt; 1.5</text>
<text x="1559" y="2462.2">k* ≤ 1.5</text>
</g></g>
<g font-weight="bold">
<text x="-1" y="27.6" font-size="46.5">a</text>
<text x="-1" y="818.6" font-size="54">b</text>
<text transform="translate(-0.5 1608.6) scale(0.86 1)" font-size="50">c</text>
</g>
</svg></body></html>
